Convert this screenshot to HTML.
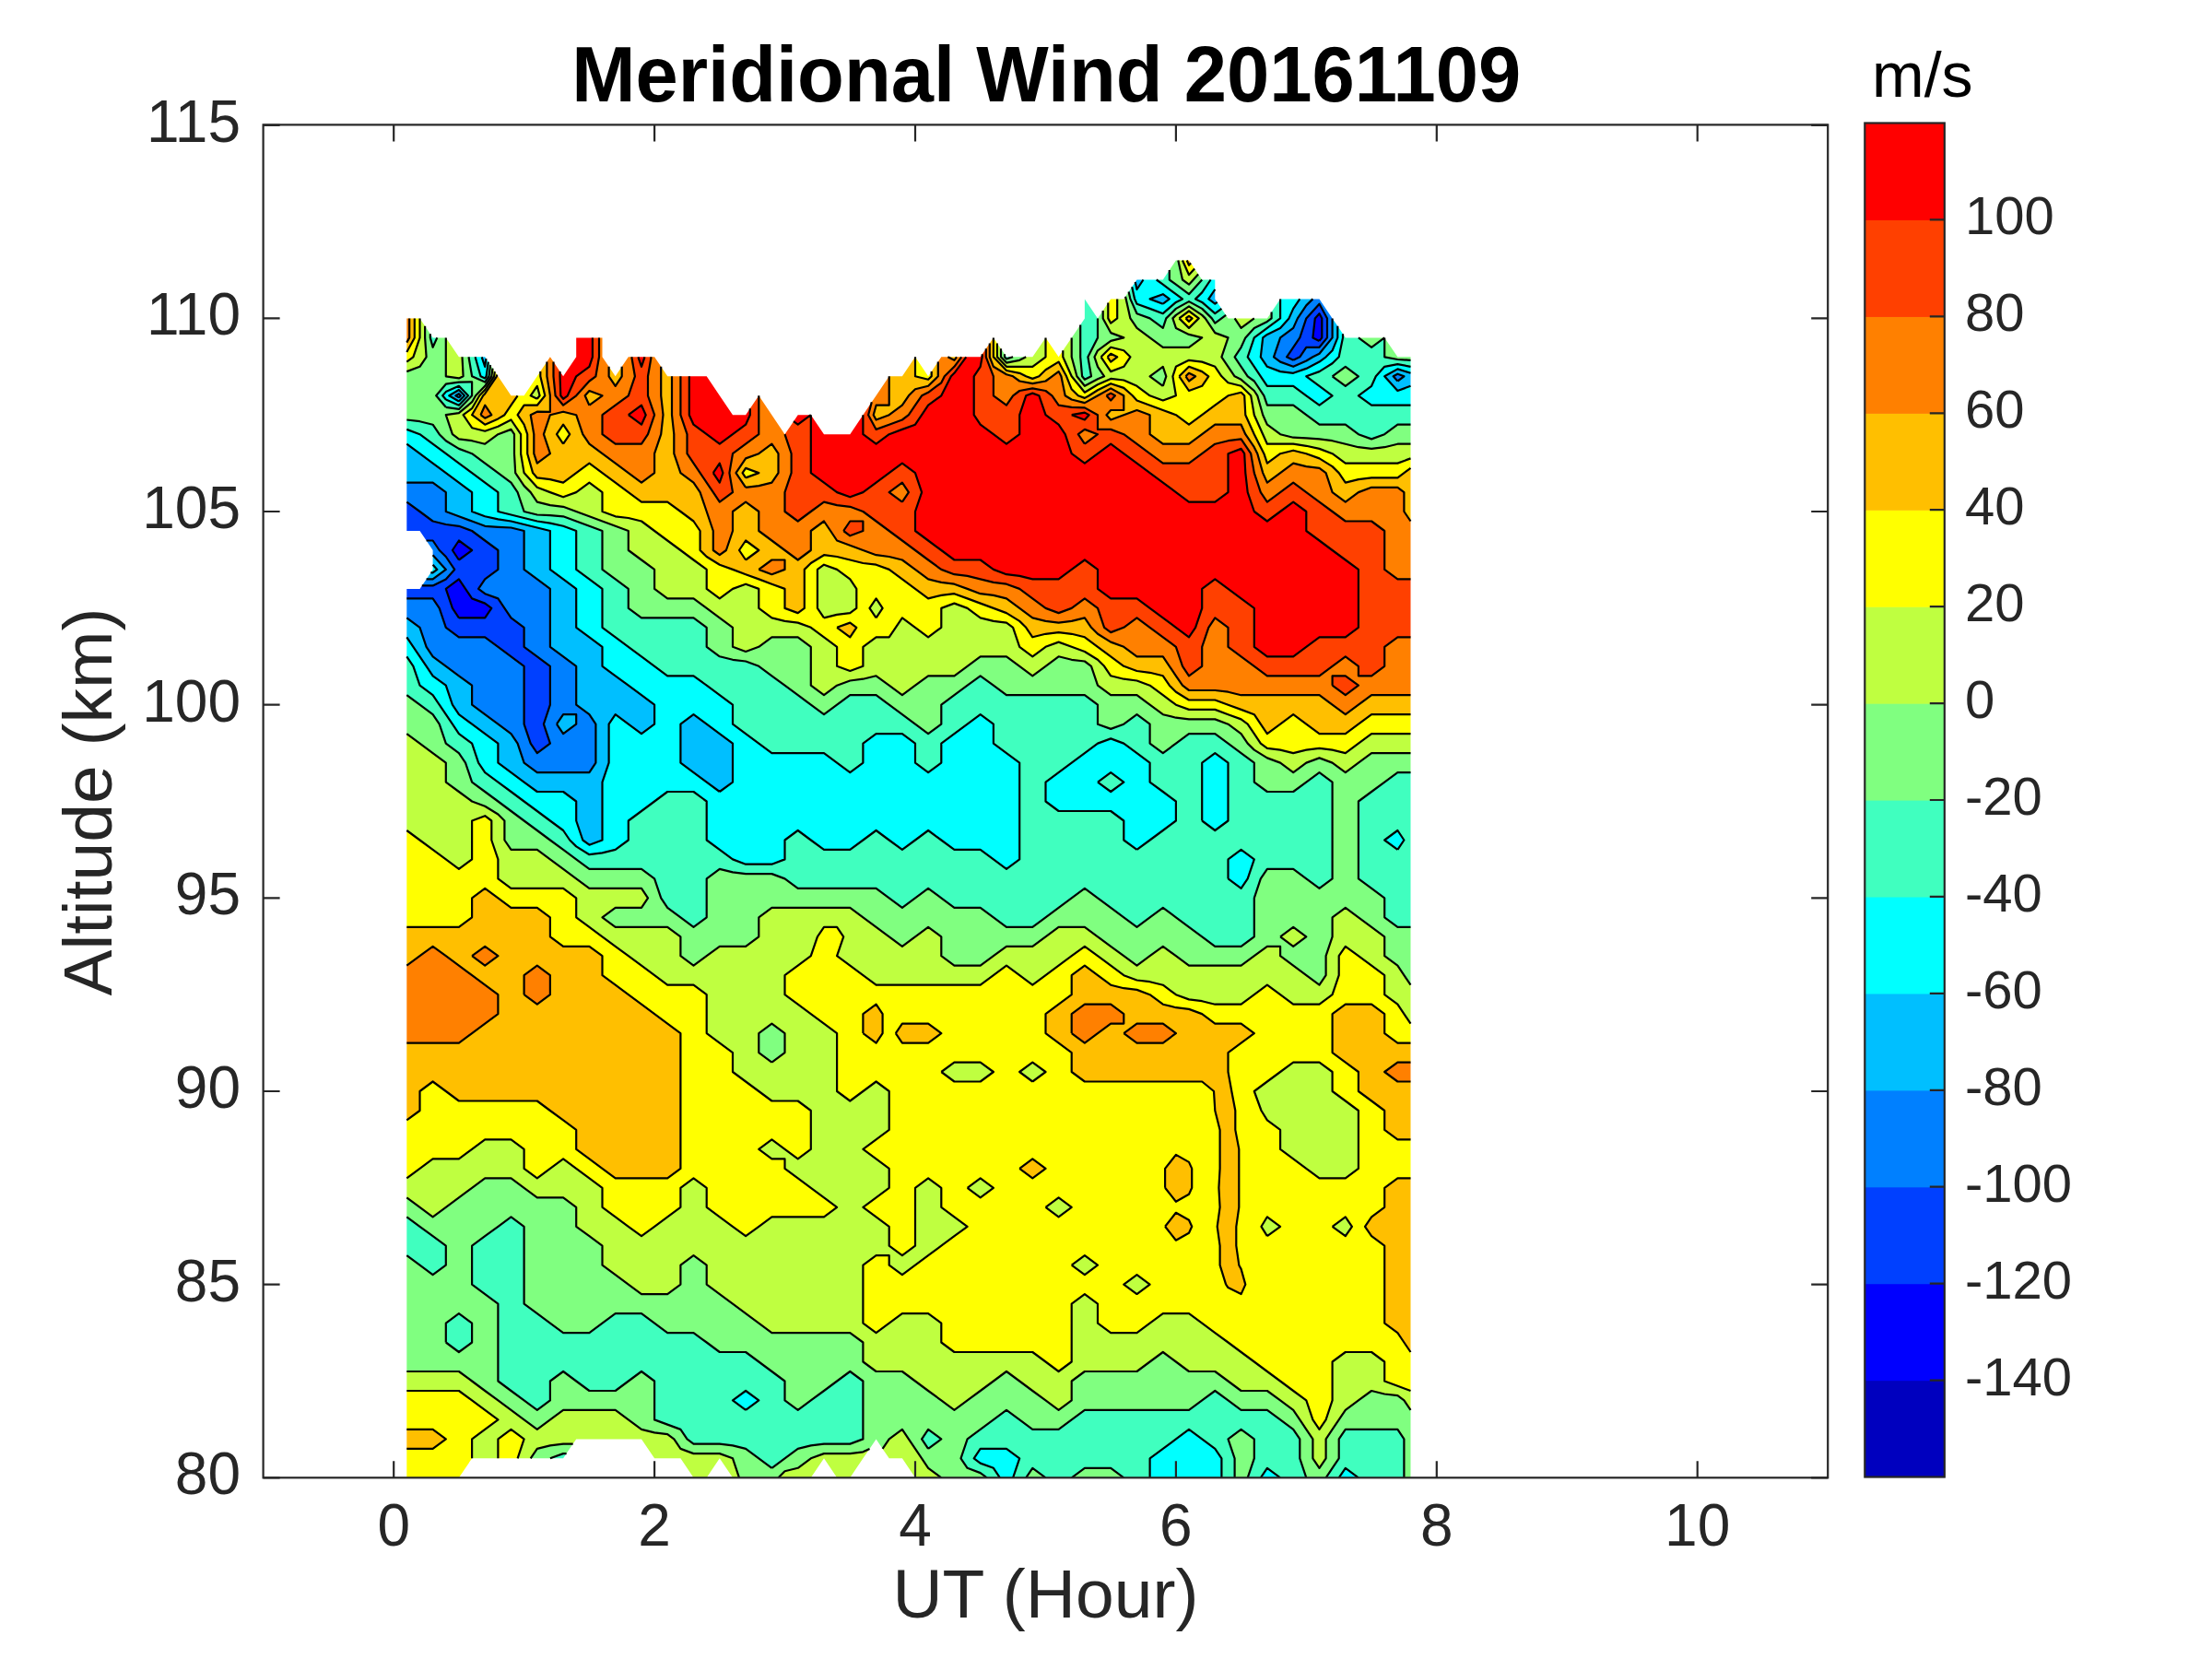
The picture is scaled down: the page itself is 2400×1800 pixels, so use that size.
<!DOCTYPE html><html><head><meta charset="utf-8"><style>html,body{margin:0;padding:0;background:#fff;width:2400px;height:1800px;overflow:hidden}svg{display:block}text{font-family:"Liberation Sans",sans-serif}</style></head><body><svg xmlns="http://www.w3.org/2000/svg" width="2400" height="1800" viewBox="0 0 2400 1800"><rect width="2400" height="1800" fill="#fff"/><defs><clipPath id="pa"><rect x="285.6" y="135.4" width="1697.6" height="1467.8999999999999"/></clipPath></defs><g clip-path="url(#pa)"><path fill="#0000ff" fill-rule="evenodd" d="M490.9 659.9L497.9 670.4L512.1 670.4L526.2 670.4L533.3 659.9L526.2 654.6L512.1 649.4L505 638.9L497.9 628.4L483.8 638.9L483.8 638.9L483.8 638.9ZM490.9 597L497.9 607.5L512.1 597L512.1 597L512.1 597L497.9 586.5ZM1424.4 366.4L1431.5 369.9L1434.3 366.4L1434.3 345.4L1431.5 340.2L1426.8 345.4Z"/>
<path fill="#0040ff" fill-rule="evenodd" d="M575.7 806.6L582.8 817.1L596.9 806.6L596.9 806.6L596.9 806.6L589.9 785.7L596.9 764.7L596.9 764.7L596.9 743.7L596.9 722.8L596.9 722.8L582.8 712.3L568.6 701.8L568.6 680.8L568.6 680.8L554.5 670.4L547.4 659.9L540.4 649.4L526.2 644.2L519.1 638.9L526.2 628.4L540.4 617.9L540.4 617.9L540.4 597L540.4 597L526.2 586.5L512.1 576L512.1 576L497.9 570.8L483.8 569L469.6 565.5L455.5 555L455.5 555L441.3 544.6L441.3 555L441.3 576L455.5 576L462.6 586.5L469.6 586.5L476.7 597L483.8 604L493.2 617.9L483.8 628.4L469.6 635.4L457.8 635.4L455.5 638.9L441.3 638.9L441.3 649.4L455.5 649.4L469.6 649.4L476.7 659.9L483.8 680.8L483.8 680.8L497.9 691.3L512.1 691.3L526.2 691.3L540.4 701.8L540.4 701.8L554.5 712.3L568.6 722.8L568.6 743.7L568.6 764.7L568.6 785.7L568.6 785.7ZM497.9 670.4L490.9 659.9L483.8 638.9L483.8 638.9L483.8 638.9L497.9 628.4L505 638.9L512.1 649.4L526.2 654.6L533.3 659.9L526.2 670.4L512.1 670.4ZM497.9 607.5L490.9 597L497.9 586.5L512.1 597L512.1 597L512.1 597ZM1396.1 387.3L1403.2 390.8L1410.3 387.3L1417.3 376.8L1431.5 376.8L1440 366.4L1440 345.4L1431.5 329.7L1417.3 345.4L1417.3 345.4L1410.3 366.4L1403.2 376.8ZM1431.5 369.9L1424.4 366.4L1426.8 345.4L1431.5 340.2L1434.3 345.4L1434.3 366.4Z"/>
<path fill="#0080ff" fill-rule="evenodd" d="M568.6 827.6L582.8 838.1L596.9 838.1L611.1 838.1L625.2 838.1L639.4 838.1L646.4 827.6L646.4 806.6L646.4 785.7L639.4 775.2L625.2 764.7L625.2 743.7L625.2 722.8L625.2 722.8L611.1 712.3L596.9 701.8L596.9 680.8L596.9 659.9L596.9 638.9L596.9 638.9L582.8 628.4L568.6 617.9L568.6 597L568.6 576L568.6 576L554.5 572.5L540.4 571.8L526.2 570.8L512.1 565.5L497.9 560.3L483.8 555L483.8 534.1L483.8 534.1L469.6 523.6L455.5 523.6L441.3 523.6L441.3 534.1L441.3 544.6L455.5 555L455.5 555L469.6 565.5L483.8 569L497.9 570.8L512.1 576L512.1 576L526.2 586.5L540.4 597L540.4 597L540.4 617.9L540.4 617.9L526.2 628.4L519.1 638.9L526.2 644.2L540.4 649.4L547.4 659.9L554.5 670.4L568.6 680.8L568.6 680.8L568.6 701.8L582.8 712.3L596.9 722.8L596.9 722.8L596.9 743.7L596.9 764.7L596.9 764.7L589.9 785.7L596.9 806.6L596.9 806.6L596.9 806.6L582.8 817.1L575.7 806.6L568.6 785.7L568.6 785.7L568.6 764.7L568.6 743.7L568.6 722.8L554.5 712.3L540.4 701.8L540.4 701.8L526.2 691.3L512.1 691.3L497.9 691.3L483.8 680.8L483.8 680.8L476.7 659.9L469.6 649.4L455.5 649.4L441.3 649.4L441.3 659.9L441.3 670.4L455.5 680.8L455.5 680.8L462.6 701.8L469.6 712.3L483.8 722.8L483.8 722.8L497.9 733.3L512.1 743.7L512.1 743.7L512.1 764.7L526.2 775.2L540.4 785.7L540.4 785.7L554.5 796.1L561.6 806.6L568.6 827.6ZM611.1 796.1L604 785.7L611.1 775.2L625.2 775.2L625.2 785.7L625.2 785.7ZM462.6 628.4L457.8 635.4L469.6 635.4L483.8 628.4L493.2 617.9L483.8 604L476.7 597L469.6 586.5L462.6 586.5L469.6 597L469.6 602.2L483.8 617.9L469.6 628.4ZM494.4 429.3L497.9 431.4L499.9 429.3L497.9 427.2ZM1511.7 408.3L1516.4 413.5L1523.4 408.3L1516.4 405.7ZM1382 387.3L1389.1 392.6L1403.2 397.8L1417.3 391.5L1424.4 387.3L1431.5 383.8L1445.6 366.4L1445.6 345.4L1445.6 345.4L1431.5 324.4L1424.4 324.4L1417.3 331.4L1407.9 345.4L1403.2 355.9L1389.1 366.4L1389.1 366.4ZM1403.2 390.8L1396.1 387.3L1403.2 376.8L1410.3 366.4L1417.3 345.4L1417.3 345.4L1431.5 329.7L1440 345.4L1440 366.4L1431.5 376.8L1417.3 376.8L1410.3 387.3Z"/>
<path fill="#00bfff" fill-rule="evenodd" d="M632.3 911.5L639.4 916.7L653.5 911.5L653.5 911.5L653.5 890.5L653.5 869.5L653.5 848.6L660.6 827.6L660.6 806.6L660.6 785.7L667.7 775.2L681.8 785.7L681.8 785.7L696 796.1L710.1 785.7L710.1 785.7L710.1 764.7L710.1 764.7L696 754.2L681.8 743.7L681.8 743.7L667.7 733.3L653.5 722.8L653.5 701.8L653.5 701.8L639.4 691.3L625.2 680.8L625.2 659.9L625.2 638.9L625.2 638.9L611.1 628.4L596.9 617.9L596.9 597L596.9 576L596.9 576L582.8 572.5L568.6 569L554.5 565.5L540.4 563.4L526.2 560.3L512.1 555L512.1 534.1L512.1 534.1L497.9 523.6L483.8 513.1L483.8 513.1L469.6 502.6L455.5 492.2L455.5 492.2L441.3 481.7L441.3 492.2L441.3 513.1L441.3 523.6L455.5 523.6L469.6 523.6L483.8 534.1L483.8 534.1L483.8 555L497.9 560.3L512.1 565.5L526.2 570.8L540.4 571.8L554.5 572.5L568.6 576L568.6 576L568.6 597L568.6 617.9L582.8 628.4L596.9 638.9L596.9 638.9L596.9 659.9L596.9 680.8L596.9 701.8L611.1 712.3L625.2 722.8L625.2 722.8L625.2 743.7L625.2 764.7L639.4 775.2L646.4 785.7L646.4 806.6L646.4 827.6L639.4 838.1L625.2 838.1L611.1 838.1L596.9 838.1L582.8 838.1L568.6 827.6L568.6 827.6L561.6 806.6L554.5 796.1L540.4 785.7L540.4 785.7L526.2 775.2L512.1 764.7L512.1 743.7L512.1 743.7L497.9 733.3L483.8 722.8L483.8 722.8L469.6 712.3L462.6 701.8L455.5 680.8L455.5 680.8L441.3 670.4L441.3 680.8L441.3 691.3L448.4 701.8L455.5 712.3L462.6 722.8L469.6 733.3L483.8 743.7L483.8 743.7L490.9 764.7L497.9 775.2L512.1 785.7L512.1 785.7L526.2 796.1L540.4 806.6L540.4 827.6L540.4 827.6L554.5 838.1L568.6 848.6L568.6 848.6L582.8 859L596.9 859L611.1 859L625.2 869.5L625.2 869.5L625.2 890.5ZM766.7 848.6L780.8 859L795 848.6L795 848.6L795 827.6L795 806.6L795 806.6L780.8 796.1L766.7 785.7L766.7 785.7L752.5 775.2L738.4 785.7L738.4 785.7L738.4 806.6L738.4 827.6L738.4 827.6L752.5 838.1L766.7 848.6ZM604 785.7L611.1 796.1L625.2 785.7L625.2 785.7L625.2 775.2L611.1 775.2ZM467.3 621.4L462.6 628.4L469.6 628.4L483.8 617.9L469.6 602.2L469.6 612.7L474.3 617.9L469.6 621.4ZM487.3 429.3L497.9 435.5L504 429.3L497.9 423ZM497.9 431.4L494.4 429.3L497.9 427.2L499.9 429.3ZM1502.2 408.3L1516.4 424L1530.5 418.8L1530.5 408.3L1530.5 404.8L1516.4 400.4ZM1516.4 413.5L1511.7 408.3L1516.4 405.7L1523.4 408.3ZM522.7 387.3L526.2 397.8L527.4 389.1L526.2 387.3ZM1367.8 387.3L1374.9 397.8L1389.1 403.1L1403.2 404.8L1417.3 399.9L1431.5 392.6L1438.6 387.3L1445.6 380.3L1451.3 366.4L1451.3 353.8L1445.6 345.4L1445.6 345.4L1445.6 345.4L1445.6 366.4L1431.5 383.8L1424.4 387.3L1417.4 391.5L1403.2 397.8L1389.1 392.6L1382 387.3L1389.1 366.4L1389.1 366.4L1403.2 355.9L1407.9 345.4L1417.3 331.4L1424.4 324.4L1417.3 324.4L1410.3 324.4L1403.2 334.9L1398.5 345.4L1389.1 355.9L1374.9 362.9L1370.2 366.4ZM1247.6 324.4L1261.8 329.7L1268.8 324.4L1261.8 319.2ZM1311.3 324.4L1318.3 329.7L1320.7 327.9L1318.3 324.4L1318.3 314ZM1233.5 303.5L1231.7 306.1L1233.5 314L1240.5 303.5Z"/>
<path fill="#00ffff" fill-rule="evenodd" d="M1056.7 1582.3L1063.7 1587.6L1077.9 1592.8L1084.9 1603.3L1092 1603.3L1099.1 1603.3L1106.2 1582.3L1106.2 1582.3L1106.2 1582.3L1092 1571.9L1077.9 1571.9L1063.7 1571.9ZM1247.6 1603.3L1261.8 1603.3L1275.9 1603.3L1290 1603.3L1304.2 1603.3L1318.3 1603.3L1325.4 1603.3L1325.4 1582.3L1318.3 1571.9L1304.2 1561.4L1304.2 1561.4L1290 1550.9L1275.9 1561.4L1275.9 1561.4L1261.8 1571.9L1247.6 1582.3ZM1367.8 1603.3L1374.9 1603.3L1389.1 1603.3L1389.1 1603.3L1389.1 1603.3L1374.9 1592.8ZM1452.7 1603.3L1459.8 1603.3L1473.9 1603.3L1459.8 1592.8ZM795 1519.4L809.1 1529.9L823.3 1519.4L823.3 1519.4L823.3 1519.4L809.1 1509ZM1332.5 953.4L1332.5 953.4L1346.6 963.9L1353.7 953.4L1360.8 932.4L1360.8 932.4L1360.8 932.4L1346.6 921.9L1332.5 932.4L1332.5 932.4ZM795 932.4L809.1 937.7L823.3 937.7L837.4 937.7L851.5 932.4L851.5 932.4L851.5 911.5L865.7 901L879.8 911.5L879.8 911.5L894 921.9L908.1 921.9L922.3 921.9L936.4 911.5L936.4 911.5L950.6 901L964.7 911.5L964.7 911.5L978.9 921.9L993 911.5L993 911.5L1007.1 901L1021.3 911.5L1021.3 911.5L1035.4 921.9L1049.6 921.9L1063.7 921.9L1077.9 932.4L1077.9 932.4L1092 942.9L1106.2 932.4L1106.2 932.4L1106.2 911.5L1106.2 890.5L1106.2 869.5L1106.2 848.6L1106.2 827.6L1106.2 827.6L1092 817.1L1077.9 806.6L1077.9 785.7L1077.9 785.7L1063.7 775.2L1049.6 785.7L1049.6 785.7L1035.4 796.1L1021.3 806.6L1021.3 806.6L1021.3 827.6L1007.1 838.1L993 827.6L993 806.6L993 806.6L978.9 796.1L964.7 796.1L950.6 796.1L936.4 806.6L936.4 827.6L936.4 827.6L922.3 838.1L908.1 827.6L908.1 827.6L894 817.1L879.8 817.1L865.7 817.1L851.5 817.1L837.4 817.1L823.3 806.6L823.3 806.6L809.1 796.1L795 785.7L795 764.7L795 764.7L780.8 754.2L766.7 743.7L766.7 743.7L752.5 733.3L738.4 733.3L724.2 733.3L710.1 722.8L710.1 722.8L696 712.3L681.8 701.8L681.8 701.8L667.7 691.3L653.5 680.8L653.5 659.9L653.5 638.9L653.5 638.9L639.4 628.4L625.2 617.9L625.2 597L625.2 576L625.2 576L611.1 570.8L596.9 567.6L582.8 565.5L568.6 562L554.5 558.5L540.4 555L540.4 534.1L540.4 534.1L526.2 523.6L512.1 513.1L512.1 513.1L497.9 502.6L483.8 492.2L483.8 492.2L469.6 481.7L455.5 471.2L455.5 471.2L441.3 465.9L441.3 471.2L441.3 481.7L455.5 492.2L455.5 492.2L469.6 502.6L483.8 513.1L483.8 513.1L497.9 523.6L512.1 534.1L512.1 534.1L512.1 555L526.2 560.3L540.4 563.4L554.5 565.5L568.6 569L582.8 572.5L596.9 576L596.9 576L596.9 597L596.9 617.9L611.1 628.4L625.2 638.9L625.2 638.9L625.2 659.9L625.2 680.8L639.4 691.3L653.5 701.8L653.5 701.8L653.5 722.8L667.7 733.3L681.8 743.7L681.8 743.7L696 754.2L710.1 764.7L710.1 764.7L710.1 785.7L710.1 785.7L696 796.1L681.8 785.7L681.8 785.7L667.7 775.2L660.6 785.7L660.6 806.6L660.6 827.6L653.5 848.6L653.5 869.5L653.5 890.5L653.5 911.5L653.5 911.5L639.4 916.7L632.3 911.5L625.2 890.5L625.2 869.5L625.2 869.5L611.1 859L596.9 859L582.8 859L568.6 848.6L568.6 848.6L554.5 838.1L540.4 827.6L540.4 827.6L540.4 806.6L526.2 796.1L512.1 785.7L512.1 785.7L497.9 775.2L490.9 764.7L483.8 743.7L483.8 743.7L469.6 733.3L462.6 722.8L455.5 712.3L448.4 701.8L441.3 691.3L441.3 701.8L441.3 712.3L448.4 722.8L455.5 743.7L455.5 743.7L469.6 754.2L476.7 764.7L483.8 775.2L490.9 785.7L497.9 796.1L512.1 806.6L512.1 806.6L519.1 827.6L526.2 838.1L540.4 848.6L540.4 848.6L554.5 859L568.6 869.5L568.6 869.5L582.8 880L596.9 890.5L596.9 890.5L611.1 901L618.2 911.5L625.2 918.4L639.4 927.2L653.5 925.4L667.7 921.9L681.8 911.5L681.8 911.5L681.8 890.5L696 880L710.1 869.5L710.1 869.5L724.2 859L738.4 859L752.5 859L766.7 869.5L766.7 869.5L766.7 890.5L766.7 911.5L780.8 921.9L795 932.4ZM780.8 859L766.7 848.6L766.7 848.6L752.5 838.1L738.4 827.6L738.4 827.6L738.4 806.6L738.4 785.7L738.4 785.7L752.5 775.2L766.7 785.7L766.7 785.7L780.8 796.1L795 806.6L795 806.6L795 827.6L795 848.6L795 848.6ZM1219.3 911.5L1233.5 921.9L1247.6 911.5L1247.6 911.5L1261.8 901L1275.9 890.5L1275.9 890.5L1275.9 869.5L1275.9 869.5L1261.8 859L1247.6 848.6L1247.6 827.6L1247.6 827.6L1233.5 817.1L1219.3 806.6L1219.3 806.6L1205.2 801.4L1191 806.6L1191 806.6L1176.9 817.1L1162.7 827.6L1162.7 827.6L1148.6 838.1L1134.5 848.6L1134.5 848.6L1134.5 869.5L1134.5 869.5L1148.6 880L1162.7 880L1176.9 880L1191 880L1205.2 880L1219.3 890.5L1219.3 890.5ZM1191 848.6L1191 848.6L1191 848.6L1205.2 838.1L1219.3 848.6L1219.3 848.6L1219.3 848.6L1205.2 859ZM1502.2 911.5L1516.4 921.9L1523.4 911.5L1516.4 901ZM1304.2 890.5L1304.2 890.5L1318.3 901L1332.5 890.5L1332.5 869.5L1332.5 848.6L1332.5 827.6L1318.3 817.1L1304.2 827.6L1304.2 827.6L1304.2 848.6L1304.2 869.5ZM469.6 617.9L467.3 621.4L469.6 621.4L474.3 617.9L469.6 612.7ZM480.2 429.3L483.8 433.5L497.9 439.7L508 429.3L497.9 418.8L483.8 425.1ZM497.9 435.5L487.3 429.3L497.9 423L504 429.3ZM1417.3 429.3L1417.3 429.3L1431.5 439.7L1445.6 429.3L1431.5 418.8L1417.3 408.3L1431.5 403.1L1445.6 394.3L1452.7 387.3L1457 366.4L1457 362.2L1451.3 353.8L1451.3 366.4L1445.6 380.3L1438.6 387.3L1431.5 392.6L1417.3 399.9L1403.2 404.8L1389.1 403.1L1374.9 397.8L1367.8 387.3L1370.2 366.4L1374.9 362.9L1389.1 355.9L1398.5 345.4L1403.2 334.9L1410.3 324.4L1403.2 324.4L1389.1 324.4L1389.1 345.4L1389.1 345.4L1374.9 355.9L1360.8 366.4L1360.8 366.4L1353.7 387.3L1360.8 397.8L1367.8 408.3L1374.9 418.8L1389.1 418.8L1403.2 418.8ZM1473.9 429.3L1473.9 429.3L1488.1 439.7L1502.2 439.7L1516.4 439.7L1530.5 439.7L1530.5 429.3L1530.5 418.8L1516.4 424L1502.2 408.3L1516.4 400.4L1530.5 404.8L1530.5 397.8L1516.4 395.2L1502.2 397.8L1492.8 408.3L1488.1 418.8L1473.9 429.3ZM521.5 408.3L526.2 410.4L527.6 408.3L529.8 392.6L527.4 389.1L526.2 397.8L522.7 387.3L515.6 387.3ZM1231.1 324.4L1233.5 329.7L1247.6 334.9L1261.8 340.2L1275.9 327.9L1283 324.4L1275.9 319.2L1261.8 308.7L1254.7 303.5L1247.6 303.5L1240.5 303.5L1233.5 314L1231.7 306.1L1228.2 311.3ZM1261.8 329.7L1247.6 324.4L1261.8 319.2L1268.8 324.4ZM1297.1 324.4L1304.2 327.9L1318.3 340.2L1325.4 334.9L1320.7 327.9L1318.3 329.7L1311.3 324.4L1318.3 314L1318.3 303.5L1313.6 303.5L1304.2 317.4Z"/>
<path fill="#40ffbf" fill-rule="evenodd" d="M823.3 1582.3L837.4 1592.8L851.5 1582.3L851.5 1582.3L865.7 1571.9L879.8 1568.4L894 1566.6L908.1 1566.6L922.3 1566.6L936.4 1561.4L936.4 1561.4L936.4 1540.4L936.4 1519.4L936.4 1498.5L936.4 1498.5L922.3 1488L908.1 1498.5L908.1 1498.5L894 1509L879.8 1519.4L879.8 1519.4L865.7 1529.9L851.5 1519.4L851.5 1498.5L851.5 1498.5L837.4 1488L823.3 1477.5L823.3 1477.5L809.1 1467L795 1467L780.8 1467L766.7 1456.5L766.7 1456.5L752.5 1446.1L738.4 1446.1L724.2 1446.1L710.1 1435.6L710.1 1435.6L696 1425.1L681.8 1425.1L667.7 1425.1L653.5 1435.6L653.5 1435.6L639.4 1446.1L625.2 1446.1L611.1 1446.1L596.9 1435.6L596.9 1435.6L582.8 1425.1L568.6 1414.6L568.6 1393.6L568.6 1372.7L568.6 1351.7L568.6 1330.8L568.6 1330.8L554.5 1320.3L540.4 1330.8L540.4 1330.8L526.2 1341.2L512.1 1351.7L512.1 1372.7L512.1 1393.6L526.2 1404.1L540.4 1414.6L540.4 1435.6L540.4 1456.5L540.4 1477.5L540.4 1498.5L540.4 1498.5L554.5 1509L568.6 1519.4L568.6 1519.4L582.8 1529.9L596.9 1519.4L596.9 1519.4L596.9 1498.5L611.1 1488L625.2 1498.5L625.2 1498.5L639.4 1509L653.5 1509L667.7 1509L681.8 1498.5L681.8 1498.5L696 1488L710.1 1498.5L710.1 1498.5L710.1 1519.4L710.1 1540.4L724.2 1545.6L738.4 1550.9L745.5 1561.4L752.5 1566.6L766.7 1566.6L780.8 1566.6L795 1568.4L809.1 1571.9L823.3 1582.3ZM809.1 1529.9L795 1519.4L809.1 1509L823.3 1519.4L823.3 1519.4L823.3 1519.4ZM1042.5 1582.3L1049.6 1592.8L1063.7 1598.1L1070.8 1603.3L1077.9 1603.3L1084.9 1603.3L1077.9 1592.8L1063.7 1587.6L1056.7 1582.3L1063.7 1571.9L1077.9 1571.9L1092 1571.9L1106.2 1582.3L1106.2 1582.3L1106.2 1582.3L1099.1 1603.3L1106.2 1603.3L1113.2 1603.3L1120.3 1592.8L1134.5 1603.3L1134.5 1603.3L1148.6 1603.3L1162.7 1603.3L1162.7 1603.3L1176.9 1592.8L1191 1592.8L1205.2 1592.8L1219.3 1603.3L1219.3 1603.3L1233.5 1603.3L1247.6 1603.3L1247.6 1603.3L1247.6 1582.3L1261.8 1571.9L1275.9 1561.4L1275.9 1561.4L1290 1550.9L1304.2 1561.4L1304.2 1561.4L1318.3 1571.9L1325.4 1582.3L1325.4 1603.3L1332.5 1603.3L1339.6 1603.3L1339.6 1582.3L1332.5 1561.4L1332.5 1561.4L1332.5 1561.4L1346.6 1550.9L1360.8 1561.4L1360.8 1561.4L1360.8 1582.3L1360.8 1582.3L1353.7 1603.3L1360.8 1603.3L1367.8 1603.3L1374.9 1592.8L1389.1 1603.3L1389.1 1603.3L1403.2 1603.3L1417.3 1603.3L1417.3 1603.3L1417.3 1603.3L1410.3 1582.3L1410.3 1561.4L1403.2 1550.9L1389.1 1540.4L1389.1 1540.4L1374.9 1529.9L1360.8 1529.9L1346.6 1529.9L1332.5 1519.4L1332.5 1519.4L1318.3 1509L1304.2 1519.4L1304.2 1519.4L1290 1529.9L1275.9 1529.9L1261.8 1529.9L1247.6 1529.9L1233.5 1529.9L1219.3 1529.9L1205.2 1529.9L1191 1529.9L1176.9 1529.9L1162.7 1540.4L1162.7 1540.4L1148.6 1550.9L1134.5 1550.9L1120.3 1550.9L1106.2 1540.4L1106.2 1540.4L1092 1529.9L1077.9 1540.4L1077.9 1540.4L1063.7 1550.9L1049.6 1561.4L1049.6 1561.4ZM1438.6 1603.3L1445.6 1603.3L1452.7 1603.3L1459.8 1592.8L1473.9 1603.3L1473.9 1603.3L1488.1 1603.3L1502.2 1603.3L1516.4 1603.3L1523.4 1603.3L1523.4 1582.3L1523.4 1561.4L1516.4 1550.9L1502.2 1550.9L1488.1 1550.9L1473.9 1550.9L1459.8 1550.9L1452.7 1561.4L1452.7 1582.3L1445.6 1592.8ZM596.9 1582.3L611.1 1582.3L614.6 1577.1L611.1 1577.1ZM1000.1 1561.4L1007.1 1571.9L1021.3 1561.4L1007.1 1550.9ZM483.8 1456.5L483.8 1456.5L497.9 1467L512.1 1456.5L512.1 1456.5L512.1 1435.6L512.1 1435.6L497.9 1425.1L483.8 1435.6L483.8 1435.6ZM455.5 1372.7L455.5 1372.7L469.6 1383.2L483.8 1372.7L483.8 1372.7L483.8 1351.7L483.8 1351.7L469.6 1341.2L455.5 1330.8L455.5 1330.8L441.3 1320.3L441.3 1330.8L441.3 1351.7L441.3 1362.2ZM1304.2 1016.3L1304.2 1016.3L1318.3 1026.8L1332.5 1026.8L1346.6 1026.8L1360.8 1016.3L1360.8 1016.3L1360.8 995.3L1360.8 974.3L1367.8 953.4L1374.9 942.9L1389.1 942.9L1403.2 942.9L1417.3 953.4L1417.3 953.4L1431.5 963.9L1445.6 953.4L1445.6 932.4L1445.6 911.5L1445.6 890.5L1445.6 869.5L1445.6 848.6L1431.5 838.1L1417.3 848.6L1417.3 848.6L1403.2 859L1389.1 859L1374.9 859L1360.8 848.6L1360.8 827.6L1360.8 827.6L1346.6 817.1L1332.5 806.6L1332.5 806.6L1318.3 796.1L1304.2 796.1L1290 796.1L1275.9 806.6L1275.9 806.6L1261.8 817.1L1247.6 806.6L1247.6 785.7L1247.6 785.7L1233.5 775.2L1219.3 785.7L1219.3 785.7L1205.2 790.9L1191 785.7L1191 785.7L1191 764.7L1176.9 754.2L1162.7 754.2L1148.6 754.2L1134.5 754.2L1120.3 754.2L1106.2 754.2L1092 754.2L1077.9 743.7L1077.9 743.7L1063.7 733.3L1049.6 743.7L1049.6 743.7L1035.4 754.2L1021.3 764.7L1021.3 764.7L1021.3 785.7L1007.1 796.1L993 785.7L993 785.7L978.9 775.2L964.7 764.7L964.7 764.7L950.6 754.2L936.4 754.2L922.3 754.2L908.1 764.7L908.1 764.7L894 775.2L879.8 764.7L879.8 764.7L865.7 754.2L851.5 743.7L851.5 743.7L837.4 733.3L823.3 722.8L823.3 722.8L809.1 717.5L795 715.8L780.8 712.3L766.7 701.8L766.7 680.8L766.7 680.8L752.5 670.4L738.4 670.4L724.2 670.4L710.1 670.4L696 670.4L681.8 659.9L681.8 638.9L681.8 638.9L667.7 628.4L653.5 617.9L653.5 597L653.5 576L653.5 576L639.4 570.8L625.2 565.5L611.1 560.3L596.9 559.2L582.8 558.5L568.6 555L568.6 555L561.6 534.1L554.5 523.6L540.4 513.1L540.4 513.1L526.2 502.6L512.1 492.2L512.1 492.2L497.9 486.9L483.8 478.2L476.7 471.2L469.6 460.7L455.5 457.2L441.3 455.5L441.3 465.9L455.5 471.2L455.5 471.2L469.6 481.7L483.8 492.2L483.8 492.2L497.9 502.6L512.1 513.1L512.1 513.1L526.2 523.6L540.4 534.1L540.4 534.1L540.4 555L554.5 558.5L568.6 562L582.8 565.5L596.9 567.6L611.1 570.8L625.2 576L625.2 576L625.2 597L625.2 617.9L639.4 628.4L653.5 638.9L653.5 638.9L653.5 659.9L653.5 680.8L667.7 691.3L681.8 701.8L681.8 701.8L696 712.3L710.1 722.8L710.1 722.8L724.2 733.3L738.4 733.3L752.5 733.3L766.7 743.7L766.7 743.7L780.8 754.2L795 764.7L795 764.7L795 785.7L809.1 796.1L823.3 806.6L823.3 806.6L837.4 817.1L851.5 817.1L865.7 817.1L879.8 817.1L894 817.1L908.1 827.6L908.1 827.6L922.3 838.1L936.4 827.6L936.4 827.6L936.4 806.6L950.6 796.1L964.7 796.1L978.9 796.1L993 806.6L993 806.6L993 827.6L1007.1 838.1L1021.3 827.6L1021.3 806.6L1021.3 806.6L1035.4 796.1L1049.6 785.7L1049.6 785.7L1063.7 775.2L1077.9 785.7L1077.9 785.7L1077.9 806.6L1092 817.1L1106.2 827.6L1106.2 827.6L1106.2 848.6L1106.2 869.5L1106.2 890.5L1106.2 911.5L1106.2 932.4L1106.2 932.4L1092 942.9L1077.9 932.4L1077.9 932.4L1063.7 921.9L1049.6 921.9L1035.4 921.9L1021.3 911.5L1021.3 911.5L1007.1 901L993 911.5L993 911.5L978.9 921.9L964.7 911.5L964.7 911.5L950.6 901L936.4 911.5L936.4 911.5L922.3 921.9L908.1 921.9L894 921.9L879.8 911.5L879.8 911.5L865.7 901L851.5 911.5L851.5 932.4L851.5 932.4L837.4 937.7L823.3 937.7L809.1 937.7L795 932.4L795 932.4L780.8 921.9L766.7 911.5L766.7 890.5L766.7 869.5L766.7 869.5L752.5 859L738.4 859L724.2 859L710.1 869.5L710.1 869.5L696 880L681.8 890.5L681.8 911.5L681.8 911.5L667.7 921.9L653.5 925.4L639.4 927.2L625.2 918.4L618.2 911.5L611.1 901L596.9 890.5L596.9 890.5L582.8 880L568.6 869.5L568.6 869.5L554.5 859L540.4 848.6L540.4 848.6L526.2 838.1L519.1 827.6L512.1 806.6L512.1 806.6L497.9 796.1L490.9 785.7L483.8 775.2L476.7 764.7L469.6 754.2L455.5 743.7L455.5 743.7L448.4 722.8L441.3 712.3L441.3 722.8L441.3 743.7L441.3 754.2L455.5 764.7L455.5 764.7L469.6 775.2L476.7 785.7L483.8 806.6L483.8 806.6L497.9 817.1L505 827.6L512.1 848.6L512.1 848.6L526.2 859L540.4 869.5L540.4 869.5L554.5 880L568.6 890.5L568.6 890.5L582.8 901L596.9 911.5L596.9 911.5L611.1 921.9L625.2 932.4L625.2 932.4L639.4 942.9L653.5 942.9L667.7 942.9L681.8 942.9L696 942.9L710.1 953.4L710.1 953.4L717.2 974.3L724.2 984.8L738.4 995.3L738.4 995.3L752.5 1005.8L766.7 995.3L766.7 995.3L766.7 974.3L766.7 953.4L780.8 942.9L795 946.4L809.1 948.1L823.3 948.1L837.4 948.1L851.5 953.4L851.5 953.4L865.7 963.9L879.8 963.9L894 963.9L908.1 963.9L922.3 963.9L936.4 963.9L950.6 963.9L964.7 974.3L964.7 974.3L978.9 984.8L993 974.3L993 974.3L1007.1 963.9L1021.3 974.3L1021.3 974.3L1035.4 984.8L1049.6 984.8L1063.7 984.8L1077.9 995.3L1077.9 995.3L1092 1005.8L1106.2 1005.8L1120.3 1005.8L1134.5 995.3L1134.5 995.3L1148.6 984.8L1162.7 974.3L1162.7 974.3L1176.9 963.9L1191 974.3L1191 974.3L1205.2 984.8L1219.3 995.3L1219.3 995.3L1233.5 1005.8L1247.6 995.3L1247.6 995.3L1261.8 984.8L1275.9 995.3L1275.9 995.3L1290 1005.8ZM1304.2 890.5L1304.2 890.5L1304.2 869.5L1304.2 848.6L1304.2 827.6L1304.2 827.6L1318.3 817.1L1332.5 827.6L1332.5 848.6L1332.5 869.5L1332.5 890.5L1318.3 901ZM1332.5 953.4L1332.5 953.4L1332.5 932.4L1332.5 932.4L1346.6 921.9L1360.8 932.4L1360.8 932.4L1360.8 932.4L1353.7 953.4L1346.6 963.9ZM1233.5 921.9L1219.3 911.5L1219.3 890.5L1219.3 890.5L1205.2 880L1191 880L1176.9 880L1162.7 880L1148.6 880L1134.5 869.5L1134.5 869.5L1134.5 848.6L1134.5 848.6L1148.6 838.1L1162.7 827.6L1162.7 827.6L1176.9 817.1L1191 806.6L1191 806.6L1205.2 801.4L1219.3 806.6L1219.3 806.6L1233.5 817.1L1247.6 827.6L1247.6 827.6L1247.6 848.6L1261.8 859L1275.9 869.5L1275.9 869.5L1275.9 890.5L1275.9 890.5L1261.8 901L1247.6 911.5L1247.6 911.5ZM1502.2 995.3L1516.4 1005.8L1530.5 1005.8L1530.5 995.3L1530.5 974.3L1530.5 953.4L1530.5 932.4L1530.5 911.5L1530.5 890.5L1530.5 869.5L1530.5 848.6L1530.5 838.1L1516.4 838.1L1502.2 848.6L1502.2 848.6L1488.1 859L1473.9 869.5L1473.9 869.5L1473.9 890.5L1473.9 911.5L1473.9 932.4L1473.9 953.4L1473.9 953.4L1488.1 963.9L1502.2 974.3L1502.2 974.3ZM1516.4 921.9L1502.2 911.5L1516.4 901L1523.4 911.5ZM1191 848.6L1191 848.6L1205.2 859L1219.3 848.6L1219.3 848.6L1219.3 848.6L1205.2 838.1L1191 848.6ZM1473.9 471.2L1473.9 471.2L1488.1 476.4L1502.2 471.2L1502.2 471.2L1516.4 460.7L1530.5 460.7L1530.5 450.2L1530.5 439.7L1516.4 439.7L1502.2 439.7L1488.1 439.7L1473.9 429.3L1473.9 429.3L1473.9 429.3L1488.1 418.8L1492.8 408.3L1502.2 397.8L1516.4 395.2L1530.5 397.8L1530.5 390.8L1516.4 390L1502.2 387.3L1502.2 366.4L1502.2 366.4L1502.2 366.4L1488.1 376.8L1473.9 366.4L1473.9 366.4L1459.8 366.4L1457 362.2L1457 366.4L1452.7 387.3L1445.6 394.3L1431.5 403.1L1417.3 408.3L1431.5 418.8L1445.6 429.3L1431.5 439.7L1417.3 429.3L1417.3 429.3L1403.2 418.8L1389.1 418.8L1374.9 418.8L1367.8 408.3L1360.8 397.8L1353.7 387.3L1360.8 366.4L1360.8 366.4L1374.9 355.9L1389.1 345.4L1389.1 345.4L1389.1 324.4L1389.1 324.4L1379.6 338.4L1379.6 345.4L1374.9 348.9L1360.8 355.9L1351.3 366.4L1346.6 376.8L1339.6 387.3L1346.6 397.8L1353.7 408.3L1360.8 413.5L1371.4 429.3L1374.9 439.7L1389.1 439.7L1403.2 439.7L1417.3 450.2L1417.3 450.2L1431.5 460.7L1445.6 460.7L1459.8 460.7ZM1445.6 408.3L1445.6 408.3L1445.6 408.3L1459.8 397.8L1473.9 408.3L1459.8 418.8ZM473.2 429.3L483.8 441.8L497.9 443.9L512.1 429.3L512.1 429.3L512.1 414.3L497.9 414.6L483.8 416.7ZM483.8 433.5L480.2 429.3L483.8 425.1L497.9 418.8L508 429.3L497.9 439.7ZM512.1 408.3L526.2 414.6L530.5 408.3L532.1 396.1L529.8 392.6L527.6 408.3L526.2 410.4L521.5 408.3L515.6 387.3L512.1 387.3L508.5 387.3L512.1 408.3ZM1174.1 408.3L1176.9 411.8L1184 408.3L1180.4 387.3L1191 366.4L1191 345.4L1191 345.4L1176.9 324.4L1176.9 345.4L1172.2 352.4L1172.2 366.4L1172.2 387.3ZM1090 387.3L1092 389.4L1099.1 387.3L1092 387.3L1090 384.3ZM466.8 366.4L469.6 376.8L474.3 366.4L469.6 366.4L466.8 362.2ZM1247.6 345.4L1261.8 355.9L1265.3 345.4L1275.9 334.9L1290 327.1L1304.2 334.9L1314.8 345.4L1318.3 350.6L1325.4 345.4L1330.1 341.9L1325.4 334.9L1318.3 340.2L1304.2 327.9L1297.1 324.4L1304.2 317.4L1313.6 303.5L1304.2 303.5L1304.2 303.5L1304.2 303.5L1290 319.2L1275.9 308.7L1268.8 303.5L1268.8 293L1261.8 303.5L1254.7 303.5L1261.8 308.7L1275.9 319.2L1283 324.4L1275.9 327.9L1261.8 340.2L1247.6 334.9L1233.5 329.7L1231.1 324.4L1228.2 311.3L1224.6 316.6L1226.4 324.4L1233.5 340.2L1247.6 345.4Z"/>
<path fill="#80ff80" fill-rule="evenodd" d="M802 1603.3L809.1 1603.3L823.3 1603.3L837.4 1603.3L844.5 1603.3L851.5 1596.3L865.7 1592.8L879.8 1582.3L879.8 1582.3L894 1577.1L908.1 1577.1L922.3 1577.1L936.4 1575.3L943.5 1571.9L950.6 1561.4L957.6 1571.9L964.7 1561.4L964.7 1561.4L978.9 1550.9L985.9 1561.4L993 1571.9L1000.1 1582.3L1007.1 1592.8L1021.3 1603.3L1021.3 1603.3L1035.4 1603.3L1049.6 1603.3L1063.7 1603.3L1070.8 1603.3L1063.7 1598.1L1049.6 1592.8L1042.5 1582.3L1049.6 1561.4L1049.6 1561.4L1063.7 1550.9L1077.9 1540.4L1077.9 1540.4L1092 1529.9L1106.2 1540.4L1106.2 1540.4L1120.3 1550.9L1134.5 1550.9L1148.6 1550.9L1162.7 1540.4L1162.7 1540.4L1176.9 1529.9L1191 1529.9L1205.2 1529.9L1219.3 1529.9L1233.5 1529.9L1247.6 1529.9L1261.8 1529.9L1275.9 1529.9L1290 1529.9L1304.2 1519.4L1304.2 1519.4L1318.3 1509L1332.5 1519.4L1332.5 1519.4L1346.6 1529.9L1360.8 1529.9L1374.9 1529.9L1389.1 1540.4L1389.1 1540.4L1403.2 1550.9L1410.3 1561.4L1410.3 1582.3L1417.3 1603.3L1417.3 1603.3L1431.5 1603.3L1438.6 1603.3L1445.6 1592.8L1452.7 1582.3L1452.7 1561.4L1459.8 1550.9L1473.9 1550.9L1488.1 1550.9L1502.2 1550.9L1516.4 1550.9L1523.4 1561.4L1523.4 1582.3L1523.4 1603.3L1530.5 1603.3L1530.5 1582.3L1530.5 1561.4L1530.5 1540.4L1530.5 1529.9L1523.4 1519.4L1516.4 1514.2L1502.2 1512.5L1488.1 1509L1473.9 1519.4L1473.9 1519.4L1459.8 1529.9L1452.7 1540.4L1445.6 1550.9L1438.6 1561.4L1438.6 1582.3L1431.5 1592.8L1424.4 1582.3L1424.4 1561.4L1417.3 1550.9L1410.3 1540.4L1403.2 1529.9L1389.1 1519.4L1389.1 1519.4L1374.9 1509L1360.8 1509L1346.6 1509L1332.5 1498.5L1332.5 1498.5L1318.3 1488L1304.2 1488L1290 1488L1275.9 1477.5L1275.9 1477.5L1261.8 1467L1247.6 1477.5L1247.6 1477.5L1233.5 1488L1219.3 1488L1205.2 1488L1191 1488L1176.9 1488L1162.7 1498.5L1162.7 1498.5L1162.7 1519.4L1148.6 1529.9L1134.5 1519.4L1134.5 1519.4L1120.3 1509L1106.2 1498.5L1106.2 1498.5L1092 1488L1077.9 1498.5L1077.9 1498.5L1063.7 1509L1049.6 1519.4L1049.6 1519.4L1035.4 1529.9L1021.3 1519.4L1021.3 1519.4L1007.1 1509L993 1498.5L993 1498.5L978.9 1488L964.7 1488L950.6 1488L936.4 1477.5L936.4 1456.5L936.4 1456.5L922.3 1446.1L908.1 1446.1L894 1446.1L879.8 1446.1L865.7 1446.1L851.5 1446.1L837.4 1446.1L823.3 1435.6L823.3 1435.6L809.1 1425.1L795 1414.6L795 1414.6L780.8 1404.1L766.7 1393.6L766.7 1372.7L766.7 1372.7L752.5 1362.2L738.4 1372.7L738.4 1372.7L738.4 1393.6L724.2 1404.1L710.1 1404.1L696 1404.1L681.8 1393.6L681.8 1393.6L667.7 1383.2L653.5 1372.7L653.5 1351.7L653.5 1351.7L639.4 1341.2L625.2 1330.8L625.2 1309.8L625.2 1309.8L611.1 1299.3L596.9 1299.3L582.8 1299.3L568.6 1288.8L568.6 1288.8L554.5 1278.3L540.4 1278.3L526.2 1278.3L512.1 1288.8L512.1 1288.8L497.9 1299.3L483.8 1309.8L483.8 1309.8L469.6 1320.3L455.5 1309.8L455.5 1309.8L441.3 1299.3L441.3 1309.8L441.3 1320.3L455.5 1330.8L455.5 1330.8L469.6 1341.2L483.8 1351.7L483.8 1351.7L483.8 1372.7L483.8 1372.7L469.6 1383.2L455.5 1372.7L455.5 1372.7L441.3 1362.2L441.3 1372.7L441.3 1393.6L441.3 1414.6L441.3 1435.6L441.3 1456.5L441.3 1477.5L441.3 1488L455.5 1488L469.6 1488L483.8 1488L497.9 1488L512.1 1498.5L512.1 1498.5L526.2 1509L540.4 1519.4L540.4 1519.4L554.5 1529.9L568.6 1540.4L568.6 1540.4L582.8 1550.9L596.9 1540.4L596.9 1540.4L611.1 1529.9L625.2 1529.9L639.4 1529.9L653.5 1529.9L667.7 1529.9L681.8 1540.4L681.8 1540.4L696 1550.9L710.1 1554.4L724.2 1556.1L731.3 1561.4L738.4 1571.9L752.5 1577.1L766.7 1577.1L780.8 1577.1L795 1582.3L795 1582.3ZM837.4 1592.8L823.3 1582.3L823.3 1582.3L809.1 1571.9L795 1568.4L780.8 1566.6L766.7 1566.6L752.5 1566.6L745.5 1561.4L738.4 1550.9L724.2 1545.6L710.1 1540.4L710.1 1519.4L710.1 1498.5L710.1 1498.5L696 1488L681.8 1498.5L681.8 1498.5L667.7 1509L653.5 1509L639.4 1509L625.2 1498.5L625.2 1498.5L611.1 1488L596.9 1498.5L596.9 1519.4L596.9 1519.4L582.8 1529.9L568.6 1519.4L568.6 1519.4L554.5 1509L540.4 1498.5L540.4 1498.5L540.4 1477.5L540.4 1456.5L540.4 1435.6L540.4 1414.6L526.2 1404.1L512.1 1393.6L512.1 1372.7L512.1 1351.7L526.2 1341.2L540.4 1330.8L540.4 1330.8L554.5 1320.3L568.6 1330.8L568.6 1330.8L568.6 1351.7L568.6 1372.7L568.6 1393.6L568.6 1414.6L582.8 1425.1L596.9 1435.6L596.9 1435.6L611.1 1446.1L625.2 1446.1L639.4 1446.1L653.5 1435.6L653.5 1435.6L667.7 1425.1L681.8 1425.1L696 1425.1L710.1 1435.6L710.1 1435.6L724.2 1446.1L738.4 1446.1L752.5 1446.1L766.7 1456.5L766.7 1456.5L780.8 1467L795 1467L809.1 1467L823.3 1477.5L823.3 1477.5L837.4 1488L851.5 1498.5L851.5 1498.5L851.5 1519.4L865.7 1529.9L879.8 1519.4L879.8 1519.4L894 1509L908.1 1498.5L908.1 1498.5L922.3 1488L936.4 1498.5L936.4 1498.5L936.4 1519.4L936.4 1540.4L936.4 1561.4L936.4 1561.4L922.3 1566.6L908.1 1566.6L894 1566.6L879.8 1568.4L865.7 1571.9L851.5 1582.3L851.5 1582.3ZM1007.1 1571.9L1000.1 1561.4L1007.1 1550.9L1021.3 1561.4ZM483.8 1456.5L483.8 1456.5L483.8 1435.6L483.8 1435.6L497.9 1425.1L512.1 1435.6L512.1 1435.6L512.1 1456.5L512.1 1456.5L497.9 1467ZM1113.2 1603.3L1120.3 1603.3L1134.5 1603.3L1120.3 1592.8ZM1162.7 1603.3L1162.7 1603.3L1176.9 1603.3L1191 1603.3L1205.2 1603.3L1219.3 1603.3L1219.3 1603.3L1219.3 1603.3L1205.2 1592.8L1191 1592.8L1176.9 1592.8L1162.7 1603.3ZM1339.6 1603.3L1346.6 1603.3L1353.7 1603.3L1360.8 1582.3L1360.8 1582.3L1360.8 1561.4L1360.8 1561.4L1346.6 1550.9L1332.5 1561.4L1332.5 1561.4L1332.5 1561.4L1339.6 1582.3ZM575.7 1582.3L582.8 1582.3L596.9 1582.3L596.9 1582.3L611.1 1577.1L614.6 1577.1L621.7 1566.6L611.1 1566.6L596.9 1568.4L582.8 1571.9ZM823.3 1142.1L837.4 1152.6L851.5 1142.1L851.5 1142.1L851.5 1121.1L851.5 1121.1L837.4 1110.6L823.3 1121.1ZM1417.3 1058.2L1417.3 1058.2L1431.5 1068.7L1438.6 1058.2L1438.6 1037.2L1445.6 1016.3L1445.6 995.3L1445.6 995.3L1459.8 984.8L1473.9 995.3L1473.9 995.3L1488.1 1005.8L1502.2 1016.3L1502.2 1016.3L1502.2 1037.2L1516.4 1047.7L1523.4 1058.2L1530.5 1068.7L1530.5 1058.2L1530.5 1037.2L1530.5 1016.3L1530.5 1005.8L1516.4 1005.8L1502.2 995.3L1502.2 974.3L1502.2 974.3L1488.1 963.9L1473.9 953.4L1473.9 953.4L1473.9 932.4L1473.9 911.5L1473.9 890.5L1473.9 869.5L1473.9 869.5L1488.1 859L1502.2 848.6L1502.2 848.6L1516.4 838.1L1530.5 838.1L1530.5 827.6L1530.5 817.1L1516.4 817.1L1502.2 817.1L1488.1 817.1L1473.9 827.6L1473.9 827.6L1459.8 838.1L1445.6 827.6L1445.6 827.6L1431.5 822.4L1417.3 827.6L1417.3 827.6L1403.2 838.1L1389.1 827.6L1389.1 827.6L1374.9 822.4L1360.8 813.6L1353.7 806.6L1346.6 796.1L1332.5 785.7L1332.5 785.7L1318.3 780.4L1304.2 780.4L1290 780.4L1275.9 778.7L1261.8 775.2L1247.6 764.7L1247.6 764.7L1233.5 754.2L1219.3 754.2L1205.2 754.2L1191 743.7L1191 743.7L1184 722.8L1176.9 717.5L1162.7 715.8L1148.6 712.3L1134.5 722.8L1134.5 722.8L1120.3 733.3L1106.2 722.8L1106.2 722.8L1092 712.3L1077.9 712.3L1063.7 712.3L1049.6 722.8L1049.6 722.8L1035.4 733.3L1021.3 733.3L1007.1 733.3L993 743.7L993 743.7L978.9 754.2L964.7 743.7L964.7 743.7L950.6 733.3L936.4 736.7L922.3 738.5L908.1 743.7L908.1 743.7L894 754.2L879.8 743.7L879.8 722.8L879.8 701.8L879.8 701.8L865.7 691.3L851.5 691.3L837.4 691.3L823.3 701.8L823.3 701.8L809.1 707L795 701.8L795 680.8L795 680.8L780.8 670.4L766.7 659.9L766.7 659.9L752.5 649.4L738.4 649.4L724.2 649.4L710.1 638.9L710.1 617.9L710.1 617.9L696 607.5L681.8 597L681.8 576L681.8 576L667.7 570.8L653.5 565.5L639.4 560.3L625.2 555L625.2 555L611.1 549.8L596.9 548.1L582.8 544.6L575.7 534.1L568.6 527.1L559.2 513.1L558 492.2L558 471.2L554.5 465.9L540.4 471.2L540.4 471.2L526.2 481.7L512.1 478.2L497.9 476.4L490.9 471.2L483.8 450.2L497.9 448.1L512.1 436.2L516.1 429.3L526.2 418.8L533.3 408.3L534.5 399.6L532.1 396.1L530.5 408.3L526.2 414.6L512.1 408.3L512.1 408.3L508.5 387.3L501.5 387.3L502.6 408.3L497.9 410.4L483.8 408.3L483.8 387.3L483.8 366.4L483.8 366.4L474.3 366.4L469.6 376.8L466.8 366.4L466.8 362.2L461.1 353.8L461.1 366.4L462.6 387.3L455.5 397.8L441.3 403.1L441.3 408.3L441.3 429.3L441.3 450.2L441.3 455.5L455.5 457.2L469.6 460.7L476.7 471.2L483.8 478.2L497.9 486.9L512.1 492.2L512.1 492.2L526.2 502.6L540.4 513.1L540.4 513.1L554.5 523.6L561.6 534.1L568.6 555L568.6 555L582.8 558.5L596.9 559.2L611.1 560.3L625.2 565.5L639.4 570.8L653.5 576L653.5 576L653.5 597L653.5 617.9L667.7 628.4L681.8 638.9L681.8 638.9L681.8 659.9L696 670.4L710.1 670.4L724.2 670.4L738.4 670.4L752.5 670.4L766.7 680.8L766.7 680.8L766.7 701.8L780.8 712.3L795 715.8L809.1 717.5L823.3 722.8L823.3 722.8L837.4 733.3L851.5 743.7L851.5 743.7L865.7 754.2L879.8 764.7L879.8 764.7L894 775.2L908.1 764.7L908.1 764.7L922.3 754.2L936.4 754.2L950.6 754.2L964.7 764.7L964.7 764.7L978.9 775.2L993 785.7L993 785.7L1007.1 796.1L1021.3 785.7L1021.3 764.7L1021.3 764.7L1035.4 754.2L1049.6 743.7L1049.6 743.7L1063.7 733.3L1077.9 743.7L1077.9 743.7L1092 754.2L1106.2 754.2L1120.3 754.2L1134.5 754.2L1148.6 754.2L1162.7 754.2L1176.9 754.2L1191 764.7L1191 785.7L1191 785.7L1205.2 790.9L1219.3 785.7L1219.3 785.7L1233.5 775.2L1247.6 785.7L1247.6 785.7L1247.6 806.6L1261.8 817.1L1275.9 806.6L1275.9 806.6L1290 796.1L1304.2 796.1L1318.3 796.1L1332.5 806.6L1332.5 806.6L1346.6 817.1L1360.8 827.6L1360.8 827.6L1360.8 848.6L1374.9 859L1389.1 859L1403.2 859L1417.3 848.6L1417.3 848.6L1431.5 838.1L1445.6 848.6L1445.6 869.5L1445.6 890.5L1445.6 911.5L1445.6 932.4L1445.6 953.4L1431.5 963.9L1417.3 953.4L1417.3 953.4L1403.2 942.9L1389.1 942.9L1374.9 942.9L1367.8 953.4L1360.8 974.3L1360.8 995.3L1360.8 1016.3L1360.8 1016.3L1346.6 1026.8L1332.5 1026.8L1318.3 1026.8L1304.2 1016.3L1304.2 1016.3L1290 1005.8L1275.9 995.3L1275.9 995.3L1261.8 984.8L1247.6 995.3L1247.6 995.3L1233.5 1005.8L1219.3 995.3L1219.3 995.3L1205.2 984.8L1191 974.3L1191 974.3L1176.9 963.9L1162.7 974.3L1162.7 974.3L1148.6 984.8L1134.5 995.3L1134.5 995.3L1120.3 1005.8L1106.2 1005.8L1092 1005.8L1077.9 995.3L1077.9 995.3L1063.7 984.8L1049.6 984.8L1035.4 984.8L1021.3 974.3L1021.3 974.3L1007.1 963.9L993 974.3L993 974.3L978.9 984.8L964.7 974.3L964.7 974.3L950.6 963.9L936.4 963.9L922.3 963.9L908.1 963.9L894 963.9L879.8 963.9L865.7 963.9L851.5 953.4L851.5 953.4L837.4 948.1L823.3 948.1L809.1 948.1L795 946.4L780.8 942.9L766.7 953.4L766.7 974.3L766.7 995.3L766.7 995.3L752.5 1005.8L738.4 995.3L738.4 995.3L724.2 984.8L717.2 974.3L710.1 953.4L710.1 953.4L696 942.9L681.8 942.9L667.7 942.9L653.5 942.9L639.4 942.9L625.2 932.4L625.2 932.4L611.1 921.9L596.9 911.5L596.9 911.5L582.8 901L568.6 890.5L568.6 890.5L554.5 880L540.4 869.5L540.4 869.5L526.2 859L512.1 848.6L512.1 848.6L505 827.6L497.9 817.1L483.8 806.6L483.8 806.6L476.7 785.7L469.6 775.2L455.5 764.7L455.5 764.7L441.3 754.2L441.3 764.7L441.3 785.7L441.3 796.1L455.5 806.6L455.5 806.6L469.6 817.1L483.8 827.6L483.8 848.6L483.8 848.6L497.9 859L512.1 869.5L512.1 869.5L526.2 874.8L540.4 883.5L547.4 890.5L547.4 911.5L554.5 921.9L568.6 921.9L582.8 921.9L596.9 932.4L596.9 932.4L611.1 942.9L625.2 953.4L625.2 953.4L639.4 963.9L653.5 963.9L667.7 963.9L681.8 963.9L696 963.9L703 974.3L696 984.8L681.8 984.8L667.7 984.8L653.5 995.3L667.7 1005.8L681.8 1005.8L696 1005.8L710.1 1005.8L724.2 1005.8L738.4 1016.3L738.4 1037.2L738.4 1037.2L752.5 1047.7L766.7 1037.2L766.7 1037.2L780.8 1026.8L795 1026.8L809.1 1026.8L823.3 1016.3L823.3 1016.3L823.3 995.3L837.4 984.8L851.5 984.8L865.7 984.8L879.8 984.8L894 984.8L908.1 984.8L922.3 984.8L936.4 995.3L936.4 995.3L950.6 1005.8L964.7 1016.3L964.7 1016.3L978.9 1026.8L993 1016.3L993 1016.3L1007.1 1005.8L1021.3 1016.3L1021.3 1037.2L1021.3 1037.2L1035.4 1047.7L1049.6 1047.7L1063.7 1047.7L1077.9 1037.2L1077.9 1037.2L1092 1026.8L1106.2 1026.8L1120.3 1026.8L1134.5 1016.3L1134.5 1016.3L1148.6 1005.8L1162.7 1005.8L1176.9 1005.8L1191 1016.3L1191 1016.3L1205.2 1026.8L1219.3 1037.2L1219.3 1037.2L1233.5 1047.7L1247.6 1037.2L1247.6 1037.2L1261.8 1026.8L1275.9 1037.2L1275.9 1037.2L1290 1047.7L1304.2 1047.7L1318.3 1047.7L1332.5 1047.7L1346.6 1047.7L1360.8 1037.2L1360.8 1037.2L1374.9 1026.8L1389.1 1026.8L1389.1 1037.2L1403.2 1047.7ZM483.8 441.8L473.2 429.3L483.8 416.7L497.9 414.6L512.1 414.3L512.1 429.3L512.1 429.3L497.9 443.9ZM1403.2 1026.8L1389.1 1016.3L1403.2 1005.8L1417.3 1016.3ZM1389.1 471.2L1403.2 474.7L1417.3 475.4L1431.5 476.4L1445.6 478.2L1459.8 481.7L1473.9 485.2L1488.1 486.9L1502.2 485.2L1516.4 481.7L1530.5 481.7L1530.5 471.2L1530.5 460.7L1516.4 460.7L1502.2 471.2L1502.2 471.2L1488.1 476.4L1473.9 471.2L1473.9 471.2L1459.8 460.7L1445.6 460.7L1431.5 460.7L1417.3 450.2L1417.3 450.2L1403.2 439.7L1389.1 439.7L1374.9 439.7L1371.4 429.3L1360.8 413.5L1353.7 408.3L1346.6 397.8L1339.6 387.3L1346.6 376.8L1351.3 366.4L1360.8 355.9L1374.9 348.9L1379.6 345.4L1379.6 338.4L1374.9 345.4L1360.8 345.4L1360.8 345.4L1346.6 355.9L1339.6 345.4L1332.5 345.4L1330.1 341.9L1325.4 345.4L1318.3 350.6L1314.8 345.4L1304.2 334.9L1290 327.1L1275.9 334.9L1265.3 345.4L1261.8 355.9L1247.6 345.4L1247.6 345.4L1233.5 340.2L1226.4 324.4L1224.6 316.6L1221.1 321.8L1221.7 324.4L1226.4 345.4L1233.5 355.9L1247.6 366.4L1247.6 366.4L1261.8 376.8L1275.9 376.8L1290 376.8L1304.2 366.4L1290 362.9L1275.9 355.9L1272.4 345.4L1275.9 341.9L1290 332.3L1304.2 341.9L1307.7 345.4L1318.3 361.1L1332.5 366.4L1325.4 387.3L1332.5 397.8L1339.6 408.3L1346.6 411.8L1360.8 424L1364.3 429.3L1370.2 450.2L1374.9 460.7L1389.1 471.2ZM1168.4 408.3L1176.9 418.8L1191 411.3L1198.1 408.3L1191 397.8L1187.5 387.3L1191 380.3L1205.2 369.9L1219.3 366.4L1219.3 366.4L1219.3 366.4L1205.2 361.1L1196.7 345.4L1196.7 337L1191 345.4L1191 345.4L1191 345.4L1191 366.4L1180.4 387.3L1184 408.3L1176.9 411.8L1174.1 408.3L1172.2 387.3L1172.2 366.4L1172.2 352.4L1162.7 366.4L1162.7 366.4L1162.7 387.3L1162.7 387.3ZM1247.6 408.3L1261.8 418.8L1265.3 408.3L1261.8 397.8ZM1445.6 408.3L1445.6 408.3L1459.8 418.8L1473.9 408.3L1459.8 397.8L1445.6 408.3ZM1086 387.3L1092 393.6L1106.2 390.8L1113.2 387.3L1106.2 387.3L1099.1 387.3L1092 389.4L1090 387.3L1090 384.3L1086 378.3ZM1502.2 387.3L1516.4 390L1530.5 390.8L1530.5 387.3L1516.4 387.3L1502.2 366.4ZM1473.9 366.4L1473.9 366.4L1488.1 376.8L1502.2 366.4L1488.1 366.4L1473.9 366.4ZM1268.8 303.5L1275.9 308.7L1290 319.2L1304.2 303.5L1304.2 303.5L1300.1 297.5L1294.8 303.5L1290 308.7L1283 303.5L1278.3 282.5L1275.9 282.5L1268.8 293Z"/>
<path fill="#bfff40" fill-rule="evenodd" d="M738.4 1582.3L752.5 1603.3L766.7 1603.3L780.8 1582.3L795 1603.3L802 1603.3L795 1582.3L795 1582.3L780.8 1577.1L766.7 1577.1L752.5 1577.1L738.4 1571.9L731.3 1561.4L724.2 1556.1L710.1 1554.4L696 1550.9L681.8 1540.4L681.8 1540.4L667.7 1529.9L653.5 1529.9L639.4 1529.9L625.2 1529.9L611.1 1529.9L596.9 1540.4L596.9 1540.4L582.8 1550.9L568.6 1540.4L568.6 1540.4L554.5 1529.9L540.4 1519.4L540.4 1519.4L526.2 1509L512.1 1498.5L512.1 1498.5L497.9 1488L483.8 1488L469.6 1488L455.5 1488L441.3 1488L441.3 1498.5L441.3 1509L455.5 1509L469.6 1509L483.8 1509L497.9 1509L512.1 1519.4L512.1 1519.4L526.2 1529.9L540.4 1540.4L526.2 1550.9L512.1 1561.4L512.1 1582.3L526.2 1582.3L540.4 1582.3L540.4 1582.3L540.4 1561.4L554.5 1550.9L568.6 1561.4L568.6 1561.4L568.6 1561.4L561.6 1582.3L568.6 1582.3L575.7 1582.3L582.8 1571.9L596.9 1568.4L611.1 1566.6L621.7 1566.6L625.2 1561.4L639.4 1561.4L653.5 1561.4L667.7 1561.4L681.8 1561.4L696 1561.4L710.1 1582.3L724.2 1582.3ZM844.5 1603.3L851.5 1603.3L865.7 1603.3L879.8 1603.3L894 1582.3L908.1 1603.3L922.3 1603.3L936.4 1582.3L943.5 1571.9L936.4 1575.3L922.3 1577.1L908.1 1577.1L894 1577.1L879.8 1582.3L879.8 1582.3L865.7 1592.8L851.5 1596.3ZM978.9 1582.3L993 1603.3L1007.1 1603.3L1021.3 1603.3L1007.1 1592.8L1000.1 1582.3L993 1571.9L985.9 1561.4L978.9 1550.9L964.7 1561.4L964.7 1561.4L957.6 1571.9L964.7 1582.3ZM1424.4 1582.3L1431.5 1592.8L1438.6 1582.3L1438.6 1561.4L1445.6 1550.9L1452.7 1540.4L1459.8 1529.9L1473.9 1519.4L1473.9 1519.4L1488.1 1509L1502.2 1512.5L1516.4 1514.2L1523.4 1519.4L1530.5 1529.9L1530.5 1519.4L1530.5 1509L1516.4 1503.7L1502.2 1498.5L1502.2 1477.5L1502.2 1477.5L1488.1 1467L1473.9 1467L1459.8 1467L1445.6 1477.5L1445.6 1477.5L1445.6 1498.5L1445.6 1519.4L1438.6 1540.4L1431.5 1550.9L1424.4 1540.4L1417.3 1519.4L1417.3 1519.4L1403.2 1509L1389.1 1498.5L1389.1 1498.5L1374.9 1488L1360.8 1477.5L1360.8 1477.5L1346.6 1467L1332.5 1456.5L1332.5 1456.5L1318.3 1446.1L1304.2 1435.6L1304.2 1435.6L1290 1425.1L1275.9 1425.1L1261.8 1425.1L1247.6 1435.6L1247.6 1435.6L1233.5 1446.1L1219.3 1446.1L1205.2 1446.1L1191 1435.6L1191 1435.6L1191 1414.6L1176.9 1404.1L1162.7 1414.6L1162.7 1414.6L1162.7 1435.6L1162.7 1456.5L1162.7 1477.5L1148.6 1488L1134.5 1477.5L1134.5 1477.5L1120.3 1467L1106.2 1467L1092 1467L1077.9 1467L1063.7 1467L1049.6 1467L1035.4 1467L1021.3 1456.5L1021.3 1456.5L1021.3 1435.6L1007.1 1425.1L993 1425.1L978.9 1425.1L964.7 1435.6L964.7 1435.6L950.6 1446.1L936.4 1435.6L936.4 1414.6L936.4 1393.6L936.4 1372.7L950.6 1362.2L964.7 1362.2L964.7 1372.7L978.9 1383.2L993 1372.7L993 1372.7L1007.1 1362.2L1021.3 1351.7L1021.3 1351.7L1035.4 1341.2L1049.6 1330.8L1035.4 1320.3L1021.3 1309.8L1021.3 1309.8L1021.3 1288.8L1007.1 1278.3L993 1288.8L993 1288.8L993 1309.8L993 1330.8L993 1351.7L978.9 1362.2L964.7 1351.7L964.7 1330.8L964.7 1330.8L950.6 1320.3L936.4 1309.8L950.6 1299.3L964.7 1288.8L964.7 1288.8L964.7 1267.9L964.7 1267.9L950.6 1257.4L936.4 1246.9L950.6 1236.4L964.7 1225.9L964.7 1225.9L964.7 1205L964.7 1184L964.7 1184L950.6 1173.5L936.4 1184L936.4 1184L922.3 1194.5L908.1 1184L908.1 1163L908.1 1142.1L908.1 1121.1L908.1 1121.1L894 1110.6L879.8 1100.1L879.8 1100.1L865.7 1089.7L851.5 1079.2L851.5 1058.2L865.7 1047.7L879.8 1037.2L879.8 1037.2L886.9 1016.3L894 1005.8L908.1 1005.8L915.2 1016.3L908.1 1037.2L922.3 1047.7L936.4 1058.2L936.4 1058.2L950.6 1068.7L964.7 1068.7L978.9 1068.7L993 1068.7L1007.1 1068.7L1021.3 1068.7L1035.4 1068.7L1049.6 1068.7L1063.7 1068.7L1077.9 1058.2L1077.9 1058.2L1092 1047.7L1106.2 1058.2L1106.2 1058.2L1120.3 1068.7L1134.5 1058.2L1134.5 1058.2L1148.6 1047.7L1162.7 1037.2L1162.7 1037.2L1176.9 1026.8L1191 1037.2L1191 1037.2L1205.2 1047.7L1219.3 1058.2L1219.3 1058.2L1233.5 1063.5L1247.6 1065.2L1261.8 1068.7L1275.9 1079.2L1275.9 1079.2L1290 1084.4L1304.2 1086.2L1318.3 1089.7L1332.5 1089.7L1346.6 1089.7L1360.8 1079.2L1360.8 1079.2L1374.9 1068.7L1389.1 1079.2L1389.1 1079.2L1403.2 1089.7L1417.3 1089.7L1431.5 1089.7L1445.6 1079.2L1445.6 1079.2L1452.7 1058.2L1452.7 1037.2L1459.8 1026.8L1473.9 1037.2L1473.9 1037.2L1488.1 1047.7L1502.2 1058.2L1502.2 1058.2L1502.2 1079.2L1516.4 1089.7L1523.4 1100.1L1530.5 1110.6L1530.5 1100.1L1530.5 1079.2L1530.5 1068.7L1523.4 1058.2L1516.4 1047.7L1502.2 1037.2L1502.2 1016.3L1502.2 1016.3L1488.1 1005.8L1473.9 995.3L1473.9 995.3L1459.8 984.8L1445.6 995.3L1445.6 995.3L1445.6 1016.3L1438.6 1037.2L1438.6 1058.2L1431.5 1068.7L1417.3 1058.2L1417.3 1058.2L1403.2 1047.7L1389.1 1037.2L1389.1 1026.8L1374.9 1026.8L1360.8 1037.2L1360.8 1037.2L1346.6 1047.7L1332.5 1047.7L1318.3 1047.7L1304.2 1047.7L1290 1047.7L1275.9 1037.2L1275.9 1037.2L1261.8 1026.8L1247.6 1037.2L1247.6 1037.2L1233.5 1047.7L1219.3 1037.2L1219.3 1037.2L1205.2 1026.8L1191 1016.3L1191 1016.3L1176.9 1005.8L1162.7 1005.8L1148.6 1005.8L1134.5 1016.3L1134.5 1016.3L1120.3 1026.8L1106.2 1026.8L1092 1026.8L1077.9 1037.2L1077.9 1037.2L1063.7 1047.7L1049.6 1047.7L1035.4 1047.7L1021.3 1037.2L1021.3 1037.2L1021.3 1016.3L1007.1 1005.8L993 1016.3L993 1016.3L978.9 1026.8L964.7 1016.3L964.7 1016.3L950.6 1005.8L936.4 995.3L936.4 995.3L922.3 984.8L908.1 984.8L894 984.8L879.8 984.8L865.7 984.8L851.5 984.8L837.4 984.8L823.3 995.3L823.3 1016.3L823.3 1016.3L809.1 1026.8L795 1026.8L780.8 1026.8L766.7 1037.2L766.7 1037.2L752.5 1047.7L738.4 1037.2L738.4 1037.2L738.4 1016.3L724.2 1005.8L710.1 1005.8L696 1005.8L681.8 1005.8L667.7 1005.8L653.5 995.3L667.7 984.8L681.8 984.8L696 984.8L703 974.3L696 963.9L681.8 963.9L667.7 963.9L653.5 963.9L639.4 963.9L625.2 953.4L625.2 953.4L611.1 942.9L596.9 932.4L596.9 932.4L582.8 921.9L568.6 921.9L554.5 921.9L547.4 911.5L547.4 890.5L540.4 883.5L526.2 874.8L512.1 869.5L512.1 869.5L497.9 859L483.8 848.6L483.8 848.6L483.8 827.6L469.6 817.1L455.5 806.6L455.5 806.6L441.3 796.1L441.3 806.6L441.3 827.6L441.3 848.6L441.3 869.5L441.3 890.5L441.3 901L455.5 911.5L455.5 911.5L469.6 921.9L483.8 932.4L483.8 932.4L497.9 942.9L512.1 932.4L512.1 932.4L512.1 911.5L512.1 890.5L526.2 885.2L533.3 890.5L533.3 911.5L540.4 932.4L540.4 953.4L540.4 953.4L554.5 963.9L568.6 963.9L582.8 963.9L596.9 963.9L611.1 963.9L625.2 974.3L625.2 974.4L625.2 995.3L639.4 1005.8L653.5 1016.3L653.5 1016.3L667.7 1026.8L681.8 1037.2L681.8 1037.2L696 1047.7L710.1 1058.2L710.1 1058.2L724.2 1068.7L738.4 1068.7L752.5 1068.7L766.7 1079.2L766.7 1079.2L766.7 1100.1L766.7 1121.1L780.8 1131.6L795 1142.1L795 1142.1L795 1163L809.1 1173.5L823.3 1184L823.3 1184L837.4 1194.5L851.5 1194.5L865.7 1194.5L879.8 1205L879.8 1225.9L879.8 1246.9L865.7 1257.4L851.5 1246.9L851.5 1246.9L837.4 1236.4L823.3 1246.9L837.4 1257.4L851.5 1257.4L851.5 1267.9L865.7 1278.3L879.8 1288.8L879.8 1288.8L894 1299.3L908.1 1309.8L908.1 1309.8L908.1 1309.8L894 1320.3L879.8 1320.3L865.7 1320.3L851.5 1320.3L837.4 1320.3L823.3 1330.8L823.3 1330.8L809.1 1341.2L795 1330.8L795 1330.8L780.8 1320.3L766.7 1309.8L766.7 1288.8L766.7 1288.8L752.5 1278.3L738.4 1288.8L738.4 1288.8L738.4 1309.8L724.2 1320.3L710.1 1330.8L710.1 1330.8L696 1341.2L681.8 1330.8L681.8 1330.8L667.7 1320.3L653.5 1309.8L653.5 1288.8L653.5 1288.8L639.4 1278.3L625.2 1267.9L625.2 1267.9L611.1 1257.4L596.9 1267.9L596.9 1267.9L582.8 1278.3L568.6 1267.9L568.6 1246.9L568.6 1246.9L554.5 1236.4L540.4 1236.4L526.2 1236.4L512.1 1246.9L512.1 1246.9L497.9 1257.4L483.8 1257.4L469.6 1257.4L455.5 1267.9L455.5 1267.9L441.3 1278.3L441.3 1288.8L441.3 1299.3L455.5 1309.8L455.5 1309.8L469.6 1320.3L483.8 1309.8L483.8 1309.8L497.9 1299.3L512.1 1288.8L512.1 1288.8L526.2 1278.3L540.4 1278.3L554.5 1278.3L568.6 1288.8L568.6 1288.8L582.8 1299.3L596.9 1299.3L611.1 1299.3L625.2 1309.8L625.2 1309.8L625.2 1330.8L639.4 1341.2L653.5 1351.7L653.5 1351.7L653.5 1372.7L667.7 1383.2L681.8 1393.7L681.8 1393.7L696 1404.1L710.1 1404.1L724.2 1404.1L738.4 1393.6L738.4 1372.7L738.4 1372.7L752.5 1362.2L766.7 1372.7L766.7 1372.7L766.7 1393.6L780.8 1404.1L795 1414.6L795 1414.6L809.1 1425.1L823.3 1435.6L823.3 1435.6L837.4 1446.1L851.5 1446.1L865.7 1446.1L879.8 1446.1L894 1446.1L908.1 1446.1L922.3 1446.1L936.4 1456.5L936.4 1456.5L936.4 1477.5L950.6 1488L964.7 1488L978.9 1488L993 1498.5L993 1498.5L1007.1 1509L1021.3 1519.4L1021.3 1519.4L1035.4 1529.9L1049.6 1519.4L1049.6 1519.4L1063.7 1509L1077.9 1498.5L1077.9 1498.5L1092 1488L1106.2 1498.5L1106.2 1498.5L1120.3 1509L1134.5 1519.4L1134.5 1519.4L1148.6 1529.9L1162.7 1519.4L1162.7 1498.5L1162.7 1498.5L1176.9 1488L1191 1488L1205.2 1488L1219.3 1488L1233.5 1488L1247.6 1477.5L1247.6 1477.5L1261.8 1467L1275.9 1477.5L1275.9 1477.5L1290 1488L1304.2 1488L1318.3 1488L1332.5 1498.5L1332.5 1498.5L1346.6 1509L1360.8 1509L1374.9 1509L1389.1 1519.4L1389.1 1519.4L1403.2 1529.9L1410.3 1540.4L1417.3 1550.9L1424.4 1561.4ZM837.4 1152.6L823.3 1142.1L823.3 1121.1L837.4 1110.6L851.5 1121.1L851.5 1121.1L851.5 1142.1L851.5 1142.1ZM1219.3 1393.6L1233.5 1404.1L1247.6 1393.6L1247.6 1393.6L1247.6 1393.6L1233.5 1383.2ZM1162.7 1372.7L1162.7 1372.7L1176.9 1383.2L1191 1372.7L1176.9 1362.2L1162.7 1372.7ZM1368.5 1330.8L1374.9 1341.2L1389.1 1330.8L1389.1 1330.8L1389.1 1330.8L1374.9 1320.3ZM1445.6 1330.8L1445.6 1330.8L1459.8 1341.2L1466.9 1330.8L1459.8 1320.3L1445.6 1330.8ZM1134.5 1309.8L1134.5 1309.8L1148.6 1320.3L1162.7 1309.8L1148.6 1299.3L1134.5 1309.8ZM1049.6 1288.8L1049.6 1288.8L1063.7 1299.3L1077.9 1288.8L1077.9 1288.8L1077.9 1288.8L1063.7 1278.3L1049.6 1288.8ZM1417.3 1267.9L1417.3 1267.9L1431.5 1278.3L1445.6 1278.3L1459.8 1278.3L1473.9 1267.9L1473.9 1246.9L1473.9 1225.9L1473.9 1205L1459.8 1194.5L1445.6 1184L1445.6 1184L1445.6 1163L1431.5 1152.6L1417.3 1152.6L1403.2 1152.6L1389.1 1163L1389.1 1163L1374.9 1173.5L1360.8 1184L1368.5 1205L1374.9 1215.4L1389.1 1225.9L1389.1 1225.9L1389.1 1246.9L1403.2 1257.4ZM1021.3 1163L1021.3 1163L1035.4 1173.5L1049.6 1173.5L1063.7 1173.5L1077.9 1163L1077.9 1163L1077.9 1163L1063.7 1152.6L1049.6 1152.6L1035.4 1152.6L1021.3 1163ZM1106.2 1163L1120.3 1173.5L1134.5 1163L1134.5 1163L1134.5 1163L1120.3 1152.6ZM1389.1 1016.3L1403.2 1026.8L1417.3 1016.3L1403.2 1005.8ZM1389.1 827.6L1403.2 838.1L1417.3 827.6L1417.3 827.6L1431.5 822.4L1445.6 827.6L1445.6 827.6L1459.8 838.1L1473.9 827.6L1473.9 827.6L1488.1 817.1L1502.2 817.1L1516.4 817.1L1530.5 817.1L1530.5 806.6L1530.5 796.1L1516.4 796.1L1502.2 796.1L1488.1 796.1L1473.9 806.6L1473.9 806.6L1459.8 817.1L1445.6 813.6L1431.5 811.9L1417.3 813.6L1403.2 817.1L1389.1 813.6L1374.9 811.9L1367.8 806.6L1360.8 796.1L1353.7 785.7L1346.6 780.4L1332.5 775.2L1318.3 769.9L1304.2 769.9L1290 769.9L1275.9 764.7L1275.9 764.7L1261.8 754.2L1247.6 743.7L1247.6 743.7L1233.5 738.5L1219.3 736.7L1205.2 733.3L1198.1 722.8L1191 715.8L1176.9 707L1162.7 701.8L1162.7 701.8L1148.6 696.6L1134.5 701.8L1134.5 701.8L1120.3 712.3L1106.2 701.8L1106.2 701.8L1099.1 680.8L1092 675.6L1077.9 673.9L1063.7 670.4L1049.6 659.9L1049.6 659.9L1035.4 654.6L1021.3 659.9L1021.3 659.9L1021.3 680.8L1007.1 691.3L993 680.8L993 680.8L978.9 670.4L971.8 680.8L964.7 691.3L950.6 691.3L936.4 701.8L936.4 722.8L936.4 722.8L922.3 728L908.1 722.8L908.1 701.8L908.1 701.8L894 691.3L879.8 680.8L879.8 680.8L865.7 675.6L851.5 673.9L837.4 670.4L823.3 659.9L823.3 638.9L823.3 638.9L809.1 633.7L795 638.9L795 638.9L780.8 649.4L766.7 638.9L766.7 617.9L766.7 617.9L752.5 607.5L738.4 597L738.4 597L724.2 586.5L710.1 576L710.1 576L696 565.5L681.8 562L667.7 560.3L653.5 555L653.5 534.1L653.5 534.1L639.4 523.6L625.2 534.1L625.2 534.1L611.1 539.3L596.9 534.1L596.9 534.1L582.8 528.8L568.6 513.1L568.6 513.1L565.1 492.2L565.1 471.2L554.5 455.5L540.4 462.8L526.2 467.7L512.1 464.2L502.6 450.2L512.1 443.2L520.2 429.3L526.2 423L536.1 408.3L536.8 403.1L534.5 399.6L533.3 408.3L526.2 418.8L516.1 429.3L512.1 436.2L497.9 448.1L483.8 450.2L490.9 471.2L497.9 476.4L512.1 478.2L526.2 481.7L540.4 471.2L540.4 471.2L554.5 465.9L558 471.2L558 492.2L559.2 513.1L568.6 527.1L575.7 534.1L582.8 544.6L596.9 548.1L611.1 549.8L625.2 555L625.2 555L639.4 560.3L653.5 565.5L667.7 570.8L681.8 576L681.8 576L681.8 597L696 607.5L710.1 617.9L710.1 617.9L710.1 638.9L724.2 649.4L738.4 649.4L752.5 649.4L766.7 659.9L766.7 659.9L780.8 670.4L795 680.8L795 680.8L795 701.8L809.1 707L823.3 701.8L823.3 701.8L837.4 691.3L851.5 691.3L865.7 691.3L879.8 701.8L879.8 701.8L879.8 722.8L879.8 743.7L894 754.2L908.1 743.7L908.1 743.7L922.3 738.5L936.4 736.7L950.6 733.3L964.7 743.7L964.7 743.7L978.9 754.2L993 743.7L993 743.7L1007.1 733.3L1021.3 733.3L1035.4 733.3L1049.6 722.8L1049.6 722.8L1063.7 712.3L1077.9 712.3L1092 712.3L1106.2 722.8L1106.2 722.8L1120.3 733.3L1134.5 722.8L1134.5 722.8L1148.6 712.3L1162.7 715.8L1176.9 717.5L1184 722.8L1191 743.7L1191 743.7L1205.2 754.2L1219.3 754.2L1233.5 754.2L1247.6 764.7L1247.6 764.7L1261.8 775.2L1275.9 778.7L1290 780.4L1304.2 780.4L1318.3 780.4L1332.5 785.7L1332.5 785.7L1346.6 796.1L1353.7 806.6L1360.8 813.6L1374.9 822.4L1389.1 827.6ZM886.9 659.9L894 670.4L908.1 666.9L922.3 665.1L929.3 659.9L929.3 638.9L922.3 628.4L908.1 617.9L908.1 617.9L894 612.7L886.9 617.9L886.9 638.9ZM943.5 659.9L950.6 670.4L957.6 659.9L950.6 649.4ZM1445.6 492.2L1445.6 492.2L1459.8 502.6L1473.9 502.6L1488.1 502.6L1502.2 502.6L1516.4 502.6L1530.5 497.4L1530.5 492.2L1530.5 481.7L1516.4 481.7L1502.2 485.2L1488.1 486.9L1473.9 485.2L1459.8 481.7L1445.6 478.2L1431.5 476.4L1417.4 475.4L1403.2 474.7L1389.1 471.2L1389.1 471.2L1374.9 460.7L1370.2 450.2L1364.3 429.3L1360.8 424L1346.6 411.8L1339.6 408.3L1332.5 397.8L1325.4 387.3L1332.5 366.4L1318.3 361.1L1307.7 345.4L1304.2 341.9L1290 332.3L1275.9 341.9L1272.4 345.4L1275.9 355.9L1290 362.9L1304.2 366.4L1290 376.8L1275.9 376.8L1261.8 376.8L1247.6 366.4L1247.6 366.4L1233.5 355.9L1226.4 345.4L1221.7 324.4L1221.1 321.8L1219.3 324.4L1212.2 324.4L1212.2 345.4L1205.2 350.6L1202.3 345.4L1202.3 328.6L1196.7 337L1196.7 345.4L1205.2 361.1L1219.3 366.4L1219.3 366.4L1219.3 366.4L1205.2 369.9L1191 380.3L1187.5 387.3L1191 397.8L1198.1 408.3L1191 411.3L1176.9 418.8L1168.4 408.3L1162.7 387.3L1162.7 387.3L1162.7 366.4L1153.3 380.3L1153.3 387.3L1162.7 408.3L1162.7 408.3L1176.9 425.8L1191 417.3L1205.2 410.9L1219.3 412.5L1233.5 418.8L1247.6 429.3L1247.6 429.3L1261.8 434.5L1275.9 429.3L1275.9 429.3L1275.9 429.3L1272.4 408.3L1275.9 397.8L1290 390.8L1304.2 392.6L1318.3 397.8L1325.4 408.3L1332.5 415.3L1346.6 418.8L1357.2 429.3L1360.8 450.2L1360.8 450.2L1370.2 471.2L1374.9 481.7L1389.1 481.7L1403.2 481.7L1417.3 483.8L1431.5 486.9ZM1290 355.9L1279.4 345.4L1290 337.5L1300.7 345.4ZM1205.2 403.1L1194.6 387.3L1205.2 376.8L1219.3 380.3L1226.4 387.3L1219.3 397.8ZM1261.8 418.8L1247.6 408.3L1261.8 397.8L1265.3 408.3ZM575.7 429.3L582.8 432.8L585.6 429.3L582.8 418.8ZM483.8 408.3L497.9 410.4L502.6 408.3L501.5 387.3L497.9 387.3L483.8 366.4L483.8 387.3ZM441.3 392.6L441.3 403.1L455.5 397.8L462.6 387.3L461.1 366.4L461.1 353.8L455.5 345.4L455.5 345.4L455.5 366.4L448.4 387.3ZM1081.9 387.3L1092 397.8L1106.2 397.8L1120.3 397.8L1134.5 387.3L1134.5 387.3L1134.5 366.4L1134.5 366.4L1120.3 387.3L1113.2 387.3L1106.2 390.8L1092 393.6L1086 387.3L1086 378.3L1081.9 372.4ZM1339.6 345.4L1346.6 355.9L1360.8 345.4L1360.8 345.4L1360.8 345.4L1346.6 345.4ZM1283 303.5L1290 308.7L1294.8 303.5L1300.1 297.5L1296.1 291.5L1290 298.2L1283 282.5L1278.3 282.5Z"/>
<path fill="#ffff00" fill-rule="evenodd" d="M441.3 1603.3L455.5 1603.3L469.6 1603.3L483.8 1603.3L497.9 1603.3L512.1 1582.3L512.1 1582.3L512.1 1561.4L526.2 1550.9L540.4 1540.4L526.2 1529.9L512.1 1519.4L512.1 1519.4L497.9 1509L483.8 1509L469.6 1509L455.5 1509L441.3 1509L441.3 1519.4L441.3 1540.4L441.3 1550.9L455.5 1550.9L469.6 1550.9L483.8 1561.4L469.6 1571.9L455.5 1571.9L441.3 1571.9L441.3 1582.3ZM540.4 1582.3L554.5 1582.3L561.6 1582.3L568.6 1561.4L568.6 1561.4L568.6 1561.4L554.5 1550.9L540.4 1561.4ZM1424.4 1540.4L1431.5 1550.9L1438.6 1540.4L1445.6 1519.4L1445.6 1498.5L1445.6 1477.5L1445.6 1477.5L1459.8 1467L1473.9 1467L1488.1 1467L1502.2 1477.5L1502.2 1477.5L1502.2 1498.5L1516.4 1503.7L1530.5 1509L1530.5 1498.5L1530.5 1477.5L1530.5 1467L1523.4 1456.5L1516.4 1446.1L1502.2 1435.6L1502.2 1414.6L1502.2 1393.6L1502.2 1372.7L1502.2 1351.7L1502.2 1351.7L1488.1 1341.2L1481 1330.8L1488.1 1320.3L1502.2 1309.8L1502.2 1309.8L1502.2 1288.8L1516.4 1278.3L1530.5 1278.3L1530.5 1267.9L1530.5 1246.9L1530.5 1236.4L1516.4 1236.4L1502.2 1225.9L1502.2 1205L1502.2 1205L1488.1 1194.5L1473.9 1184L1473.9 1184L1473.9 1163L1459.8 1152.6L1445.6 1142.1L1445.6 1142.1L1445.6 1121.1L1445.6 1100.1L1445.6 1100.1L1459.8 1089.7L1473.9 1089.7L1488.1 1089.7L1502.2 1100.1L1502.2 1100.1L1502.2 1121.1L1516.4 1131.6L1530.5 1131.6L1530.5 1121.1L1530.5 1110.6L1523.4 1100.1L1516.4 1089.7L1502.2 1079.2L1502.2 1058.2L1502.2 1058.2L1488.1 1047.7L1473.9 1037.2L1473.9 1037.2L1459.8 1026.8L1452.7 1037.2L1452.7 1058.2L1445.6 1079.2L1445.6 1079.2L1431.5 1089.7L1417.3 1089.7L1403.2 1089.7L1389.1 1079.2L1389.1 1079.2L1374.9 1068.7L1360.8 1079.2L1360.8 1079.2L1346.6 1089.7L1332.5 1089.7L1318.3 1089.7L1304.2 1086.2L1290 1084.4L1275.9 1079.2L1275.9 1079.2L1261.8 1068.7L1247.6 1065.2L1233.5 1063.5L1219.3 1058.2L1219.3 1058.2L1205.2 1047.7L1191 1037.2L1191 1037.2L1176.9 1026.8L1162.7 1037.2L1162.7 1037.2L1148.6 1047.7L1134.5 1058.2L1134.5 1058.2L1120.3 1068.7L1106.2 1058.2L1106.2 1058.2L1092 1047.7L1077.9 1058.2L1077.9 1058.2L1063.7 1068.7L1049.6 1068.7L1035.4 1068.7L1021.3 1068.7L1007.1 1068.7L993 1068.7L978.9 1068.7L964.7 1068.7L950.6 1068.7L936.4 1058.2L936.4 1058.2L922.3 1047.7L908.1 1037.2L915.2 1016.3L908.1 1005.8L894 1005.8L886.9 1016.3L879.8 1037.2L879.8 1037.2L865.7 1047.7L851.5 1058.2L851.5 1079.2L865.7 1089.7L879.8 1100.1L879.8 1100.1L894 1110.6L908.1 1121.1L908.1 1121.1L908.1 1142.1L908.1 1163L908.1 1184L922.3 1194.5L936.4 1184L936.4 1184L950.6 1173.5L964.7 1184L964.7 1184L964.7 1205L964.7 1225.9L964.7 1225.9L950.6 1236.4L936.4 1246.9L950.6 1257.4L964.7 1267.9L964.7 1267.9L964.7 1288.8L964.7 1288.8L950.6 1299.3L936.4 1309.8L950.6 1320.3L964.7 1330.8L964.7 1330.8L964.7 1351.7L978.9 1362.2L993 1351.7L993 1330.8L993 1309.8L993 1288.8L993 1288.8L1007.1 1278.3L1021.3 1288.8L1021.3 1309.8L1021.3 1309.8L1035.4 1320.3L1049.6 1330.8L1035.4 1341.2L1021.3 1351.7L1021.3 1351.7L1007.1 1362.2L993 1372.7L993 1372.7L978.9 1383.2L964.7 1372.7L964.7 1362.2L950.6 1362.2L936.4 1372.7L936.4 1393.6L936.4 1414.6L936.4 1435.6L950.6 1446.1L964.7 1435.6L964.7 1435.6L978.9 1425.1L993 1425.1L1007.1 1425.1L1021.3 1435.6L1021.3 1456.5L1021.3 1456.5L1035.4 1467L1049.6 1467L1063.7 1467L1077.9 1467L1092 1467L1106.2 1467L1120.3 1467L1134.5 1477.5L1134.5 1477.5L1148.6 1488L1162.7 1477.5L1162.7 1456.5L1162.7 1435.6L1162.7 1414.6L1162.7 1414.6L1176.9 1404.1L1191 1414.6L1191 1435.6L1191 1435.6L1205.2 1446.1L1219.3 1446.1L1233.5 1446.1L1247.6 1435.6L1247.6 1435.6L1261.8 1425.1L1275.9 1425.1L1290 1425.1L1304.2 1435.6L1304.2 1435.6L1318.3 1446.1L1332.5 1456.5L1332.5 1456.5L1346.6 1467L1360.8 1477.5L1360.8 1477.5L1374.9 1488L1389.1 1498.5L1389.1 1498.5L1403.2 1509L1417.3 1519.4L1417.3 1519.4ZM1445.6 1330.8L1445.6 1330.8L1445.6 1330.8L1459.8 1320.3L1466.9 1330.8L1459.8 1341.2ZM950.6 1131.6L936.4 1121.1L936.4 1100.1L950.6 1089.7L957.6 1100.1L957.6 1121.1ZM978.9 1131.6L971.8 1121.1L978.9 1110.6L993 1110.6L1007.1 1110.6L1021.3 1121.1L1007.1 1131.6L993 1131.6ZM1021.3 1163L1021.3 1163L1021.3 1163L1035.4 1152.6L1049.6 1152.6L1063.7 1152.6L1077.9 1163L1077.9 1163L1077.9 1163L1063.7 1173.5L1049.6 1173.5L1035.4 1173.5ZM1049.6 1288.8L1049.6 1288.8L1049.6 1288.8L1063.7 1278.3L1077.9 1288.8L1077.9 1288.8L1077.9 1288.8L1063.7 1299.3ZM1120.3 1278.3L1106.2 1267.9L1120.3 1257.4L1134.5 1267.9ZM1134.5 1309.8L1134.5 1309.8L1134.5 1309.8L1148.6 1299.3L1162.7 1309.8L1148.6 1320.3ZM1162.7 1372.7L1162.7 1372.7L1162.7 1372.7L1176.9 1362.2L1191 1372.7L1176.9 1383.2ZM1233.5 1404.1L1219.3 1393.6L1233.5 1383.2L1247.6 1393.6L1247.6 1393.6L1247.6 1393.7ZM1275.9 1345.7L1264.1 1330.8L1275.9 1315.8L1290 1323.8L1293.2 1330.8L1290 1337.7ZM1332.5 1397.1L1330.1 1393.6L1323.6 1372.7L1323.6 1351.7L1320.7 1330.8L1323.6 1309.8L1322.4 1288.8L1323.6 1267.9L1323.6 1246.9L1323.6 1225.9L1318.3 1205L1318.3 1205L1317 1184L1304.2 1173.5L1290 1173.5L1275.9 1173.5L1261.8 1173.5L1247.6 1173.5L1233.5 1173.5L1219.3 1173.5L1205.2 1173.5L1191 1173.5L1176.9 1173.5L1162.7 1163L1162.7 1163L1162.7 1142.1L1148.6 1131.6L1134.5 1121.1L1134.5 1100.1L1148.6 1089.7L1162.7 1079.2L1162.7 1058.2L1162.7 1058.2L1176.9 1047.7L1191 1058.2L1191 1058.2L1205.2 1068.7L1219.3 1072.2L1233.5 1073.9L1247.6 1079.2L1247.6 1079.2L1261.8 1089.7L1275.9 1093.2L1290 1094.9L1304.2 1100.1L1304.2 1100.1L1318.3 1110.6L1332.5 1110.6L1346.6 1110.6L1360.8 1121.1L1360.8 1121.1L1360.8 1121.1L1346.6 1131.6L1332.5 1142.1L1332.5 1142.1L1332.5 1163L1332.5 1163L1336.3 1184L1340.3 1205L1340.3 1225.9L1344.3 1246.9L1344.3 1267.9L1344.3 1288.8L1344.3 1309.8L1341.3 1330.8L1341.3 1351.7L1344.3 1372.7L1346.6 1376.9L1351.3 1393.6L1346.6 1404.1ZM1374.9 1341.2L1368.5 1330.8L1374.9 1320.3L1389.1 1330.8L1389.1 1330.8L1389.1 1330.8ZM1417.3 1267.9L1417.3 1267.9L1403.2 1257.4L1389.1 1246.9L1389.1 1225.9L1389.1 1225.9L1374.9 1215.4L1368.5 1205L1360.8 1184L1374.9 1173.5L1389.1 1163L1389.1 1163L1403.2 1152.6L1417.3 1152.6L1431.5 1152.6L1445.6 1163L1445.6 1184L1445.6 1184L1459.8 1194.5L1473.9 1205L1473.9 1225.9L1473.9 1246.9L1473.9 1267.9L1459.8 1278.3L1445.6 1278.3L1431.5 1278.3ZM1120.3 1173.5L1106.2 1163L1120.3 1152.6L1134.5 1163L1134.5 1163L1134.5 1163ZM1275.9 1303.8L1264.1 1288.8L1264.1 1267.9L1275.9 1252.9L1290 1260.9L1293.2 1267.9L1293.2 1288.8L1290 1295.8ZM681.8 1330.8L696 1341.2L710.1 1330.8L710.1 1330.8L724.2 1320.3L738.4 1309.8L738.4 1288.8L738.4 1288.8L752.5 1278.3L766.7 1288.8L766.7 1288.8L766.7 1309.8L780.8 1320.3L795 1330.8L795 1330.8L809.1 1341.2L823.3 1330.8L823.3 1330.8L837.4 1320.3L851.5 1320.3L865.7 1320.3L879.8 1320.3L894 1320.3L908.1 1309.8L908.1 1309.8L908.1 1309.8L894 1299.3L879.8 1288.8L879.8 1288.8L865.7 1278.3L851.5 1267.9L851.5 1257.4L837.4 1257.4L823.3 1246.9L837.4 1236.4L851.5 1246.9L851.5 1246.9L865.7 1257.4L879.8 1246.9L879.8 1225.9L879.8 1205L865.7 1194.5L851.5 1194.5L837.4 1194.5L823.3 1184L823.3 1184L809.1 1173.5L795 1163L795 1142.1L795 1142.1L780.8 1131.6L766.7 1121.1L766.7 1100.1L766.7 1079.2L766.7 1079.2L752.5 1068.7L738.4 1068.7L724.2 1068.7L710.1 1058.2L710.1 1058.2L696 1047.7L681.8 1037.2L681.8 1037.2L667.7 1026.8L653.5 1016.3L653.5 1016.3L639.4 1005.8L625.2 995.3L625.2 974.3L625.2 974.3L611.1 963.9L596.9 963.9L582.8 963.9L568.6 963.9L554.5 963.9L540.4 953.4L540.4 953.4L540.4 932.4L533.3 911.5L533.3 890.5L526.2 885.2L512.1 890.5L512.1 911.5L512.1 932.4L512.1 932.4L497.9 942.9L483.8 932.4L483.8 932.4L469.6 921.9L455.5 911.5L455.5 911.5L441.3 901L441.3 911.5L441.3 932.4L441.3 953.4L441.3 974.3L441.3 995.3L441.3 1005.8L455.5 1005.8L469.6 1005.8L483.8 1005.8L497.9 1005.8L512.1 995.3L512.1 995.3L512.1 974.3L526.2 963.9L540.4 974.3L540.4 974.3L554.5 984.8L568.6 984.8L582.8 984.8L596.9 995.3L596.9 995.3L596.9 1016.3L611.1 1026.8L625.2 1026.8L639.4 1026.8L653.5 1037.2L653.5 1037.2L653.5 1058.2L667.7 1068.7L681.8 1079.2L681.8 1079.2L696 1089.7L710.1 1100.1L710.1 1100.1L724.2 1110.6L738.4 1121.1L738.4 1142.1L738.4 1163L738.4 1184L738.4 1205L738.4 1225.9L738.4 1246.9L738.4 1267.9L724.2 1278.3L710.1 1278.3L696 1278.3L681.8 1278.3L667.7 1278.3L653.5 1267.9L653.5 1267.9L639.4 1257.4L625.2 1246.9L625.2 1225.9L625.2 1225.9L611.1 1215.4L596.9 1205L596.9 1205L582.8 1194.5L568.6 1194.5L554.5 1194.5L540.4 1194.5L526.2 1194.5L512.1 1194.5L497.9 1194.5L483.8 1184L483.8 1184L469.6 1173.5L455.5 1184L455.5 1184L455.5 1205L441.3 1215.4L441.3 1225.9L441.3 1246.9L441.3 1267.9L441.3 1278.3L455.5 1267.9L455.5 1267.9L469.6 1257.4L483.8 1257.4L497.9 1257.4L512.1 1246.9L512.1 1246.9L526.2 1236.4L540.4 1236.4L554.5 1236.4L568.6 1246.9L568.6 1246.9L568.6 1267.9L582.8 1278.3L596.9 1267.9L596.9 1267.9L611.1 1257.4L625.2 1267.9L625.2 1267.9L639.4 1278.3L653.5 1288.8L653.5 1288.8L653.5 1309.8L667.7 1320.3L681.8 1330.8ZM1367.8 806.6L1374.9 811.9L1389.1 813.6L1403.2 817.1L1417.3 813.6L1431.5 811.9L1445.6 813.6L1459.8 817.1L1473.9 806.6L1473.9 806.6L1488.1 796.1L1502.2 796.1L1516.4 796.1L1530.5 796.1L1530.5 785.7L1530.5 775.2L1516.4 775.2L1502.2 775.2L1488.1 775.2L1473.9 785.7L1473.9 785.7L1459.8 796.1L1445.6 796.1L1431.5 796.1L1417.3 785.7L1417.3 785.7L1403.2 775.2L1389.1 785.7L1389.1 785.7L1374.9 796.1L1367.8 785.7L1360.8 775.2L1346.6 769.9L1332.5 764.7L1332.5 764.7L1318.3 759.5L1304.2 759.5L1290 759.5L1275.9 750.7L1268.8 743.7L1261.8 733.3L1247.6 729.8L1233.5 728L1219.3 722.8L1219.3 722.8L1205.2 712.3L1191 701.8L1191 701.8L1176.9 691.3L1162.7 687.8L1148.6 686.1L1134.5 687.8L1120.3 691.3L1113.2 680.8L1106.2 673.9L1092 665.1L1077.9 659.9L1077.9 659.9L1063.7 654.6L1049.6 649.4L1035.4 644.2L1021.3 645.9L1007.1 649.4L993 638.9L993 638.9L978.9 628.4L964.7 617.9L964.7 617.9L950.6 612.7L936.4 611L922.3 607.5L908.1 604L894 602.2L879.8 611L872.8 617.9L872.8 638.9L872.8 659.9L865.7 665.1L851.5 659.9L851.5 638.9L851.5 638.9L837.4 633.7L823.3 628.4L809.1 623.2L795 617.9L795 617.9L780.8 612.7L766.7 604L759.6 597L759.6 576L752.5 565.5L738.4 555L738.4 555L724.2 544.6L710.1 544.6L696 544.6L681.8 534.1L681.8 534.1L667.7 523.6L653.5 513.1L653.5 513.1L639.4 502.6L625.2 513.1L625.2 513.1L611.1 523.6L596.9 520.1L582.8 518.4L578.1 513.1L572.2 492.2L572.2 471.2L568.6 460.7L561.6 450.2L568.6 439.7L582.8 439.7L591.3 429.3L586.3 408.3L586.3 403.1L582.8 408.3L568.6 429.3L561.6 429.3L554.5 439.7L547.4 450.2L540.4 454.4L526.2 460.7L512.1 450.2L524.2 429.3L526.2 427.2L538.9 408.3L539.2 406.5L536.8 403.1L536.1 408.3L526.2 423L520.2 429.3L512.1 443.2L502.6 450.2L512.1 464.2L526.2 467.7L540.4 462.8L554.5 455.5L565.1 471.2L565.1 492.2L568.6 513.1L568.6 513.1L582.8 528.8L596.9 534.1L596.9 534.1L611.1 539.3L625.2 534.1L625.2 534.1L639.4 523.6L653.5 534.1L653.5 534.1L653.5 555L667.7 560.3L681.8 562L696 565.5L710.1 576L710.1 576L724.2 586.5L738.4 597L738.4 597L752.5 607.5L766.7 617.9L766.7 617.9L766.7 638.9L780.8 649.4L795 638.9L795 638.9L809.1 633.7L823.3 638.9L823.3 638.9L823.3 659.9L837.4 670.4L851.5 673.9L865.7 675.6L879.8 680.8L879.8 680.8L894 691.3L908.1 701.8L908.1 701.8L908.1 722.8L922.3 728L936.4 722.8L936.4 722.8L936.4 701.8L950.6 691.3L964.7 691.3L971.8 680.8L978.9 670.4L993 680.8L993 680.8L1007.1 691.3L1021.3 680.8L1021.3 659.9L1021.3 659.9L1035.4 654.6L1049.6 659.9L1049.6 659.9L1063.7 670.4L1077.9 673.9L1092 675.6L1099.1 680.8L1106.2 701.8L1106.2 701.8L1120.3 712.3L1134.5 701.8L1134.5 701.8L1148.6 696.6L1162.7 701.8L1162.7 701.8L1176.9 707L1191 715.8L1198.1 722.8L1205.2 733.3L1219.3 736.7L1233.5 738.5L1247.6 743.7L1247.6 743.7L1261.8 754.2L1275.9 764.7L1275.9 764.7L1290 769.9L1304.2 769.9L1318.3 769.9L1332.5 775.2L1346.6 780.4L1353.7 785.7L1360.8 796.1ZM582.8 432.8L575.7 429.3L582.8 418.8L585.6 429.3ZM894 670.4L886.9 659.9L886.9 638.9L886.9 617.9L894 612.7L908.1 617.9L908.1 617.9L922.3 628.4L929.3 638.9L929.3 659.9L922.3 665.1L908.1 666.9ZM922.3 691.3L908.1 680.8L922.3 675.6L929.3 680.8ZM950.6 670.4L943.5 659.9L950.6 649.4L957.6 659.9ZM802 597L809.1 607.5L823.3 597L823.3 597L823.3 597L809.1 586.5ZM805.6 513.1L809.1 518.4L823.3 513.1L823.3 513.1L823.3 513.1L809.1 507.9ZM1452.7 513.1L1459.8 523.6L1473.9 520.1L1488.1 518.4L1502.2 518.4L1516.4 518.4L1523.4 513.1L1530.5 507.9L1530.5 497.4L1516.4 502.6L1502.2 502.6L1488.1 502.6L1473.9 502.6L1459.8 502.6L1445.6 492.2L1445.6 492.2L1431.5 486.9L1417.3 483.8L1403.2 481.7L1389.1 481.7L1374.9 481.7L1370.2 471.2L1360.8 450.2L1360.8 450.2L1357.2 429.3L1346.6 418.8L1332.5 415.3L1325.4 408.3L1318.3 397.8L1304.2 392.6L1290 390.8L1275.9 397.8L1272.4 408.3L1275.9 429.3L1275.9 429.3L1275.9 429.3L1261.8 434.5L1247.6 429.3L1247.6 429.3L1233.5 418.8L1219.3 412.5L1205.2 410.9L1191 417.3L1176.9 425.8L1162.7 408.3L1162.7 408.3L1153.3 387.3L1153.3 380.3L1148.6 387.3L1134.5 366.4L1134.5 387.3L1134.5 387.3L1120.3 397.8L1106.2 397.8L1092 397.8L1081.9 387.3L1081.9 372.4L1077.9 366.4L1077.9 387.3L1092 402L1106.2 404.8L1113.2 408.3L1120.3 410.9L1127.4 408.3L1134.5 401.3L1148.6 392.6L1157.1 408.3L1162.7 422.3L1169.8 429.3L1176.9 431.9L1181.6 429.3L1191 423.3L1205.2 416.2L1219.3 420.9L1228.8 429.3L1233.5 434.5L1247.6 439.7L1261.8 445L1275.9 450.2L1275.9 450.2L1290 460.7L1304.2 450.2L1304.2 450.2L1318.3 439.7L1332.5 429.3L1332.5 429.3L1346.6 425.8L1350.2 429.3L1351.3 450.2L1360.8 471.2L1360.8 471.2L1371.4 492.2L1374.9 502.6L1389.1 492.2L1389.1 492.2L1403.2 488.7L1417.3 492.2L1417.3 492.2L1431.5 497.4L1445.6 506.1ZM1290 424L1279.4 408.3L1290 397.8L1304.2 403.1L1311.3 408.3L1304.2 418.8ZM604 471.2L611.1 481.7L618.2 471.2L611.1 460.7ZM993 408.3L993 408.3L1007.1 411.8L1010.7 408.3L1010.7 403.1L1007.1 408.3L993 387.3L993 387.3ZM441.3 387.3L441.3 392.6L448.4 387.3L455.5 366.4L455.5 345.4L449.8 345.4L449.8 366.4L441.3 382.1ZM1194.6 387.3L1205.2 403.1L1219.3 397.8L1226.4 387.3L1219.3 380.3L1205.2 376.8ZM1205.2 392.6L1201.6 387.3L1205.2 383.8L1212.2 387.3ZM1202.3 345.4L1205.2 350.6L1212.2 345.4L1212.2 324.4L1205.2 324.4L1202.3 328.6ZM1279.4 345.4L1290 355.9L1300.7 345.4L1290 337.5ZM1290 348.9L1286.5 345.4L1290 342.8L1293.6 345.4ZM1283 282.5L1290 298.2L1296.1 291.5L1292.1 285.5L1290 287.7L1287.7 282.5Z"/>
<path fill="#ffbf00" fill-rule="evenodd" d="M441.3 1561.4L441.3 1571.9L455.5 1571.9L469.6 1571.9L483.8 1561.4L469.6 1550.9L455.5 1550.9L441.3 1550.9ZM1523.4 1456.5L1530.5 1467L1530.5 1456.5L1530.5 1435.6L1530.5 1414.6L1530.5 1393.6L1530.5 1372.7L1530.5 1351.7L1530.5 1330.8L1530.5 1309.8L1530.5 1288.8L1530.5 1278.3L1516.4 1278.3L1502.2 1288.8L1502.2 1309.8L1502.2 1309.8L1488.1 1320.3L1481 1330.8L1488.1 1341.2L1502.2 1351.7L1502.2 1351.7L1502.2 1372.7L1502.2 1393.6L1502.2 1414.6L1502.2 1435.6L1516.4 1446.1ZM1330.1 1393.6L1332.5 1397.1L1346.6 1404.1L1351.3 1393.6L1346.6 1376.9L1344.3 1372.7L1341.3 1351.7L1341.3 1330.8L1344.3 1309.8L1344.3 1288.8L1344.3 1267.9L1344.3 1246.9L1340.3 1225.9L1340.3 1205L1336.3 1184L1332.5 1163L1332.5 1163L1332.5 1142.1L1332.5 1142.1L1346.6 1131.6L1360.8 1121.1L1360.8 1121.1L1360.8 1121.1L1346.6 1110.6L1332.5 1110.6L1318.3 1110.6L1304.2 1100.1L1304.2 1100.1L1290 1094.9L1275.9 1093.2L1261.8 1089.7L1247.6 1079.2L1247.6 1079.2L1233.5 1073.9L1219.3 1072.2L1205.2 1068.7L1191 1058.2L1191 1058.2L1176.9 1047.7L1162.7 1058.2L1162.7 1058.2L1162.7 1079.2L1148.6 1089.7L1134.5 1100.1L1134.5 1121.1L1148.6 1131.6L1162.7 1142.1L1162.7 1163L1162.7 1163L1176.9 1173.5L1191 1173.5L1205.2 1173.5L1219.3 1173.5L1233.5 1173.5L1247.6 1173.5L1261.8 1173.5L1275.9 1173.5L1290 1173.5L1304.2 1173.5L1317 1184L1318.3 1205L1318.3 1205L1323.6 1225.9L1323.6 1246.9L1323.6 1267.9L1322.4 1288.8L1323.6 1309.8L1320.7 1330.8L1323.6 1351.7L1323.6 1372.7ZM1162.7 1121.1L1162.7 1121.1L1162.7 1100.1L1162.7 1100.1L1176.9 1089.7L1191 1089.7L1205.2 1089.7L1219.3 1100.1L1219.3 1100.1L1219.3 1110.6L1205.2 1110.6L1191 1121.1L1191 1121.1L1176.9 1131.6ZM1233.5 1131.6L1219.3 1121.1L1233.5 1110.6L1247.6 1110.6L1261.8 1110.6L1275.9 1121.1L1261.8 1131.6L1247.6 1131.6ZM1264.1 1330.8L1275.9 1345.7L1290 1337.7L1293.2 1330.8L1290 1323.8L1275.9 1315.8ZM1264.1 1288.8L1275.9 1303.8L1290 1295.8L1293.2 1288.8L1293.2 1267.9L1290 1260.9L1275.9 1252.9L1264.1 1267.9ZM653.5 1267.9L667.7 1278.3L681.8 1278.3L696 1278.3L710.1 1278.3L724.2 1278.3L738.4 1267.9L738.4 1246.9L738.4 1225.9L738.4 1205L738.4 1184L738.4 1163L738.4 1142.1L738.4 1121.1L724.2 1110.6L710.1 1100.1L710.1 1100.1L696 1089.7L681.8 1079.2L681.8 1079.2L667.7 1068.7L653.5 1058.2L653.5 1037.2L653.5 1037.2L639.4 1026.8L625.2 1026.8L611.1 1026.8L596.9 1016.3L596.9 995.3L596.9 995.3L582.8 984.8L568.6 984.8L554.5 984.8L540.4 974.3L540.4 974.3L526.2 963.9L512.1 974.3L512.1 995.3L512.1 995.3L497.9 1005.8L483.8 1005.8L469.6 1005.8L455.5 1005.8L441.3 1005.8L441.3 1016.3L441.3 1037.2L441.3 1047.7L455.5 1037.2L455.5 1037.2L469.6 1026.8L483.8 1037.2L483.8 1037.2L497.9 1047.7L512.1 1058.2L512.1 1058.2L526.2 1068.7L540.4 1079.2L540.4 1100.1L526.2 1110.6L512.1 1121.1L512.1 1121.1L497.9 1131.6L483.8 1131.6L469.6 1131.6L455.5 1131.6L441.3 1131.6L441.3 1142.1L441.3 1163L441.3 1184L441.3 1205L441.3 1215.4L455.5 1205L455.5 1184L455.5 1184L469.6 1173.5L483.8 1184L483.8 1184L497.9 1194.5L512.1 1194.5L526.2 1194.5L540.4 1194.5L554.5 1194.5L568.6 1194.5L582.8 1194.5L596.9 1205L596.9 1205L611.1 1215.4L625.2 1225.9L625.2 1225.9L625.2 1246.9L639.4 1257.4L653.5 1267.9ZM526.2 1047.7L512.1 1037.2L526.2 1026.8L540.4 1037.2ZM582.8 1089.7L568.6 1079.2L568.6 1058.2L582.8 1047.7L596.9 1058.2L596.9 1058.2L596.9 1079.2L596.9 1079.2ZM1106.2 1267.9L1120.3 1278.3L1134.5 1267.9L1120.3 1257.4ZM1502.2 1225.9L1516.4 1236.4L1530.5 1236.4L1530.5 1225.9L1530.5 1205L1530.5 1184L1530.5 1173.5L1516.4 1173.5L1502.2 1163L1516.4 1152.6L1530.5 1152.6L1530.5 1142.1L1530.5 1131.6L1516.4 1131.6L1502.2 1121.1L1502.2 1100.1L1502.2 1100.1L1488.1 1089.7L1473.9 1089.7L1459.8 1089.7L1445.6 1100.1L1445.6 1100.1L1445.6 1121.1L1445.6 1142.1L1445.6 1142.1L1459.8 1152.6L1473.9 1163L1473.9 1184L1473.9 1184L1488.1 1194.5L1502.2 1205L1502.2 1205ZM936.4 1121.1L950.6 1131.6L957.6 1121.1L957.6 1100.1L950.6 1089.7L936.4 1100.1ZM971.8 1121.1L978.9 1131.6L993 1131.6L1007.1 1131.6L1021.3 1121.1L1007.1 1110.6L993 1110.6L978.9 1110.6ZM1367.8 785.7L1374.9 796.1L1389.1 785.7L1389.1 785.7L1403.2 775.2L1417.3 785.7L1417.3 785.7L1431.5 796.1L1445.6 796.1L1459.8 796.1L1473.9 785.7L1473.9 785.7L1488.1 775.2L1502.2 775.2L1516.4 775.2L1530.5 775.2L1530.5 764.7L1530.5 754.2L1516.4 754.2L1502.2 754.2L1488.1 754.2L1473.9 764.7L1473.9 764.7L1459.8 775.2L1445.6 764.7L1445.6 764.7L1431.5 754.2L1417.3 754.2L1403.2 754.2L1389.1 754.2L1374.9 754.2L1360.8 754.2L1346.6 754.2L1332.5 750.7L1318.3 749L1304.2 749L1290 749L1283 743.7L1275.9 733.3L1268.8 722.8L1261.8 712.3L1247.6 712.3L1233.5 712.3L1219.3 701.8L1219.3 701.8L1205.2 696.6L1191 687.8L1184 680.8L1176.9 670.4L1162.7 673.9L1148.6 675.6L1134.5 673.9L1120.3 670.4L1106.2 659.9L1106.2 659.9L1092 649.4L1077.9 645.9L1063.7 644.2L1049.6 638.9L1049.6 638.9L1035.4 633.7L1021.3 631.9L1007.1 628.4L993 617.9L993 617.9L978.9 607.5L964.7 604L950.6 602.2L936.4 597L936.4 597L922.3 591.7L908.1 586.5L901.1 576L894 565.5L879.8 576L879.8 576L879.8 597L865.7 607.5L851.5 597L851.5 597L837.4 586.5L823.3 576L823.3 555L823.3 555L809.1 544.6L795 555L795 576L795 576L787.9 597L780.8 602.2L773.8 597L773.8 576L766.7 555L766.7 555L759.6 534.1L752.5 523.6L738.4 513.1L738.4 513.1L731.3 492.2L731.3 471.2L729 450.2L729 429.3L729 408.3L724.2 408.3L717.2 397.8L717.2 408.3L717.2 429.3L719.5 450.2L717.2 471.2L710.1 492.2L710.1 513.1L710.1 513.1L696 523.6L681.8 513.1L681.8 513.1L667.7 502.6L653.5 492.2L653.5 492.2L639.4 481.7L632.3 471.2L625.2 450.2L625.2 450.2L611.1 446.7L596.9 450.2L596.9 450.2L589.9 471.2L596.9 492.2L596.9 492.2L596.9 492.2L582.8 502.6L579.3 492.2L579.3 471.2L575.7 450.2L582.8 446.7L596.9 446.9L596.9 429.3L596.9 429.3L593.4 408.3L593.4 392.6L586.3 403.1L586.3 408.3L591.3 429.3L582.8 439.7L568.6 439.7L561.6 450.2L568.6 460.7L572.2 471.2L572.2 492.2L578.1 513.1L582.8 518.4L596.9 520.1L611.1 523.6L625.2 513.1L625.2 513.1L639.4 502.6L653.5 513.1L653.5 513.1L667.7 523.6L681.8 534.1L681.8 534.1L696 544.6L710.1 544.6L724.2 544.6L738.4 555L738.4 555L752.5 565.5L759.6 576L759.6 597L766.7 604L780.8 612.7L795 617.9L795 617.9L809.1 623.2L823.3 628.4L837.4 633.7L851.5 638.9L851.5 638.9L851.5 659.9L865.7 665.1L872.8 659.9L872.8 638.9L872.8 617.9L879.8 611L894 602.2L908.1 604L922.3 607.5L936.4 611L950.6 612.7L964.7 617.9L964.7 617.9L978.9 628.4L993 638.9L993 638.9L1007.1 649.4L1021.3 645.9L1035.4 644.2L1049.6 649.4L1063.7 654.6L1077.9 659.9L1077.9 659.9L1092 665.1L1106.2 673.9L1113.2 680.8L1120.3 691.3L1134.5 687.8L1148.6 686.1L1162.7 687.8L1176.9 691.3L1191 701.8L1191 701.8L1205.2 712.3L1219.3 722.8L1219.3 722.8L1233.5 728L1247.6 729.8L1261.8 733.3L1268.8 743.7L1275.9 750.7L1290 759.5L1304.2 759.5L1318.3 759.5L1332.5 764.7L1332.5 764.7L1346.6 769.9L1360.8 775.2ZM611.1 481.7L604 471.2L611.1 460.7L618.2 471.2ZM809.1 607.5L802 597L809.1 586.5L823.3 597L823.3 597L823.3 597ZM837.4 623.2L823.3 617.9L837.4 607.5L851.5 607.5L851.5 617.9L851.5 617.9ZM908.1 680.8L922.3 691.3L929.3 680.8L922.3 675.6ZM1523.4 555L1530.5 565.5L1530.5 555L1530.5 534.1L1530.5 513.1L1530.5 507.9L1523.4 513.1L1516.4 518.4L1502.2 518.4L1488.1 518.4L1473.9 520.1L1459.8 523.6L1452.7 513.1L1445.6 506.1L1431.5 497.4L1417.3 492.2L1417.3 492.2L1403.2 488.7L1389.1 492.2L1389.1 492.2L1374.9 502.6L1371.4 492.2L1360.8 471.2L1360.8 471.2L1351.3 450.2L1350.2 429.3L1346.6 425.8L1332.5 429.3L1332.5 429.3L1318.3 439.7L1304.2 450.2L1304.2 450.2L1290 460.7L1275.9 450.2L1275.9 450.2L1261.8 445L1247.6 439.7L1233.5 434.5L1228.8 429.3L1219.3 420.9L1205.2 416.2L1191 423.3L1181.6 429.3L1176.9 431.9L1169.8 429.3L1162.7 422.3L1157.1 408.3L1148.6 392.6L1134.5 401.3L1127.4 408.3L1120.3 410.9L1113.2 408.3L1106.2 404.8L1092 402L1077.9 387.3L1077.9 366.4L1077.9 366.4L1073.8 372.4L1073.8 387.3L1077.9 397.8L1092 406.2L1099.1 408.3L1106.2 413.5L1120.3 416.2L1134.5 413.5L1141.5 408.3L1148.6 403.1L1151.4 408.3L1155.7 429.3L1162.7 433.5L1176.9 437.1L1191 429.3L1191 429.3L1205.2 421.4L1219.3 429.3L1219.3 429.3L1219.3 445L1205.2 445L1200.5 450.2L1205.2 455.5L1219.3 450.2L1219.3 450.2L1233.5 445L1247.6 450.2L1247.6 450.2L1247.6 471.2L1261.8 481.7L1275.9 481.7L1290 481.7L1304.2 471.2L1304.2 471.2L1318.3 460.7L1332.5 460.7L1346.6 460.7L1351.3 471.2L1360.8 485.2L1364.3 492.2L1370.2 513.1L1374.9 523.6L1389.1 513.1L1389.1 513.1L1403.2 502.6L1417.3 506.1L1431.5 507.9L1438.6 513.1L1445.6 534.1L1445.6 534.1L1459.8 544.6L1473.9 534.1L1473.9 534.1L1488.1 528.8L1502.2 528.8L1516.4 528.8L1523.4 534.1ZM798.5 513.1L809.1 528.8L823.3 527.1L837.4 523.6L844.5 513.1L844.5 492.2L837.4 481.7L823.3 492.2L823.3 492.2L809.1 497.4ZM809.1 518.4L805.6 513.1L809.1 507.9L823.3 513.1L823.3 513.1L823.3 513.1ZM512.1 450.2L526.2 460.7L540.4 454.4L547.4 450.2L554.5 439.7L561.6 429.3L554.5 429.3L540.4 408.3L539.2 406.5L538.9 408.3L526.2 427.2L524.2 429.3ZM526.2 453.7L521.5 450.2L526.2 439.7L533.3 450.2ZM947.7 450.2L950.6 455.5L964.7 450.2L964.7 450.2L978.9 439.7L985.9 429.3L993 422.3L1007.1 418.8L1017.8 408.3L1017.8 392.6L1010.7 403.1L1010.7 408.3L1007.1 411.8L993 408.3L993 408.3L993 387.3L978.9 408.3L964.7 408.3L964.7 429.3L964.7 439.7L950.6 439.7ZM634.7 429.3L639.4 439.7L653.5 429.3L653.5 429.3L653.5 429.3L639.4 424ZM660.6 408.3L667.7 418.8L674.7 408.3L674.7 397.8L667.7 408.3L660.6 397.8ZM1279.4 408.3L1290 424L1304.2 418.8L1311.3 408.3L1304.2 403.1L1290 397.8ZM1290 413.5L1286.5 408.3L1290 404.8L1297.1 408.3ZM1028.4 387.3L1035.4 390.8L1038 387.3L1035.4 387.3ZM1201.6 387.3L1205.2 392.6L1212.2 387.3L1205.2 383.8ZM441.3 371.6L441.3 382.1L449.8 366.4L449.8 345.4L444.2 345.4L444.2 366.4ZM1286.5 345.4L1290 348.9L1293.6 345.4L1290 342.8ZM1287.7 282.5L1290 287.7L1292.1 285.5L1290 282.5Z"/>
<path fill="#ff8000" fill-rule="evenodd" d="M1502.2 1163L1516.4 1173.5L1530.5 1173.5L1530.5 1163L1530.5 1152.6L1516.4 1152.6ZM441.3 1121.1L441.3 1131.6L455.5 1131.6L469.6 1131.6L483.8 1131.6L497.9 1131.6L512.1 1121.1L512.1 1121.1L526.2 1110.6L540.4 1100.1L540.4 1079.2L526.2 1068.7L512.1 1058.2L512.1 1058.2L497.9 1047.7L483.8 1037.2L483.8 1037.2L469.6 1026.8L455.5 1037.2L455.5 1037.2L441.3 1047.7L441.3 1058.2L441.3 1079.2L441.3 1100.1ZM1162.7 1121.1L1162.7 1121.1L1176.9 1131.6L1191 1121.1L1191 1121.1L1205.2 1110.6L1219.3 1110.6L1219.3 1100.1L1219.3 1100.1L1205.2 1089.7L1191 1089.7L1176.9 1089.7L1162.7 1100.1L1162.7 1100.1ZM1219.3 1121.1L1233.5 1131.6L1247.6 1131.6L1261.8 1131.6L1275.9 1121.1L1261.8 1110.6L1247.6 1110.6L1233.5 1110.6ZM568.6 1079.2L582.8 1089.7L596.9 1079.2L596.9 1079.2L596.9 1058.2L596.9 1058.2L582.8 1047.7L568.6 1058.2ZM512.1 1037.2L526.2 1047.7L540.4 1037.2L526.2 1026.8ZM1445.6 764.7L1445.6 764.7L1459.8 775.2L1473.9 764.7L1473.9 764.7L1488.1 754.2L1502.2 754.2L1516.4 754.2L1530.5 754.2L1530.5 743.7L1530.5 722.8L1530.5 701.8L1530.5 691.3L1516.4 691.3L1502.2 701.8L1502.2 722.8L1502.2 722.8L1488.1 733.3L1473.9 733.3L1473.9 722.8L1459.8 712.3L1445.6 722.8L1445.6 722.8L1431.5 733.3L1417.3 733.3L1403.2 733.3L1389.1 733.3L1374.9 733.3L1360.8 722.8L1360.8 722.8L1346.6 712.3L1332.5 701.8L1332.5 701.8L1332.5 680.8L1318.3 670.4L1311.3 680.8L1304.2 701.8L1304.2 701.8L1304.2 722.8L1290 733.3L1283 722.8L1275.9 701.8L1275.9 701.8L1261.8 691.3L1247.6 680.8L1247.6 680.8L1233.5 670.4L1219.3 680.8L1219.3 680.8L1205.2 686.1L1198.1 680.8L1191 659.9L1191 659.9L1176.9 649.4L1162.7 659.9L1162.7 659.9L1148.6 665.1L1134.5 659.9L1134.5 659.9L1120.3 649.4L1106.2 638.9L1106.2 638.9L1092 633.7L1077.9 631.9L1063.7 628.4L1049.6 624.9L1035.4 623.2L1021.3 617.9L1021.3 617.9L1007.1 607.5L993 597L993 597L978.9 586.5L964.7 576L964.7 576L950.6 565.5L936.4 555L936.4 555L922.3 549.8L908.1 548.1L894 544.6L879.8 555L879.8 555L865.7 565.5L851.5 555L851.5 534.1L858.6 513.1L858.6 492.2L851.5 471.2L851.5 471.2L851.5 471.2L837.4 450.2L823.3 429.3L823.3 450.2L823.3 471.2L823.3 471.2L809.1 481.7L795 492.2L795 492.2L791.4 513.1L795 534.1L795 534.1L795 534.1L780.8 544.6L773.8 534.1L766.7 523.6L759.6 513.1L752.5 502.6L745.5 492.2L745.5 471.2L738.4 450.2L738.4 429.3L738.4 408.3L738.4 408.3L729 408.3L729 429.3L729 450.2L731.3 471.2L731.3 492.2L738.4 513.1L738.4 513.1L752.5 523.6L759.6 534.1L766.7 555L766.7 555L773.8 576L773.8 597L780.8 602.2L787.9 597L795 576L795 576L795 555L809.1 544.6L823.3 555L823.3 555L823.3 576L837.4 586.5L851.5 597L851.5 597L865.7 607.5L879.8 597L879.8 576L879.8 576L894 565.5L901.1 576L908.1 586.5L922.3 591.7L936.4 597L936.4 597L950.6 602.2L964.7 604L978.9 607.5L993 617.9L993 617.9L1007.1 628.4L1021.3 631.9L1035.4 633.7L1049.6 638.9L1049.6 638.9L1063.7 644.2L1077.9 645.9L1092 649.4L1106.2 659.9L1106.2 659.9L1120.3 670.4L1134.5 673.9L1148.6 675.6L1162.7 673.9L1176.9 670.4L1184 680.8L1191 687.8L1205.2 696.6L1219.3 701.8L1219.3 701.8L1233.5 712.3L1247.6 712.3L1261.8 712.3L1268.8 722.8L1275.9 733.3L1283 743.7L1290 749L1304.2 749L1318.3 749L1332.5 750.7L1346.6 754.2L1360.8 754.2L1374.9 754.2L1389.1 754.2L1403.2 754.2L1417.3 754.2L1431.5 754.2ZM1445.6 743.7L1445.6 743.7L1445.6 733.3L1459.8 733.3L1473.9 743.7L1459.8 754.2ZM809.1 528.8L798.5 513.1L809.1 497.4L823.3 492.2L823.3 492.2L837.4 481.7L844.5 492.2L844.5 513.1L837.4 523.6L823.3 527.1ZM922.3 581.3L915.2 576L922.3 565.5L936.4 565.5L936.4 576L936.4 576ZM823.3 617.9L837.4 623.2L851.5 617.9L851.5 617.9L851.5 607.5L837.4 607.5ZM1502.2 617.9L1516.4 628.4L1530.5 628.4L1530.5 617.9L1530.5 597L1530.5 576L1530.5 565.5L1523.4 555L1523.4 534.1L1516.4 528.8L1502.2 528.8L1488.1 528.8L1473.9 534.1L1473.9 534.1L1459.8 544.6L1445.6 534.1L1445.6 534.1L1438.6 513.1L1431.5 507.9L1417.3 506.1L1403.2 502.6L1389.1 513.1L1389.1 513.1L1374.9 523.6L1370.2 513.1L1364.3 492.2L1360.8 485.2L1351.3 471.2L1346.6 460.7L1332.5 460.7L1318.3 460.7L1304.2 471.2L1304.2 471.2L1290 481.7L1275.9 481.7L1261.8 481.7L1247.6 471.2L1247.6 450.2L1247.6 450.2L1233.5 445L1219.3 450.2L1219.3 450.2L1205.2 455.5L1200.5 450.2L1205.2 445L1219.3 445L1219.3 429.3L1219.3 429.3L1205.2 421.4L1191 429.3L1191 429.3L1176.9 437.1L1162.7 433.5L1155.7 429.3L1151.4 408.3L1148.6 403.1L1141.5 408.3L1134.5 413.5L1120.3 416.2L1106.2 413.5L1099.1 408.3L1092 406.2L1077.9 397.8L1073.8 387.3L1073.8 372.4L1069.8 378.3L1069.8 387.3L1077.9 408.3L1077.9 408.3L1077.9 429.3L1092 439.7L1099.1 429.3L1106.2 424L1120.3 421.4L1134.5 424L1141.5 429.3L1148.6 439.7L1162.7 441.8L1176.9 442.4L1191 450.2L1191 465.9L1205.2 465.9L1219.3 471.2L1219.3 471.2L1233.5 481.7L1247.6 492.2L1247.6 492.2L1261.8 502.6L1275.9 502.6L1290 502.6L1304.2 492.2L1304.2 492.2L1318.3 481.7L1332.5 478.2L1346.6 476.4L1357.2 492.2L1360.8 513.1L1360.8 513.1L1367.8 534.1L1374.9 544.6L1389.1 534.1L1389.1 534.1L1403.2 523.6L1417.3 534.1L1417.3 534.1L1431.5 544.6L1445.6 555L1445.6 555L1459.8 565.5L1473.9 565.5L1488.1 565.5L1502.2 576L1502.2 576L1502.2 597ZM1205.2 434.5L1200.5 429.3L1205.2 426.6L1209.9 429.3ZM964.7 534.1L978.9 544.6L985.9 534.1L978.9 523.6ZM681.8 513.1L696 523.6L710.1 513.1L710.1 513.1L710.1 492.2L717.2 471.2L719.5 450.2L717.2 429.3L717.2 408.3L717.2 397.8L710.1 387.3L706.6 387.3L703 408.3L703 429.3L710.1 450.2L710.1 450.2L710.1 450.2L703 471.2L696 481.7L681.8 481.7L667.7 481.7L653.5 471.2L653.5 450.2L667.7 439.7L681.8 429.3L681.8 429.3L688.9 408.3L685.3 387.3L681.8 387.3L674.7 397.8L674.7 408.3L667.7 418.8L660.6 408.3L660.6 397.8L653.5 387.3L653.5 366.4L650 366.4L650 387.3L646.4 408.3L639.4 413.5L625.2 429.3L625.2 429.3L611.1 439.7L602.6 429.3L600.5 408.3L600.5 392.6L596.9 387.3L593.4 392.6L593.4 408.3L596.9 429.3L596.9 429.3L596.9 446.9L582.8 446.7L575.7 450.2L579.3 471.2L579.3 492.2L582.8 502.6L596.9 492.2L596.9 492.2L596.9 492.2L589.9 471.2L596.9 450.2L596.9 450.2L611.1 446.7L625.2 450.2L625.2 450.2L632.3 471.2L639.4 481.7L653.5 492.2L653.5 492.2L667.7 502.6L681.8 513.1ZM639.4 439.7L634.7 429.3L639.4 424L653.5 429.3L653.5 429.3L653.5 429.3ZM1169.8 471.2L1176.9 481.7L1191 471.2L1176.9 465.9ZM521.5 450.2L526.2 453.7L533.3 450.2L526.2 439.7ZM942.1 450.2L950.6 465.9L964.7 460.7L978.9 455.5L985.9 450.2L993 439.7L1000.1 429.3L1007.1 425.8L1021.3 415.3L1024.8 408.3L1035.4 397.8L1043.2 387.3L1038 387.3L1035.4 390.8L1028.4 387.3L1021.3 387.3L1017.8 392.6L1017.8 408.3L1007.1 418.8L993 422.3L985.9 429.3L978.9 439.7L964.7 450.2L964.7 450.2L950.6 455.5L947.7 450.2L950.6 439.7L964.7 439.7L964.7 429.3L964.7 408.3L964.7 408.3L950.6 429.3L945.8 436.2ZM1286.5 408.3L1290 413.5L1297.1 408.3L1290 404.8ZM441.3 366.4L441.3 371.6L444.2 366.4L444.2 345.4L441.3 345.4Z"/>
<path fill="#ff4000" fill-rule="evenodd" d="M1445.6 743.7L1445.6 743.7L1459.8 754.2L1473.9 743.7L1459.8 733.3L1445.6 733.3ZM1283 722.8L1290 733.3L1304.2 722.8L1304.2 701.8L1304.2 701.8L1311.3 680.8L1318.3 670.4L1332.5 680.8L1332.5 701.8L1332.5 701.8L1346.6 712.3L1360.8 722.8L1360.8 722.8L1374.9 733.3L1389.1 733.3L1403.2 733.3L1417.3 733.3L1431.5 733.3L1445.6 722.8L1445.6 722.8L1459.8 712.3L1473.9 722.8L1473.9 733.3L1488.1 733.3L1502.2 722.8L1502.2 722.8L1502.2 701.8L1516.4 691.3L1530.5 691.3L1530.5 680.8L1530.5 659.9L1530.5 638.9L1530.5 628.4L1516.4 628.4L1502.2 617.9L1502.2 597L1502.2 576L1502.2 576L1488.1 565.5L1473.9 565.5L1459.8 565.5L1445.6 555L1445.6 555L1431.5 544.6L1417.3 534.1L1417.3 534.1L1403.2 523.6L1389.1 534.1L1389.1 534.1L1374.9 544.6L1367.8 534.1L1360.8 513.1L1360.8 513.1L1357.2 492.2L1346.6 476.4L1332.5 478.2L1318.3 481.7L1304.2 492.2L1304.2 492.2L1290 502.6L1275.9 502.6L1261.8 502.6L1247.6 492.2L1247.6 492.2L1233.5 481.7L1219.3 471.2L1219.3 471.2L1205.2 465.9L1191 465.9L1191 450.2L1176.9 442.4L1162.7 441.8L1148.6 439.7L1141.5 429.3L1134.5 424L1120.3 421.4L1106.2 424L1099.1 429.3L1092 439.7L1077.9 429.3L1077.9 408.3L1077.9 408.3L1069.8 387.3L1069.8 378.3L1065.7 384.3L1065.7 387.3L1063.7 397.8L1056.7 408.3L1056.7 429.3L1056.7 450.2L1063.7 460.7L1077.9 471.2L1077.9 471.2L1092 481.7L1106.2 471.2L1106.2 471.2L1106.2 450.2L1113.2 429.3L1120.3 426.6L1127.4 429.3L1134.5 450.2L1134.5 450.2L1148.6 460.7L1155.7 471.2L1162.7 492.2L1162.7 492.2L1176.9 502.6L1191 492.2L1191 492.2L1205.2 481.7L1219.3 492.2L1219.3 492.2L1233.5 502.6L1247.6 513.1L1247.6 513.1L1261.8 523.6L1275.9 534.1L1275.9 534.1L1290 544.6L1304.2 544.6L1318.3 544.6L1332.5 534.1L1332.5 513.1L1332.5 492.2L1332.5 492.2L1346.6 486.9L1350.2 492.2L1351.3 513.1L1353.7 534.1L1360.8 555L1360.8 555L1374.9 565.5L1389.1 555L1389.1 555L1403.2 544.6L1417.3 555L1417.3 576L1417.3 576L1431.5 586.5L1445.6 597L1445.6 597L1459.8 607.5L1473.9 617.9L1473.9 638.9L1473.9 659.9L1473.9 680.8L1459.8 691.3L1445.6 691.3L1431.5 691.3L1417.3 701.8L1417.3 701.8L1403.2 712.3L1389.1 712.3L1374.9 712.3L1360.8 701.8L1360.8 680.8L1360.8 659.9L1360.8 659.9L1346.6 649.4L1332.5 638.9L1332.5 638.9L1318.3 628.4L1304.2 638.9L1304.2 638.9L1304.2 659.9L1297.1 680.8L1290 691.3L1275.9 680.8L1275.9 680.8L1261.8 670.4L1247.6 659.9L1247.6 659.9L1233.5 649.4L1219.3 649.4L1205.2 649.4L1191 638.9L1191 638.9L1191 617.9L1176.9 607.5L1162.7 617.9L1162.7 617.9L1148.6 628.4L1134.5 628.4L1120.3 628.4L1106.2 624.9L1092 623.2L1077.9 617.9L1077.9 617.9L1063.7 607.5L1049.6 607.5L1035.4 607.5L1021.3 597L1021.3 597L1007.1 586.5L993 576L993 555L1000.1 534.1L993 513.1L993 513.1L978.9 502.6L964.7 513.1L964.7 513.1L950.6 523.6L936.4 534.1L936.4 534.1L922.3 539.3L908.1 534.1L908.1 534.1L894 523.6L879.8 513.1L879.8 492.2L879.8 471.2L879.8 450.2L879.8 450.2L879.8 450.2L865.7 460.7L861 457.2L851.5 471.2L851.5 471.2L858.6 492.2L858.6 513.1L851.5 534.1L851.5 555L865.7 565.5L879.8 555L879.8 555L894 544.6L908.1 548.1L922.3 549.8L936.4 555L936.4 555L950.6 565.5L964.7 576L964.7 576L978.9 586.5L993 597L993 597L1007.1 607.5L1021.3 617.9L1021.3 617.9L1035.4 623.2L1049.6 624.9L1063.7 628.4L1077.9 631.9L1092 633.7L1106.2 638.9L1106.2 638.9L1120.3 649.4L1134.5 659.9L1134.5 659.9L1148.6 665.1L1162.7 659.9L1162.7 659.9L1176.9 649.4L1191 659.9L1191 659.9L1198.1 680.8L1205.2 686.1L1219.3 680.8L1219.3 680.8L1233.5 670.4L1247.6 680.8L1247.6 680.8L1261.8 691.3L1275.9 701.8L1275.9 701.8ZM1162.7 450.2L1162.7 450.2L1162.7 450.2L1176.9 447.6L1181.6 450.2L1176.9 455.5ZM1176.9 481.7L1169.8 471.2L1176.9 465.9L1191 471.2ZM978.9 544.6L964.7 534.1L978.9 523.6L985.9 534.1ZM915.2 576L922.3 581.3L936.4 576L936.4 576L936.4 565.5L922.3 565.5ZM773.8 534.1L780.8 544.6L795 534.1L795 534.1L795 534.1L791.4 513.1L795 492.2L795 492.2L809.1 481.7L823.3 471.2L823.3 471.2L823.3 450.2L823.3 429.3L823.3 429.3L813.8 443.2L813.8 450.2L809.1 460.7L795 471.2L795 471.2L780.8 481.7L766.7 471.2L766.7 471.2L752.5 460.7L747.8 450.2L747.8 429.3L747.8 408.3L738.4 408.3L738.4 429.3L738.4 450.2L745.5 471.2L745.5 492.2L752.5 502.6L759.6 513.1L766.7 523.6ZM780.8 523.6L773.8 513.1L780.8 502.6L784.4 513.1ZM653.5 471.2L667.7 481.7L681.8 481.7L696 481.7L703 471.2L710.1 450.2L710.1 450.2L710.1 450.2L703 429.3L703 408.3L706.6 387.3L699.5 387.3L696 397.8L692.4 387.3L685.3 387.3L688.9 408.3L681.8 429.3L681.8 429.3L667.7 439.7L653.5 450.2ZM696 460.7L681.8 450.2L696 439.7L700.7 450.2ZM936.4 471.2L950.6 481.7L964.7 471.2L964.7 471.2L978.9 465.9L993 460.7L1000.1 450.2L1007.1 439.7L1021.3 429.3L1021.3 429.3L1031.9 408.3L1035.4 404.8L1048.3 387.3L1043.2 387.3L1035.4 397.8L1024.8 408.3L1021.3 415.3L1007.1 425.8L1000.1 429.3L993 439.7L985.9 450.2L978.9 455.5L964.7 460.7L950.6 465.9L942.1 450.2L945.8 436.2L936.4 450.2L936.4 450.2ZM602.6 429.3L611.1 439.7L625.2 429.3L625.2 429.3L639.4 413.5L646.4 408.3L650 387.3L650 366.4L642.9 366.4L642.9 387.3L639.4 397.8L625.2 408.3L625.2 408.3L615.8 429.3L611.1 432.8L608.3 429.3L607.5 408.3L607.5 403.1L600.5 392.6L600.5 408.3ZM1200.5 429.3L1205.2 434.5L1209.9 429.3L1205.2 426.6Z"/>
<path fill="#ff0000" fill-rule="evenodd" d="M1360.8 701.8L1374.9 712.3L1389.1 712.3L1403.2 712.3L1417.3 701.8L1417.3 701.8L1431.5 691.3L1445.6 691.3L1459.8 691.3L1473.9 680.8L1473.9 659.9L1473.9 638.9L1473.9 617.9L1459.8 607.5L1445.6 597L1445.6 597L1431.5 586.5L1417.3 576L1417.3 576L1417.3 555L1403.2 544.6L1389.1 555L1389.1 555L1374.9 565.5L1360.8 555L1360.8 555L1353.7 534.1L1351.3 513.1L1350.2 492.2L1346.6 486.9L1332.5 492.2L1332.5 492.2L1332.5 513.1L1332.5 534.1L1318.3 544.6L1304.2 544.6L1290 544.6L1275.9 534.1L1275.9 534.1L1261.8 523.6L1247.6 513.1L1247.6 513.1L1233.5 502.6L1219.3 492.2L1219.3 492.2L1205.2 481.7L1191 492.2L1191 492.2L1176.9 502.6L1162.7 492.2L1162.7 492.2L1155.7 471.2L1148.6 460.7L1134.5 450.2L1134.5 450.2L1127.4 429.3L1120.3 426.6L1113.2 429.3L1106.2 450.2L1106.2 471.2L1106.2 471.2L1092 481.7L1077.9 471.2L1077.9 471.2L1063.7 460.7L1056.7 450.2L1056.7 429.3L1056.7 408.3L1063.7 397.8L1065.7 387.3L1065.7 384.3L1063.7 387.3L1049.6 387.3L1048.3 387.3L1035.4 404.8L1031.9 408.3L1021.3 429.3L1021.3 429.3L1007.1 439.7L1000.1 450.2L993 460.7L978.9 465.9L964.7 471.2L964.7 471.2L950.6 481.7L936.4 471.2L936.4 450.2L936.4 450.2L936.4 450.2L922.3 471.2L908.1 471.2L894 471.2L879.8 450.2L879.8 471.2L879.8 492.2L879.8 513.1L894 523.6L908.1 534.1L908.1 534.1L922.3 539.3L936.4 534.1L936.4 534.1L950.6 523.6L964.7 513.1L964.7 513.1L978.9 502.6L993 513.1L993 513.1L1000.1 534.1L993 555L993 576L1007.1 586.5L1021.3 597L1021.3 597L1035.4 607.5L1049.6 607.5L1063.7 607.5L1077.9 617.9L1077.9 617.9L1092 623.2L1106.2 624.9L1120.3 628.4L1134.5 628.4L1148.6 628.4L1162.7 617.9L1162.7 617.9L1176.9 607.5L1191 617.9L1191 638.9L1191 638.9L1205.2 649.4L1219.3 649.4L1233.5 649.4L1247.6 659.9L1247.6 659.9L1261.8 670.4L1275.9 680.8L1275.9 680.8L1290 691.3L1297.1 680.8L1304.2 659.9L1304.2 638.9L1304.2 638.9L1318.3 628.4L1332.5 638.9L1332.5 638.9L1346.6 649.4L1360.8 659.9L1360.8 659.9L1360.8 680.8ZM773.8 513.1L780.8 523.6L784.4 513.1L780.8 502.6ZM766.7 471.2L780.8 481.7L795 471.2L795 471.2L809.1 460.7L813.8 450.2L813.8 443.2L809.1 450.2L795 450.2L780.8 429.3L766.7 408.3L752.5 408.3L747.8 408.3L747.8 429.3L747.8 450.2L752.5 460.7L766.7 471.2ZM681.8 450.2L696 460.7L700.7 450.2L696 439.7ZM865.7 450.2L861 457.2L865.7 460.7L879.8 450.2ZM1162.7 450.2L1162.7 450.2L1176.9 455.5L1181.6 450.2L1176.9 447.6L1162.7 450.2ZM608.3 429.3L611.1 432.8L615.8 429.3L625.2 408.3L625.2 408.3L639.4 397.8L642.9 387.3L642.9 366.4L639.4 366.4L625.2 366.4L625.2 387.3L611.1 408.3L607.5 403.1L607.5 408.3ZM692.4 387.3L696 397.8L699.5 387.3L696 387.3Z"/>
<path fill="none" stroke="#000" stroke-width="2.2" stroke-linejoin="round" d="M497.9 670.4L490.9 659.9L483.8 638.9L483.8 638.9L483.8 638.9L497.9 628.4L505 638.9L512.1 649.4L526.2 654.6L533.3 659.9L526.2 670.4L512.1 670.4L497.9 670.4M497.9 607.5L490.9 597L497.9 586.5L512.1 597L512.1 597L512.1 597L497.9 607.5M1431.5 369.9L1424.4 366.4L1426.8 345.4L1431.5 340.2L1434.3 345.4L1434.3 366.4L1431.5 369.9M457.8 635.4L469.6 635.4L483.8 628.4L493.2 617.9L483.8 604L476.7 597L469.6 586.5L462.6 586.5M441.3 544.6L455.5 555L455.5 555L469.6 565.5L483.8 569L497.9 570.8L512.1 576L512.1 576L526.2 586.5L540.4 597L540.4 597L540.4 617.9L540.4 617.9L526.2 628.4L519.1 638.9L526.2 644.2L540.4 649.4L547.4 659.9L554.5 670.4L568.6 680.8L568.6 680.8L568.6 701.8L582.8 712.3L596.9 722.8L596.9 722.8L596.9 743.7L596.9 764.7L596.9 764.7L589.9 785.7L596.9 806.6L596.9 806.6L596.9 806.6L582.8 817.1L575.7 806.6L568.6 785.7L568.6 785.7L568.6 764.7L568.6 743.7L568.6 722.8L554.5 712.3L540.4 701.8L540.4 701.8L526.2 691.3L512.1 691.3L497.9 691.3L483.8 680.8L483.8 680.8L476.7 659.9L469.6 649.4L455.5 649.4L441.3 649.4M1403.2 390.8L1396.1 387.3L1403.2 376.8L1410.3 366.4L1417.3 345.4L1417.3 345.4L1431.5 329.7L1440 345.4L1440 366.4L1431.5 376.8L1417.3 376.8L1410.3 387.3L1403.2 390.8M604 785.7L611.1 796.1L625.2 785.7L625.2 785.7L625.2 775.2L611.1 775.2L604 785.7M462.6 628.4L469.6 628.4L483.8 617.9L469.6 602.2M441.3 523.6L455.5 523.6L469.6 523.6L483.8 534.1L483.8 534.1L483.8 555L497.9 560.3L512.1 565.5L526.2 570.8L540.4 571.8L554.5 572.5L568.6 576L568.6 576L568.6 597L568.6 617.9L582.8 628.4L596.9 638.9L596.9 638.9L596.9 659.9L596.9 680.8L596.9 701.8L611.1 712.3L625.2 722.8L625.2 722.8L625.2 743.7L625.2 764.7L639.4 775.2L646.4 785.7L646.4 806.6L646.4 827.6L639.4 838.1L625.2 838.1L611.1 838.1L596.9 838.1L582.8 838.1L568.6 827.6L568.6 827.6L561.6 806.6L554.5 796.1L540.4 785.7L540.4 785.7L526.2 775.2L512.1 764.7L512.1 743.7L512.1 743.7L497.9 733.3L483.8 722.8L483.8 722.8L469.6 712.3L462.6 701.8L455.5 680.8L455.5 680.8L441.3 670.4M497.9 431.4L494.4 429.3L497.9 427.2L499.9 429.3L497.9 431.4M1516.4 413.5L1511.7 408.3L1516.4 405.7L1523.4 408.3L1516.4 413.5M1445.6 345.4L1445.6 345.4L1445.6 366.4L1431.5 383.8L1424.4 387.3L1417.4 391.5L1403.2 397.8L1389.1 392.6L1382 387.3L1389.1 366.4L1389.1 366.4L1403.2 355.9L1407.9 345.4L1417.3 331.4L1424.4 324.4M780.8 859L766.7 848.6L766.7 848.6L752.5 838.1L738.4 827.6L738.4 827.6L738.4 806.6L738.4 785.7L738.4 785.7L752.5 775.2L766.7 785.7L766.7 785.7L780.8 796.1L795 806.6L795 806.6L795 827.6L795 848.6L795 848.6L780.8 859M467.3 621.4L469.6 621.4L474.3 617.9L469.6 612.7M441.3 481.7L455.5 492.2L455.5 492.2L469.6 502.6L483.8 513.1L483.8 513.1L497.9 523.6L512.1 534.1L512.1 534.1L512.1 555L526.2 560.3L540.4 563.4L554.5 565.5L568.6 569L582.8 572.5L596.9 576L596.9 576L596.9 597L596.9 617.9L611.1 628.4L625.2 638.9L625.2 638.9L625.2 659.9L625.2 680.8L639.4 691.3L653.5 701.8L653.5 701.8L653.5 722.8L667.7 733.3L681.8 743.7L681.8 743.7L696 754.2L710.1 764.7L710.1 764.7L710.1 785.7L710.1 785.7L696 796.1L681.8 785.7L681.8 785.7L667.7 775.2L660.6 785.7L660.6 806.6L660.6 827.6L653.5 848.6L653.5 869.5L653.5 890.5L653.5 911.5L653.5 911.5L639.4 916.7L632.3 911.5L625.2 890.5L625.2 869.5L625.2 869.5L611.1 859L596.9 859L582.8 859L568.6 848.6L568.6 848.6L554.5 838.1L540.4 827.6L540.4 827.6L540.4 806.6L526.2 796.1L512.1 785.7L512.1 785.7L497.9 775.2L490.9 764.7L483.8 743.7L483.8 743.7L469.6 733.3L462.6 722.8L455.5 712.3L448.4 701.8L441.3 691.3M497.9 435.5L487.3 429.3L497.9 423L504 429.3L497.9 435.5M1530.5 418.8L1516.4 424L1502.2 408.3L1516.4 400.4L1530.5 404.8M527.4 389.1L526.2 397.8L522.7 387.3M1451.3 353.8L1451.3 366.4L1445.6 380.3L1438.6 387.3L1431.5 392.6L1417.3 399.9L1403.2 404.8L1389.1 403.1L1374.9 397.8L1367.8 387.3L1370.2 366.4L1374.9 362.9L1389.1 355.9L1398.5 345.4L1403.2 334.9L1410.3 324.4M1261.8 329.7L1247.6 324.4L1261.8 319.2L1268.8 324.4L1261.8 329.7M1320.7 327.9L1318.3 329.7L1311.3 324.4L1318.3 314M1240.5 303.5L1233.5 314L1231.7 306.1M1084.9 1603.3L1077.9 1592.8L1063.7 1587.6L1056.7 1582.3L1063.7 1571.9L1077.9 1571.9L1092 1571.9L1106.2 1582.3L1106.2 1582.3L1106.2 1582.3L1099.1 1603.3M1247.6 1603.3L1247.6 1582.3L1261.8 1571.9L1275.9 1561.4L1275.9 1561.4L1290 1550.9L1304.2 1561.4L1304.2 1561.4L1318.3 1571.9L1325.4 1582.3L1325.4 1603.3M1367.8 1603.3L1374.9 1592.8L1389.1 1603.3L1389.1 1603.3M1452.7 1603.3L1459.8 1592.8L1473.9 1603.3M809.1 1529.9L795 1519.4L809.1 1509L823.3 1519.4L823.3 1519.4L823.3 1519.4L809.1 1529.9M1332.5 953.4L1332.5 953.4L1332.5 932.4L1332.5 932.4L1346.6 921.9L1360.8 932.4L1360.8 932.4L1360.8 932.4L1353.7 953.4L1346.6 963.9L1332.5 953.4M1233.5 921.9L1219.3 911.5L1219.3 890.5L1219.3 890.5L1205.2 880L1191 880L1176.9 880L1162.7 880L1148.6 880L1134.5 869.5L1134.5 869.5L1134.5 848.6L1134.5 848.6L1148.6 838.1L1162.7 827.6L1162.7 827.6L1176.9 817.1L1191 806.6L1191 806.6L1205.2 801.4L1219.3 806.6L1219.3 806.6L1233.5 817.1L1247.6 827.6L1247.6 827.6L1247.6 848.6L1261.8 859L1275.9 869.5L1275.9 869.5L1275.9 890.5L1275.9 890.5L1261.8 901L1247.6 911.5L1247.6 911.5L1233.5 921.9M1516.4 921.9L1502.2 911.5L1516.4 901L1523.4 911.5L1516.4 921.9M1304.2 890.5L1304.2 890.5L1304.2 869.5L1304.2 848.6L1304.2 827.6L1304.2 827.6L1318.3 817.1L1332.5 827.6L1332.5 848.6L1332.5 869.5L1332.5 890.5L1318.3 901L1304.2 890.5M1191 848.6L1191 848.6L1205.2 859L1219.3 848.6L1219.3 848.6L1219.3 848.6L1205.2 838.1L1191 848.6L1191 848.6M441.3 465.9L455.5 471.2L455.5 471.2L469.6 481.7L483.8 492.2L483.8 492.2L497.9 502.6L512.1 513.1L512.1 513.1L526.2 523.6L540.4 534.1L540.4 534.1L540.4 555L554.5 558.5L568.6 562L582.8 565.5L596.9 567.6L611.1 570.8L625.2 576L625.2 576L625.2 597L625.2 617.9L639.4 628.4L653.5 638.9L653.5 638.9L653.5 659.9L653.5 680.8L667.7 691.3L681.8 701.8L681.8 701.8L696 712.3L710.1 722.8L710.1 722.8L724.2 733.3L738.4 733.3L752.5 733.3L766.7 743.7L766.7 743.7L780.8 754.2L795 764.7L795 764.7L795 785.7L809.1 796.1L823.3 806.6L823.3 806.6L837.4 817.1L851.5 817.1L865.7 817.1L879.8 817.1L894 817.1L908.1 827.6L908.1 827.6L922.3 838.1L936.4 827.6L936.4 827.6L936.4 806.6L950.6 796.1L964.7 796.1L978.9 796.1L993 806.6L993 806.6L993 827.6L1007.1 838.1L1021.3 827.6L1021.3 806.6L1021.3 806.6L1035.4 796.1L1049.6 785.7L1049.6 785.7L1063.7 775.2L1077.9 785.7L1077.9 785.7L1077.9 806.6L1092 817.1L1106.2 827.6L1106.2 827.6L1106.2 848.6L1106.2 869.5L1106.2 890.5L1106.2 911.5L1106.2 932.4L1106.2 932.4L1092 942.9L1077.9 932.4L1077.9 932.4L1063.7 921.9L1049.6 921.9L1035.4 921.9L1021.3 911.5L1021.3 911.5L1007.1 901L993 911.5L993 911.5L978.9 921.9L964.7 911.5L964.7 911.5L950.6 901L936.4 911.5L936.4 911.5L922.3 921.9L908.1 921.9L894 921.9L879.8 911.5L879.8 911.5L865.7 901L851.5 911.5L851.5 932.4L851.5 932.4L837.4 937.7L823.3 937.7L809.1 937.7L795 932.4L795 932.4L780.8 921.9L766.7 911.5L766.7 890.5L766.7 869.5L766.7 869.5L752.5 859L738.4 859L724.2 859L710.1 869.5L710.1 869.5L696 880L681.8 890.5L681.8 911.5L681.8 911.5L667.7 921.9L653.5 925.4L639.4 927.2L625.2 918.4L618.2 911.5L611.1 901L596.9 890.5L596.9 890.5L582.8 880L568.6 869.5L568.6 869.5L554.5 859L540.4 848.6L540.4 848.6L526.2 838.1L519.1 827.6L512.1 806.6L512.1 806.6L497.9 796.1L490.9 785.7L483.8 775.2L476.7 764.7L469.6 754.2L455.5 743.7L455.5 743.7L448.4 722.8L441.3 712.3M483.8 433.5L480.2 429.3L483.8 425.1L497.9 418.8L508 429.3L497.9 439.7L483.8 433.5M1530.5 439.7L1516.4 439.7L1502.2 439.7L1488.1 439.7L1473.9 429.3L1473.9 429.3L1473.9 429.3L1488.1 418.8L1492.8 408.3L1502.2 397.8L1516.4 395.2L1530.5 397.8M529.8 392.6L527.6 408.3L526.2 410.4L521.5 408.3L515.6 387.3M1457 362.2L1457 366.4L1452.7 387.3L1445.6 394.3L1431.5 403.1L1417.3 408.3L1431.5 418.8L1445.6 429.3L1431.5 439.7L1417.3 429.3L1417.3 429.3L1403.2 418.8L1389.1 418.8L1374.9 418.8L1367.8 408.3L1360.8 397.8L1353.7 387.3L1360.8 366.4L1360.8 366.4L1374.9 355.9L1389.1 345.4L1389.1 345.4L1389.1 324.4M1325.4 334.9L1318.3 340.2L1304.2 327.9L1297.1 324.4L1304.2 317.4L1313.6 303.5M1254.7 303.5L1261.8 308.7L1275.9 319.2L1283 324.4L1275.9 327.9L1261.8 340.2L1247.6 334.9L1233.5 329.7L1231.1 324.4L1228.2 311.3M837.4 1592.8L823.3 1582.3L823.3 1582.3L809.1 1571.9L795 1568.4L780.8 1566.6L766.7 1566.6L752.5 1566.6L745.5 1561.4L738.4 1550.9L724.2 1545.6L710.1 1540.4L710.1 1519.4L710.1 1498.5L710.1 1498.5L696 1488L681.8 1498.5L681.8 1498.5L667.7 1509L653.5 1509L639.4 1509L625.2 1498.5L625.2 1498.5L611.1 1488L596.9 1498.5L596.9 1519.4L596.9 1519.4L582.8 1529.9L568.6 1519.4L568.6 1519.4L554.5 1509L540.4 1498.5L540.4 1498.5L540.4 1477.5L540.4 1456.5L540.4 1435.6L540.4 1414.6L526.2 1404.1L512.1 1393.6L512.1 1372.7L512.1 1351.7L526.2 1341.2L540.4 1330.8L540.4 1330.8L554.5 1320.3L568.6 1330.8L568.6 1330.8L568.6 1351.7L568.6 1372.7L568.6 1393.6L568.6 1414.6L582.8 1425.1L596.9 1435.6L596.9 1435.6L611.1 1446.1L625.2 1446.1L639.4 1446.1L653.5 1435.6L653.5 1435.6L667.7 1425.1L681.8 1425.1L696 1425.1L710.1 1435.6L710.1 1435.6L724.2 1446.1L738.4 1446.1L752.5 1446.1L766.7 1456.5L766.7 1456.5L780.8 1467L795 1467L809.1 1467L823.3 1477.5L823.3 1477.5L837.4 1488L851.5 1498.5L851.5 1498.5L851.5 1519.4L865.7 1529.9L879.8 1519.4L879.8 1519.4L894 1509L908.1 1498.5L908.1 1498.5L922.3 1488L936.4 1498.5L936.4 1498.5L936.4 1519.4L936.4 1540.4L936.4 1561.4L936.4 1561.4L922.3 1566.6L908.1 1566.6L894 1566.6L879.8 1568.4L865.7 1571.9L851.5 1582.3L851.5 1582.3L837.4 1592.8M1070.8 1603.3L1063.7 1598.1L1049.6 1592.8L1042.5 1582.3L1049.6 1561.4L1049.6 1561.4L1063.7 1550.9L1077.9 1540.4L1077.9 1540.4L1092 1529.9L1106.2 1540.4L1106.2 1540.4L1120.3 1550.9L1134.5 1550.9L1148.6 1550.9L1162.7 1540.4L1162.7 1540.4L1176.9 1529.9L1191 1529.9L1205.2 1529.9L1219.3 1529.9L1233.5 1529.9L1247.6 1529.9L1261.8 1529.9L1275.9 1529.9L1290 1529.9L1304.2 1519.4L1304.2 1519.4L1318.3 1509L1332.5 1519.4L1332.5 1519.4L1346.6 1529.9L1360.8 1529.9L1374.9 1529.9L1389.1 1540.4L1389.1 1540.4L1403.2 1550.9L1410.3 1561.4L1410.3 1582.3L1417.3 1603.3L1417.3 1603.3M1134.5 1603.3L1120.3 1592.8L1113.2 1603.3M1219.3 1603.3L1219.3 1603.3L1205.2 1592.8L1191 1592.8L1176.9 1592.8L1162.7 1603.3L1162.7 1603.3M1353.7 1603.3L1360.8 1582.3L1360.8 1582.3L1360.8 1561.4L1360.8 1561.4L1346.6 1550.9L1332.5 1561.4L1332.5 1561.4L1332.5 1561.4L1339.6 1582.3L1339.6 1603.3M1438.6 1603.3L1445.6 1592.8L1452.7 1582.3L1452.7 1561.4L1459.8 1550.9L1473.9 1550.9L1488.1 1550.9L1502.2 1550.9L1516.4 1550.9L1523.4 1561.4L1523.4 1582.3L1523.4 1603.3M596.9 1582.3L611.1 1577.1L614.6 1577.1M1007.1 1571.9L1000.1 1561.4L1007.1 1550.9L1021.3 1561.4L1007.1 1571.9M483.8 1456.5L483.8 1456.5L483.8 1435.6L483.8 1435.6L497.9 1425.1L512.1 1435.6L512.1 1435.6L512.1 1456.5L512.1 1456.5L497.9 1467L483.8 1456.5M441.3 1320.3L455.5 1330.8L455.5 1330.8L469.6 1341.2L483.8 1351.7L483.8 1351.7L483.8 1372.7L483.8 1372.7L469.6 1383.2L455.5 1372.7L455.5 1372.7L441.3 1362.2M1530.5 1005.8L1516.4 1005.8L1502.2 995.3L1502.2 974.3L1502.2 974.3L1488.1 963.9L1473.9 953.4L1473.9 953.4L1473.9 932.4L1473.9 911.5L1473.9 890.5L1473.9 869.5L1473.9 869.5L1488.1 859L1502.2 848.6L1502.2 848.6L1516.4 838.1L1530.5 838.1M441.3 455.5L455.5 457.2L469.6 460.7L476.7 471.2L483.8 478.2L497.9 486.9L512.1 492.2L512.1 492.2L526.2 502.6L540.4 513.1L540.4 513.1L554.5 523.6L561.6 534.1L568.6 555L568.6 555L582.8 558.5L596.9 559.2L611.1 560.3L625.2 565.5L639.4 570.8L653.5 576L653.5 576L653.5 597L653.5 617.9L667.7 628.4L681.8 638.9L681.8 638.9L681.8 659.9L696 670.4L710.1 670.4L724.2 670.4L738.4 670.4L752.5 670.4L766.7 680.8L766.7 680.8L766.7 701.8L780.8 712.3L795 715.8L809.1 717.5L823.3 722.8L823.3 722.8L837.4 733.3L851.5 743.7L851.5 743.7L865.7 754.2L879.8 764.7L879.8 764.7L894 775.2L908.1 764.7L908.1 764.7L922.3 754.2L936.4 754.2L950.6 754.2L964.7 764.7L964.7 764.7L978.9 775.2L993 785.7L993 785.7L1007.1 796.1L1021.3 785.7L1021.3 764.7L1021.3 764.7L1035.4 754.2L1049.6 743.7L1049.6 743.7L1063.7 733.3L1077.9 743.7L1077.9 743.7L1092 754.2L1106.2 754.2L1120.3 754.2L1134.5 754.2L1148.6 754.2L1162.7 754.2L1176.9 754.2L1191 764.7L1191 785.7L1191 785.7L1205.2 790.9L1219.3 785.7L1219.3 785.7L1233.5 775.2L1247.6 785.7L1247.6 785.7L1247.6 806.6L1261.8 817.1L1275.9 806.6L1275.9 806.6L1290 796.1L1304.2 796.1L1318.3 796.1L1332.5 806.6L1332.5 806.6L1346.6 817.1L1360.8 827.6L1360.8 827.6L1360.8 848.6L1374.9 859L1389.1 859L1403.2 859L1417.3 848.6L1417.3 848.6L1431.5 838.1L1445.6 848.6L1445.6 869.5L1445.6 890.5L1445.6 911.5L1445.6 932.4L1445.6 953.4L1431.5 963.9L1417.3 953.4L1417.3 953.4L1403.2 942.9L1389.1 942.9L1374.9 942.9L1367.8 953.4L1360.8 974.3L1360.8 995.3L1360.8 1016.3L1360.8 1016.3L1346.6 1026.8L1332.5 1026.8L1318.3 1026.8L1304.2 1016.3L1304.2 1016.3L1290 1005.8L1275.9 995.3L1275.9 995.3L1261.8 984.8L1247.6 995.3L1247.6 995.3L1233.5 1005.8L1219.3 995.3L1219.3 995.3L1205.2 984.8L1191 974.3L1191 974.3L1176.9 963.9L1162.7 974.3L1162.7 974.3L1148.6 984.8L1134.5 995.3L1134.5 995.3L1120.3 1005.8L1106.2 1005.8L1092 1005.8L1077.9 995.3L1077.9 995.3L1063.7 984.8L1049.6 984.8L1035.4 984.8L1021.3 974.3L1021.3 974.3L1007.1 963.9L993 974.3L993 974.3L978.9 984.8L964.7 974.3L964.7 974.3L950.6 963.9L936.4 963.9L922.3 963.9L908.1 963.9L894 963.9L879.8 963.9L865.7 963.9L851.5 953.4L851.5 953.4L837.4 948.1L823.3 948.1L809.1 948.1L795 946.4L780.8 942.9L766.7 953.4L766.7 974.3L766.7 995.3L766.7 995.3L752.5 1005.8L738.4 995.3L738.4 995.3L724.2 984.8L717.2 974.3L710.1 953.4L710.1 953.4L696 942.9L681.8 942.9L667.7 942.9L653.5 942.9L639.4 942.9L625.2 932.4L625.2 932.4L611.1 921.9L596.9 911.5L596.9 911.5L582.8 901L568.6 890.5L568.6 890.5L554.5 880L540.4 869.5L540.4 869.5L526.2 859L512.1 848.6L512.1 848.6L505 827.6L497.9 817.1L483.8 806.6L483.8 806.6L476.7 785.7L469.6 775.2L455.5 764.7L455.5 764.7L441.3 754.2M1530.5 460.7L1516.4 460.7L1502.2 471.2L1502.2 471.2L1488.1 476.4L1473.9 471.2L1473.9 471.2L1459.8 460.7L1445.6 460.7L1431.5 460.7L1417.3 450.2L1417.3 450.2L1403.2 439.7L1389.1 439.7L1374.9 439.7L1371.4 429.3L1360.8 413.5L1353.7 408.3L1346.6 397.8L1339.6 387.3L1346.6 376.8L1351.3 366.4L1360.8 355.9L1374.9 348.9L1379.6 345.4L1379.6 338.4M483.8 441.8L473.2 429.3L483.8 416.7L497.9 414.6L512.1 414.3L512.1 429.3L512.1 429.3L497.9 443.9L483.8 441.8M1445.6 408.3L1445.6 408.3L1459.8 418.8L1473.9 408.3L1459.8 397.8L1445.6 408.3L1445.6 408.3M532.1 396.1L530.5 408.3L526.2 414.6L512.1 408.3L512.1 408.3L508.5 387.3M1099.1 387.3L1092 389.4L1090 387.3L1090 384.3M474.3 366.4L469.6 376.8L466.8 366.4L466.8 362.2M1473.9 366.4L1473.9 366.4L1488.1 376.8L1502.2 366.4M1502.2 366.4L1502.2 387.3L1516.4 390L1530.5 390.8M1191 345.4L1191 345.4L1191 366.4L1180.4 387.3L1184 408.3L1176.9 411.8L1174.1 408.3L1172.2 387.3L1172.2 366.4L1172.2 352.4M1330.1 341.9L1325.4 345.4L1318.3 350.6L1314.8 345.4L1304.2 334.9L1290 327.1L1275.9 334.9L1265.3 345.4L1261.8 355.9L1247.6 345.4L1247.6 345.4L1233.5 340.2L1226.4 324.4L1224.6 316.6M1268.8 293L1268.8 303.5L1275.9 308.7L1290 319.2L1304.2 303.5L1304.2 303.5M802 1603.3L795 1582.3L795 1582.3L780.8 1577.1L766.7 1577.1L752.5 1577.1L738.4 1571.9L731.3 1561.4L724.2 1556.1L710.1 1554.4L696 1550.9L681.8 1540.4L681.8 1540.4L667.7 1529.9L653.5 1529.9L639.4 1529.9L625.2 1529.9L611.1 1529.9L596.9 1540.4L596.9 1540.4L582.8 1550.9L568.6 1540.4L568.6 1540.4L554.5 1529.9L540.4 1519.4L540.4 1519.4L526.2 1509L512.1 1498.5L512.1 1498.5L497.9 1488L483.8 1488L469.6 1488L455.5 1488L441.3 1488M1021.3 1603.3L1007.1 1592.8L1000.1 1582.3L993 1571.9L985.9 1561.4L978.9 1550.9L964.7 1561.4L964.7 1561.4L957.6 1571.9M575.7 1582.3L582.8 1571.9L596.9 1568.4L611.1 1566.6L621.7 1566.6M943.5 1571.9L936.4 1575.3L922.3 1577.1L908.1 1577.1L894 1577.1L879.8 1582.3L879.8 1582.3L865.7 1592.8L851.5 1596.3L844.5 1603.3M441.3 1299.3L455.5 1309.8L455.5 1309.8L469.6 1320.3L483.8 1309.8L483.8 1309.8L497.9 1299.3L512.1 1288.8L512.1 1288.8L526.2 1278.3L540.4 1278.3L554.5 1278.3L568.6 1288.8L568.6 1288.8L582.8 1299.3L596.9 1299.3L611.1 1299.3L625.2 1309.8L625.2 1309.8L625.2 1330.8L639.4 1341.2L653.5 1351.7L653.5 1351.7L653.5 1372.7L667.7 1383.2L681.8 1393.7L681.8 1393.7L696 1404.1L710.1 1404.1L724.2 1404.1L738.4 1393.6L738.4 1372.7L738.4 1372.7L752.5 1362.2L766.7 1372.7L766.7 1372.7L766.7 1393.6L780.8 1404.1L795 1414.6L795 1414.6L809.1 1425.1L823.3 1435.6L823.3 1435.6L837.4 1446.1L851.5 1446.1L865.7 1446.1L879.8 1446.1L894 1446.1L908.1 1446.1L922.3 1446.1L936.4 1456.5L936.4 1456.5L936.4 1477.5L950.6 1488L964.7 1488L978.9 1488L993 1498.5L993 1498.5L1007.1 1509L1021.3 1519.4L1021.3 1519.4L1035.4 1529.9L1049.6 1519.4L1049.6 1519.4L1063.7 1509L1077.9 1498.5L1077.9 1498.5L1092 1488L1106.2 1498.5L1106.2 1498.5L1120.3 1509L1134.5 1519.4L1134.5 1519.4L1148.6 1529.9L1162.7 1519.4L1162.7 1498.5L1162.7 1498.5L1176.9 1488L1191 1488L1205.2 1488L1219.3 1488L1233.5 1488L1247.6 1477.5L1247.6 1477.5L1261.8 1467L1275.9 1477.5L1275.9 1477.5L1290 1488L1304.2 1488L1318.3 1488L1332.5 1498.5L1332.5 1498.5L1346.6 1509L1360.8 1509L1374.9 1509L1389.1 1519.4L1389.1 1519.4L1403.2 1529.9L1410.3 1540.4L1417.3 1550.9L1424.4 1561.4L1424.4 1582.3L1431.5 1592.8L1438.6 1582.3L1438.6 1561.4L1445.6 1550.9L1452.7 1540.4L1459.8 1529.9L1473.9 1519.4L1473.9 1519.4L1488.1 1509L1502.2 1512.5L1516.4 1514.2L1523.4 1519.4L1530.5 1529.9M837.4 1152.6L823.3 1142.1L823.3 1121.1L837.4 1110.6L851.5 1121.1L851.5 1121.1L851.5 1142.1L851.5 1142.1L837.4 1152.6M1530.5 1068.7L1523.4 1058.2L1516.4 1047.7L1502.2 1037.2L1502.2 1016.3L1502.2 1016.3L1488.1 1005.8L1473.9 995.3L1473.9 995.3L1459.8 984.8L1445.6 995.3L1445.6 995.3L1445.6 1016.3L1438.6 1037.2L1438.6 1058.2L1431.5 1068.7L1417.3 1058.2L1417.3 1058.2L1403.2 1047.7L1389.1 1037.2L1389.1 1026.8L1374.9 1026.8L1360.8 1037.2L1360.8 1037.2L1346.6 1047.7L1332.5 1047.7L1318.3 1047.7L1304.2 1047.7L1290 1047.7L1275.9 1037.2L1275.9 1037.2L1261.8 1026.8L1247.6 1037.2L1247.6 1037.2L1233.5 1047.7L1219.3 1037.2L1219.3 1037.2L1205.2 1026.8L1191 1016.3L1191 1016.3L1176.9 1005.8L1162.7 1005.8L1148.6 1005.8L1134.5 1016.3L1134.5 1016.3L1120.3 1026.8L1106.2 1026.8L1092 1026.8L1077.9 1037.2L1077.9 1037.2L1063.7 1047.7L1049.6 1047.7L1035.4 1047.7L1021.3 1037.2L1021.3 1037.2L1021.3 1016.3L1007.1 1005.8L993 1016.3L993 1016.3L978.9 1026.8L964.7 1016.3L964.7 1016.3L950.6 1005.8L936.4 995.3L936.4 995.3L922.3 984.8L908.1 984.8L894 984.8L879.8 984.8L865.7 984.8L851.5 984.8L837.4 984.8L823.3 995.3L823.3 1016.3L823.3 1016.3L809.1 1026.8L795 1026.8L780.8 1026.8L766.7 1037.2L766.7 1037.2L752.5 1047.7L738.4 1037.2L738.4 1037.2L738.4 1016.3L724.2 1005.8L710.1 1005.8L696 1005.8L681.8 1005.8L667.7 1005.8L653.5 995.3L667.7 984.8L681.8 984.8L696 984.8L703 974.3L696 963.9L681.8 963.9L667.7 963.9L653.5 963.9L639.4 963.9L625.2 953.4L625.2 953.4L611.1 942.9L596.9 932.4L596.9 932.4L582.8 921.9L568.6 921.9L554.5 921.9L547.4 911.5L547.4 890.5L540.4 883.5L526.2 874.8L512.1 869.5L512.1 869.5L497.9 859L483.8 848.6L483.8 848.6L483.8 827.6L469.6 817.1L455.5 806.6L455.5 806.6L441.3 796.1M1389.1 1016.3L1403.2 1026.8L1417.3 1016.3L1403.2 1005.8L1389.1 1016.3M1530.5 481.7L1516.4 481.7L1502.2 485.2L1488.1 486.9L1473.9 485.2L1459.8 481.7L1445.6 478.2L1431.5 476.4L1417.4 475.4L1403.2 474.7L1389.1 471.2L1389.1 471.2L1374.9 460.7L1370.2 450.2L1364.3 429.3L1360.8 424L1346.6 411.8L1339.6 408.3L1332.5 397.8L1325.4 387.3L1332.5 366.4L1318.3 361.1L1307.7 345.4L1304.2 341.9L1290 332.3L1275.9 341.9L1272.4 345.4L1275.9 355.9L1290 362.9L1304.2 366.4L1290 376.8L1275.9 376.8L1261.8 376.8L1247.6 366.4L1247.6 366.4L1233.5 355.9L1226.4 345.4L1221.7 324.4L1221.1 321.8M1261.8 418.8L1247.6 408.3L1261.8 397.8L1265.3 408.3L1261.8 418.8M441.3 403.1L455.5 397.8L462.6 387.3L461.1 366.4L461.1 353.8M534.5 399.6L533.3 408.3L526.2 418.8L516.1 429.3L512.1 436.2L497.9 448.1L483.8 450.2L490.9 471.2L497.9 476.4L512.1 478.2L526.2 481.7L540.4 471.2L540.4 471.2L554.5 465.9L558 471.2L558 492.2L559.2 513.1L568.6 527.1L575.7 534.1L582.8 544.6L596.9 548.1L611.1 549.8L625.2 555L625.2 555L639.4 560.3L653.5 565.5L667.7 570.8L681.8 576L681.8 576L681.8 597L696 607.5L710.1 617.9L710.1 617.9L710.1 638.9L724.2 649.4L738.4 649.4L752.5 649.4L766.7 659.9L766.7 659.9L780.8 670.4L795 680.8L795 680.8L795 701.8L809.1 707L823.3 701.8L823.3 701.8L837.4 691.3L851.5 691.3L865.7 691.3L879.8 701.8L879.8 701.8L879.8 722.8L879.8 743.7L894 754.2L908.1 743.7L908.1 743.7L922.3 738.5L936.4 736.7L950.6 733.3L964.7 743.7L964.7 743.7L978.9 754.2L993 743.7L993 743.7L1007.1 733.3L1021.3 733.3L1035.4 733.3L1049.6 722.8L1049.6 722.8L1063.7 712.3L1077.9 712.3L1092 712.3L1106.2 722.8L1106.2 722.8L1120.3 733.3L1134.5 722.8L1134.5 722.8L1148.6 712.3L1162.7 715.8L1176.9 717.5L1184 722.8L1191 743.7L1191 743.7L1205.2 754.2L1219.3 754.2L1233.5 754.2L1247.6 764.7L1247.6 764.7L1261.8 775.2L1275.9 778.7L1290 780.4L1304.2 780.4L1318.3 780.4L1332.5 785.7L1332.5 785.7L1346.6 796.1L1353.7 806.6L1360.8 813.6L1374.9 822.4L1389.1 827.6L1389.1 827.6L1403.2 838.1L1417.3 827.6L1417.3 827.6L1431.5 822.4L1445.6 827.6L1445.6 827.6L1459.8 838.1L1473.9 827.6L1473.9 827.6L1488.1 817.1L1502.2 817.1L1516.4 817.1L1530.5 817.1M1113.2 387.3L1106.2 390.8L1092 393.6L1086 387.3L1086 378.3M483.8 366.4L483.8 387.3L483.8 408.3L497.9 410.4L502.6 408.3L501.5 387.3M1339.6 345.4L1346.6 355.9L1360.8 345.4L1360.8 345.4M1196.7 337L1196.7 345.4L1205.2 361.1L1219.3 366.4L1219.3 366.4L1219.3 366.4L1205.2 369.9L1191 380.3L1187.5 387.3L1191 397.8L1198.1 408.3L1191 411.3L1176.9 418.8L1168.4 408.3L1162.7 387.3L1162.7 387.3L1162.7 366.4M1278.3 282.5L1283 303.5L1290 308.7L1294.8 303.5L1300.1 297.5M512.1 1582.3L512.1 1561.4L526.2 1550.9L540.4 1540.4L526.2 1529.9L512.1 1519.4L512.1 1519.4L497.9 1509L483.8 1509L469.6 1509L455.5 1509L441.3 1509M561.6 1582.3L568.6 1561.4L568.6 1561.4L568.6 1561.4L554.5 1550.9L540.4 1561.4L540.4 1582.3M1233.5 1404.1L1219.3 1393.6L1233.5 1383.2L1247.6 1393.6L1247.6 1393.6L1247.6 1393.7L1233.5 1404.1M1162.7 1372.7L1162.7 1372.7L1162.7 1372.7L1176.9 1362.2L1191 1372.7L1176.9 1383.2L1162.7 1372.7M1374.9 1341.2L1368.5 1330.8L1374.9 1320.3L1389.1 1330.8L1389.1 1330.8L1389.1 1330.8L1374.9 1341.2M1445.6 1330.8L1445.6 1330.8L1445.6 1330.8L1459.8 1320.3L1466.9 1330.8L1459.8 1341.2L1445.6 1330.8M1134.5 1309.8L1134.5 1309.8L1134.5 1309.8L1148.6 1299.3L1162.7 1309.8L1148.6 1320.3L1134.5 1309.8M1049.6 1288.8L1049.6 1288.8L1049.6 1288.8L1063.7 1278.3L1077.9 1288.8L1077.9 1288.8L1077.9 1288.8L1063.7 1299.3L1049.6 1288.8M441.3 1278.3L455.5 1267.9L455.5 1267.9L469.6 1257.4L483.8 1257.4L497.9 1257.4L512.1 1246.9L512.1 1246.9L526.2 1236.4L540.4 1236.4L554.5 1236.4L568.6 1246.9L568.6 1246.9L568.6 1267.9L582.8 1278.3L596.9 1267.9L596.9 1267.9L611.1 1257.4L625.2 1267.9L625.2 1267.9L639.4 1278.3L653.5 1288.8L653.5 1288.8L653.5 1309.8L667.7 1320.3L681.8 1330.8L681.8 1330.8L696 1341.2L710.1 1330.8L710.1 1330.8L724.2 1320.3L738.4 1309.8L738.4 1288.8L738.4 1288.8L752.5 1278.3L766.7 1288.8L766.7 1288.8L766.7 1309.8L780.8 1320.3L795 1330.8L795 1330.8L809.1 1341.2L823.3 1330.8L823.3 1330.8L837.4 1320.3L851.5 1320.3L865.7 1320.3L879.8 1320.3L894 1320.3L908.1 1309.8L908.1 1309.8L908.1 1309.8L894 1299.3L879.8 1288.8L879.8 1288.8L865.7 1278.3L851.5 1267.9L851.5 1257.4L837.4 1257.4L823.3 1246.9L837.4 1236.4L851.5 1246.9L851.5 1246.9L865.7 1257.4L879.8 1246.9L879.8 1225.9L879.8 1205L865.7 1194.5L851.5 1194.5L837.4 1194.5L823.3 1184L823.3 1184L809.1 1173.5L795 1163L795 1142.1L795 1142.1L780.8 1131.6L766.7 1121.1L766.7 1100.1L766.7 1079.2L766.7 1079.2L752.5 1068.7L738.4 1068.7L724.2 1068.7L710.1 1058.2L710.1 1058.2L696 1047.7L681.8 1037.2L681.8 1037.2L667.7 1026.8L653.5 1016.3L653.5 1016.3L639.4 1005.8L625.2 995.3L625.2 974.3L625.2 974.3L611.1 963.9L596.9 963.9L582.8 963.9L568.6 963.9L554.5 963.9L540.4 953.4L540.4 953.4L540.4 932.4L533.3 911.5L533.3 890.5L526.2 885.2L512.1 890.5L512.1 911.5L512.1 932.4L512.1 932.4L497.9 942.9L483.8 932.4L483.8 932.4L469.6 921.9L455.5 911.5L455.5 911.5L441.3 901M1417.3 1267.9L1417.3 1267.9L1403.2 1257.4L1389.1 1246.9L1389.1 1225.9L1389.1 1225.9L1374.9 1215.4L1368.5 1205L1360.8 1184L1374.9 1173.5L1389.1 1163L1389.1 1163L1403.2 1152.6L1417.3 1152.6L1431.5 1152.6L1445.6 1163L1445.6 1184L1445.6 1184L1459.8 1194.5L1473.9 1205L1473.9 1225.9L1473.9 1246.9L1473.9 1267.9L1459.8 1278.3L1445.6 1278.3L1431.5 1278.3L1417.3 1267.9M1021.3 1163L1021.3 1163L1021.3 1163L1035.4 1152.6L1049.6 1152.6L1063.7 1152.6L1077.9 1163L1077.9 1163L1077.9 1163L1063.7 1173.5L1049.6 1173.5L1035.4 1173.5L1021.3 1163M1120.3 1173.5L1106.2 1163L1120.3 1152.6L1134.5 1163L1134.5 1163L1134.5 1163L1120.3 1173.5M1530.5 1110.6L1523.4 1100.1L1516.4 1089.7L1502.2 1079.2L1502.2 1058.2L1502.2 1058.2L1488.1 1047.7L1473.9 1037.2L1473.9 1037.2L1459.8 1026.8L1452.7 1037.2L1452.7 1058.2L1445.6 1079.2L1445.6 1079.2L1431.5 1089.7L1417.3 1089.7L1403.2 1089.7L1389.1 1079.2L1389.1 1079.2L1374.9 1068.7L1360.8 1079.2L1360.8 1079.2L1346.6 1089.7L1332.5 1089.7L1318.3 1089.7L1304.2 1086.2L1290 1084.4L1275.9 1079.2L1275.9 1079.2L1261.8 1068.7L1247.6 1065.2L1233.5 1063.5L1219.3 1058.2L1219.3 1058.2L1205.2 1047.7L1191 1037.2L1191 1037.2L1176.9 1026.8L1162.7 1037.2L1162.7 1037.2L1148.6 1047.7L1134.5 1058.2L1134.5 1058.2L1120.3 1068.7L1106.2 1058.2L1106.2 1058.2L1092 1047.7L1077.9 1058.2L1077.9 1058.2L1063.7 1068.7L1049.6 1068.7L1035.4 1068.7L1021.3 1068.7L1007.1 1068.7L993 1068.7L978.9 1068.7L964.7 1068.7L950.6 1068.7L936.4 1058.2L936.4 1058.2L922.3 1047.7L908.1 1037.2L915.2 1016.3L908.1 1005.8L894 1005.8L886.9 1016.3L879.8 1037.2L879.8 1037.2L865.7 1047.7L851.5 1058.2L851.5 1079.2L865.7 1089.7L879.8 1100.1L879.8 1100.1L894 1110.6L908.1 1121.1L908.1 1121.1L908.1 1142.1L908.1 1163L908.1 1184L922.3 1194.5L936.4 1184L936.4 1184L950.6 1173.5L964.7 1184L964.7 1184L964.7 1205L964.7 1225.9L964.7 1225.9L950.6 1236.4L936.4 1246.9L950.6 1257.4L964.7 1267.9L964.7 1267.9L964.7 1288.8L964.7 1288.8L950.6 1299.3L936.4 1309.8L950.6 1320.3L964.7 1330.8L964.7 1330.8L964.7 1351.7L978.9 1362.2L993 1351.7L993 1330.8L993 1309.8L993 1288.8L993 1288.8L1007.1 1278.3L1021.3 1288.8L1021.3 1309.8L1021.3 1309.8L1035.4 1320.3L1049.6 1330.8L1035.4 1341.2L1021.3 1351.7L1021.3 1351.7L1007.1 1362.2L993 1372.7L993 1372.7L978.9 1383.2L964.7 1372.7L964.7 1362.2L950.6 1362.2L936.4 1372.7L936.4 1393.6L936.4 1414.6L936.4 1435.6L950.6 1446.1L964.7 1435.6L964.7 1435.6L978.9 1425.1L993 1425.1L1007.1 1425.1L1021.3 1435.6L1021.3 1456.5L1021.3 1456.5L1035.4 1467L1049.6 1467L1063.7 1467L1077.9 1467L1092 1467L1106.2 1467L1120.3 1467L1134.5 1477.5L1134.5 1477.5L1148.6 1488L1162.7 1477.5L1162.7 1456.5L1162.7 1435.6L1162.7 1414.6L1162.7 1414.6L1176.9 1404.1L1191 1414.6L1191 1435.6L1191 1435.6L1205.2 1446.1L1219.3 1446.1L1233.5 1446.1L1247.6 1435.6L1247.6 1435.6L1261.8 1425.1L1275.9 1425.1L1290 1425.1L1304.2 1435.6L1304.2 1435.6L1318.3 1446.1L1332.5 1456.5L1332.5 1456.5L1346.6 1467L1360.8 1477.5L1360.8 1477.5L1374.9 1488L1389.1 1498.5L1389.1 1498.5L1403.2 1509L1417.3 1519.4L1417.3 1519.4L1424.4 1540.4L1431.5 1550.9L1438.6 1540.4L1445.6 1519.4L1445.6 1498.5L1445.6 1477.5L1445.6 1477.5L1459.8 1467L1473.9 1467L1488.1 1467L1502.2 1477.5L1502.2 1477.5L1502.2 1498.5L1516.4 1503.7L1530.5 1509M894 670.4L886.9 659.9L886.9 638.9L886.9 617.9L894 612.7L908.1 617.9L908.1 617.9L922.3 628.4L929.3 638.9L929.3 659.9L922.3 665.1L908.1 666.9L894 670.4M950.6 670.4L943.5 659.9L950.6 649.4L957.6 659.9L950.6 670.4M1530.5 497.4L1516.4 502.6L1502.2 502.6L1488.1 502.6L1473.9 502.6L1459.8 502.6L1445.6 492.2L1445.6 492.2L1431.5 486.9L1417.3 483.8L1403.2 481.7L1389.1 481.7L1374.9 481.7L1370.2 471.2L1360.8 450.2L1360.8 450.2L1357.2 429.3L1346.6 418.8L1332.5 415.3L1325.4 408.3L1318.3 397.8L1304.2 392.6L1290 390.8L1275.9 397.8L1272.4 408.3L1275.9 429.3L1275.9 429.3L1275.9 429.3L1261.8 434.5L1247.6 429.3L1247.6 429.3L1233.5 418.8L1219.3 412.5L1205.2 410.9L1191 417.3L1176.9 425.8L1162.7 408.3L1162.7 408.3L1153.3 387.3L1153.3 380.3M582.8 432.8L575.7 429.3L582.8 418.8L585.6 429.3L582.8 432.8M441.3 392.6L448.4 387.3L455.5 366.4L455.5 345.4M536.8 403.1L536.1 408.3L526.2 423L520.2 429.3L512.1 443.2L502.6 450.2L512.1 464.2L526.2 467.7L540.4 462.8L554.5 455.5L565.1 471.2L565.1 492.2L568.6 513.1L568.6 513.1L582.8 528.8L596.9 534.1L596.9 534.1L611.1 539.3L625.2 534.1L625.2 534.1L639.4 523.6L653.5 534.1L653.5 534.1L653.5 555L667.7 560.3L681.8 562L696 565.5L710.1 576L710.1 576L724.2 586.5L738.4 597L738.4 597L752.5 607.5L766.7 617.9L766.7 617.9L766.7 638.9L780.8 649.4L795 638.9L795 638.9L809.1 633.7L823.3 638.9L823.3 638.9L823.3 659.9L837.4 670.4L851.5 673.9L865.7 675.6L879.8 680.8L879.8 680.8L894 691.3L908.1 701.8L908.1 701.8L908.1 722.8L922.3 728L936.4 722.8L936.4 722.8L936.4 701.8L950.6 691.3L964.7 691.3L971.8 680.8L978.9 670.4L993 680.8L993 680.8L1007.1 691.3L1021.3 680.8L1021.3 659.9L1021.3 659.9L1035.4 654.6L1049.6 659.9L1049.6 659.9L1063.7 670.4L1077.9 673.9L1092 675.6L1099.1 680.8L1106.2 701.8L1106.2 701.8L1120.3 712.3L1134.5 701.8L1134.5 701.8L1148.6 696.6L1162.7 701.8L1162.7 701.8L1176.9 707L1191 715.8L1198.1 722.8L1205.2 733.3L1219.3 736.7L1233.5 738.5L1247.6 743.7L1247.6 743.7L1261.8 754.2L1275.9 764.7L1275.9 764.7L1290 769.9L1304.2 769.9L1318.3 769.9L1332.5 775.2L1346.6 780.4L1353.7 785.7L1360.8 796.1L1367.8 806.6L1374.9 811.9L1389.1 813.6L1403.2 817.1L1417.3 813.6L1431.5 811.9L1445.6 813.6L1459.8 817.1L1473.9 806.6L1473.9 806.6L1488.1 796.1L1502.2 796.1L1516.4 796.1L1530.5 796.1M1194.6 387.3L1205.2 403.1L1219.3 397.8L1226.4 387.3L1219.3 380.3L1205.2 376.8L1194.6 387.3M1134.5 366.4L1134.5 387.3L1134.5 387.3L1120.3 397.8L1106.2 397.8L1092 397.8L1081.9 387.3L1081.9 372.4M1279.4 345.4L1290 355.9L1300.7 345.4L1290 337.5L1279.4 345.4M1202.3 328.6L1202.3 345.4L1205.2 350.6L1212.2 345.4L1212.2 324.4M1283 282.5L1290 298.2L1296.1 291.5M441.3 1571.9L455.5 1571.9L469.6 1571.9L483.8 1561.4L469.6 1550.9L455.5 1550.9L441.3 1550.9M1330.1 1393.6L1332.5 1397.1L1346.6 1404.1L1351.3 1393.6L1346.6 1376.9L1344.3 1372.7L1341.3 1351.7L1341.3 1330.8L1344.3 1309.8L1344.3 1288.8L1344.3 1267.9L1344.3 1246.9L1340.3 1225.9L1340.3 1205L1336.3 1184L1332.5 1163L1332.5 1163L1332.5 1142.1L1332.5 1142.1L1346.6 1131.6L1360.8 1121.1L1360.8 1121.1L1360.8 1121.1L1346.6 1110.6L1332.5 1110.6L1318.3 1110.6L1304.2 1100.1L1304.2 1100.1L1290 1094.9L1275.9 1093.2L1261.8 1089.7L1247.6 1079.2L1247.6 1079.2L1233.5 1073.9L1219.3 1072.2L1205.2 1068.7L1191 1058.2L1191 1058.2L1176.9 1047.7L1162.7 1058.2L1162.7 1058.2L1162.7 1079.2L1148.6 1089.7L1134.5 1100.1L1134.5 1121.1L1148.6 1131.6L1162.7 1142.1L1162.7 1163L1162.7 1163L1176.9 1173.5L1191 1173.5L1205.2 1173.5L1219.3 1173.5L1233.5 1173.5L1247.6 1173.5L1261.8 1173.5L1275.9 1173.5L1290 1173.5L1304.2 1173.5L1317 1184L1318.3 1205L1318.3 1205L1323.6 1225.9L1323.6 1246.9L1323.6 1267.9L1322.4 1288.8L1323.6 1309.8L1320.7 1330.8L1323.6 1351.7L1323.6 1372.7L1330.1 1393.6M1264.1 1330.8L1275.9 1345.7L1290 1337.7L1293.2 1330.8L1290 1323.8L1275.9 1315.8L1264.1 1330.8M1264.1 1288.8L1275.9 1303.8L1290 1295.8L1293.2 1288.8L1293.2 1267.9L1290 1260.9L1275.9 1252.9L1264.1 1267.9L1264.1 1288.8M1106.2 1267.9L1120.3 1278.3L1134.5 1267.9L1120.3 1257.4L1106.2 1267.9M1530.5 1278.3L1516.4 1278.3L1502.2 1288.8L1502.2 1309.8L1502.2 1309.8L1488.1 1320.3L1481 1330.8L1488.1 1341.2L1502.2 1351.7L1502.2 1351.7L1502.2 1372.7L1502.2 1393.6L1502.2 1414.6L1502.2 1435.6L1516.4 1446.1L1523.4 1456.5L1530.5 1467M441.3 1215.4L455.5 1205L455.5 1184L455.5 1184L469.6 1173.5L483.8 1184L483.8 1184L497.9 1194.5L512.1 1194.5L526.2 1194.5L540.4 1194.5L554.5 1194.5L568.6 1194.5L582.8 1194.5L596.9 1205L596.9 1205L611.1 1215.4L625.2 1225.9L625.2 1225.9L625.2 1246.9L639.4 1257.4L653.5 1267.9L653.5 1267.9L667.7 1278.3L681.8 1278.3L696 1278.3L710.1 1278.3L724.2 1278.3L738.4 1267.9L738.4 1246.9L738.4 1225.9L738.4 1205L738.4 1184L738.4 1163L738.4 1142.1L738.4 1121.1L724.2 1110.6L710.1 1100.1L710.1 1100.1L696 1089.7L681.8 1079.2L681.8 1079.2L667.7 1068.7L653.5 1058.2L653.5 1037.2L653.5 1037.2L639.4 1026.8L625.2 1026.8L611.1 1026.8L596.9 1016.3L596.9 995.3L596.9 995.3L582.8 984.8L568.6 984.8L554.5 984.8L540.4 974.3L540.4 974.3L526.2 963.9L512.1 974.3L512.1 995.3L512.1 995.3L497.9 1005.8L483.8 1005.8L469.6 1005.8L455.5 1005.8L441.3 1005.8M936.4 1121.1L950.6 1131.6L957.6 1121.1L957.6 1100.1L950.6 1089.7L936.4 1100.1L936.4 1121.1M971.8 1121.1L978.9 1131.6L993 1131.6L1007.1 1131.6L1021.3 1121.1L1007.1 1110.6L993 1110.6L978.9 1110.6L971.8 1121.1M1530.5 1131.6L1516.4 1131.6L1502.2 1121.1L1502.2 1100.1L1502.2 1100.1L1488.1 1089.7L1473.9 1089.7L1459.8 1089.7L1445.6 1100.1L1445.6 1100.1L1445.6 1121.1L1445.6 1142.1L1445.6 1142.1L1459.8 1152.6L1473.9 1163L1473.9 1184L1473.9 1184L1488.1 1194.5L1502.2 1205L1502.2 1205L1502.2 1225.9L1516.4 1236.4L1530.5 1236.4M908.1 680.8L922.3 691.3L929.3 680.8L922.3 675.6L908.1 680.8M809.1 607.5L802 597L809.1 586.5L823.3 597L823.3 597L823.3 597L809.1 607.5M809.1 518.4L805.6 513.1L809.1 507.9L823.3 513.1L823.3 513.1L823.3 513.1L809.1 518.4M1530.5 507.9L1523.4 513.1L1516.4 518.4L1502.2 518.4L1488.1 518.4L1473.9 520.1L1459.8 523.6L1452.7 513.1L1445.6 506.1L1431.5 497.4L1417.3 492.2L1417.3 492.2L1403.2 488.7L1389.1 492.2L1389.1 492.2L1374.9 502.6L1371.4 492.2L1360.8 471.2L1360.8 471.2L1351.3 450.2L1350.2 429.3L1346.6 425.8L1332.5 429.3L1332.5 429.3L1318.3 439.7L1304.2 450.2L1304.2 450.2L1290 460.7L1275.9 450.2L1275.9 450.2L1261.8 445L1247.6 439.7L1233.5 434.5L1228.8 429.3L1219.3 420.9L1205.2 416.2L1191 423.3L1181.6 429.3L1176.9 431.9L1169.8 429.3L1162.7 422.3L1157.1 408.3L1148.6 392.6L1134.5 401.3L1127.4 408.3L1120.3 410.9L1113.2 408.3L1106.2 404.8L1092 402L1077.9 387.3L1077.9 366.4M611.1 481.7L604 471.2L611.1 460.7L618.2 471.2L611.1 481.7M1279.4 408.3L1290 424L1304.2 418.8L1311.3 408.3L1304.2 403.1L1290 397.8L1279.4 408.3M539.2 406.5L538.9 408.3L526.2 427.2L524.2 429.3L512.1 450.2L526.2 460.7L540.4 454.4L547.4 450.2L554.5 439.7L561.6 429.3M586.3 403.1L586.3 408.3L591.3 429.3L582.8 439.7L568.6 439.7L561.6 450.2L568.6 460.7L572.2 471.2L572.2 492.2L578.1 513.1L582.8 518.4L596.9 520.1L611.1 523.6L625.2 513.1L625.2 513.1L639.4 502.6L653.5 513.1L653.5 513.1L667.7 523.6L681.8 534.1L681.8 534.1L696 544.6L710.1 544.6L724.2 544.6L738.4 555L738.4 555L752.5 565.5L759.6 576L759.6 597L766.7 604L780.8 612.7L795 617.9L795 617.9L809.1 623.2L823.3 628.4L837.4 633.7L851.5 638.9L851.5 638.9L851.5 659.9L865.7 665.1L872.8 659.9L872.8 638.9L872.8 617.9L879.8 611L894 602.2L908.1 604L922.3 607.5L936.4 611L950.6 612.7L964.7 617.9L964.7 617.9L978.9 628.4L993 638.9L993 638.9L1007.1 649.4L1021.3 645.9L1035.4 644.2L1049.6 649.4L1063.7 654.6L1077.9 659.9L1077.9 659.9L1092 665.1L1106.2 673.9L1113.2 680.8L1120.3 691.3L1134.5 687.8L1148.6 686.1L1162.7 687.8L1176.9 691.3L1191 701.8L1191 701.8L1205.2 712.3L1219.3 722.8L1219.3 722.8L1233.5 728L1247.6 729.8L1261.8 733.3L1268.8 743.7L1275.9 750.7L1290 759.5L1304.2 759.5L1318.3 759.5L1332.5 764.7L1332.5 764.7L1346.6 769.9L1360.8 775.2L1367.8 785.7L1374.9 796.1L1389.1 785.7L1389.1 785.7L1403.2 775.2L1417.3 785.7L1417.3 785.7L1431.5 796.1L1445.6 796.1L1459.8 796.1L1473.9 785.7L1473.9 785.7L1488.1 775.2L1502.2 775.2L1516.4 775.2L1530.5 775.2M1010.7 403.1L1010.7 408.3L1007.1 411.8L993 408.3L993 408.3L993 387.3M1201.6 387.3L1205.2 392.6L1212.2 387.3L1205.2 383.8L1201.6 387.3M441.3 382.1L449.8 366.4L449.8 345.4M1286.5 345.4L1290 348.9L1293.6 345.4L1290 342.8L1286.5 345.4M1287.7 282.5L1290 287.7L1292.1 285.5M1530.5 1152.6L1516.4 1152.6L1502.2 1163L1516.4 1173.5L1530.5 1173.5M441.3 1131.6L455.5 1131.6L469.6 1131.6L483.8 1131.6L497.9 1131.6L512.1 1121.1L512.1 1121.1L526.2 1110.6L540.4 1100.1L540.4 1079.2L526.2 1068.7L512.1 1058.2L512.1 1058.2L497.9 1047.7L483.8 1037.2L483.8 1037.2L469.6 1026.8L455.5 1037.2L455.5 1037.2L441.3 1047.7M1162.7 1121.1L1162.7 1121.1L1176.9 1131.6L1191 1121.1L1191 1121.1L1205.2 1110.6L1219.3 1110.6L1219.3 1100.1L1219.3 1100.1L1205.2 1089.7L1191 1089.7L1176.9 1089.7L1162.7 1100.1L1162.7 1100.1L1162.7 1121.1M1219.3 1121.1L1233.5 1131.6L1247.6 1131.6L1261.8 1131.6L1275.9 1121.1L1261.8 1110.6L1247.6 1110.6L1233.5 1110.6L1219.3 1121.1M568.6 1079.2L582.8 1089.7L596.9 1079.2L596.9 1079.2L596.9 1058.2L596.9 1058.2L582.8 1047.7L568.6 1058.2L568.6 1079.2M512.1 1037.2L526.2 1047.7L540.4 1037.2L526.2 1026.8L512.1 1037.2M823.3 617.9L837.4 623.2L851.5 617.9L851.5 617.9L851.5 607.5L837.4 607.5L823.3 617.9M1530.5 565.5L1523.4 555L1523.4 534.1L1516.4 528.8L1502.2 528.8L1488.1 528.8L1473.9 534.1L1473.9 534.1L1459.8 544.6L1445.6 534.1L1445.6 534.1L1438.6 513.1L1431.5 507.9L1417.3 506.1L1403.2 502.6L1389.1 513.1L1389.1 513.1L1374.9 523.6L1370.2 513.1L1364.3 492.2L1360.8 485.2L1351.3 471.2L1346.6 460.7L1332.5 460.7L1318.3 460.7L1304.2 471.2L1304.2 471.2L1290 481.7L1275.9 481.7L1261.8 481.7L1247.6 471.2L1247.6 450.2L1247.6 450.2L1233.5 445L1219.3 450.2L1219.3 450.2L1205.2 455.5L1200.5 450.2L1205.2 445L1219.3 445L1219.3 429.3L1219.3 429.3L1205.2 421.4L1191 429.3L1191 429.3L1176.9 437.1L1162.7 433.5L1155.7 429.3L1151.4 408.3L1148.6 403.1L1141.5 408.3L1134.5 413.5L1120.3 416.2L1106.2 413.5L1099.1 408.3L1092 406.2L1077.9 397.8L1073.8 387.3L1073.8 372.4M809.1 528.8L798.5 513.1L809.1 497.4L823.3 492.2L823.3 492.2L837.4 481.7L844.5 492.2L844.5 513.1L837.4 523.6L823.3 527.1L809.1 528.8M521.5 450.2L526.2 453.7L533.3 450.2L526.2 439.7L521.5 450.2M639.4 439.7L634.7 429.3L639.4 424L653.5 429.3L653.5 429.3L653.5 429.3L639.4 439.7M729 408.3L729 429.3L729 450.2L731.3 471.2L731.3 492.2L738.4 513.1L738.4 513.1L752.5 523.6L759.6 534.1L766.7 555L766.7 555L773.8 576L773.8 597L780.8 602.2L787.9 597L795 576L795 576L795 555L809.1 544.6L823.3 555L823.3 555L823.3 576L837.4 586.5L851.5 597L851.5 597L865.7 607.5L879.8 597L879.8 576L879.8 576L894 565.5L901.1 576L908.1 586.5L922.3 591.7L936.4 597L936.4 597L950.6 602.2L964.7 604L978.9 607.5L993 617.9L993 617.9L1007.1 628.4L1021.3 631.9L1035.4 633.7L1049.6 638.9L1049.6 638.9L1063.7 644.2L1077.9 645.9L1092 649.4L1106.2 659.9L1106.2 659.9L1120.3 670.4L1134.5 673.9L1148.6 675.6L1162.7 673.9L1176.9 670.4L1184 680.8L1191 687.8L1205.2 696.6L1219.3 701.8L1219.3 701.8L1233.5 712.3L1247.6 712.3L1261.8 712.3L1268.8 722.8L1275.9 733.3L1283 743.7L1290 749L1304.2 749L1318.3 749L1332.5 750.7L1346.6 754.2L1360.8 754.2L1374.9 754.2L1389.1 754.2L1403.2 754.2L1417.3 754.2L1431.5 754.2L1445.6 764.7L1445.6 764.7L1459.8 775.2L1473.9 764.7L1473.9 764.7L1488.1 754.2L1502.2 754.2L1516.4 754.2L1530.5 754.2M1286.5 408.3L1290 413.5L1297.1 408.3L1290 404.8L1286.5 408.3M593.4 392.6L593.4 408.3L596.9 429.3L596.9 429.3L596.9 446.9L582.8 446.7L575.7 450.2L579.3 471.2L579.3 492.2L582.8 502.6L596.9 492.2L596.9 492.2L596.9 492.2L589.9 471.2L596.9 450.2L596.9 450.2L611.1 446.7L625.2 450.2L625.2 450.2L632.3 471.2L639.4 481.7L653.5 492.2L653.5 492.2L667.7 502.6L681.8 513.1L681.8 513.1L696 523.6L710.1 513.1L710.1 513.1L710.1 492.2L717.2 471.2L719.5 450.2L717.2 429.3L717.2 408.3L717.2 397.8M674.7 397.8L674.7 408.3L667.7 418.8L660.6 408.3L660.6 397.8M1017.8 392.6L1017.8 408.3L1007.1 418.8L993 422.3L985.9 429.3L978.9 439.7L964.7 450.2L964.7 450.2L950.6 455.5L947.7 450.2L950.6 439.7L964.7 439.7L964.7 429.3L964.7 408.3M1038 387.3L1035.4 390.8L1028.4 387.3M441.3 371.6L444.2 366.4L444.2 345.4M1445.6 743.7L1445.6 743.7L1459.8 754.2L1473.9 743.7L1459.8 733.3L1445.6 733.3L1445.6 743.7M1530.5 628.4L1516.4 628.4L1502.2 617.9L1502.2 597L1502.2 576L1502.2 576L1488.1 565.5L1473.9 565.5L1459.8 565.5L1445.6 555L1445.6 555L1431.5 544.6L1417.3 534.1L1417.3 534.1L1403.2 523.6L1389.1 534.1L1389.1 534.1L1374.9 544.6L1367.8 534.1L1360.8 513.1L1360.8 513.1L1357.2 492.2L1346.6 476.4L1332.5 478.2L1318.3 481.7L1304.2 492.2L1304.2 492.2L1290 502.6L1275.9 502.6L1261.8 502.6L1247.6 492.2L1247.6 492.2L1233.5 481.7L1219.3 471.2L1219.3 471.2L1205.2 465.9L1191 465.9L1191 450.2L1176.9 442.4L1162.7 441.8L1148.6 439.7L1141.5 429.3L1134.5 424L1120.3 421.4L1106.2 424L1099.1 429.3L1092 439.7L1077.9 429.3L1077.9 408.3L1077.9 408.3L1069.8 387.3L1069.8 378.3M915.2 576L922.3 581.3L936.4 576L936.4 576L936.4 565.5L922.3 565.5L915.2 576M978.9 544.6L964.7 534.1L978.9 523.6L985.9 534.1L978.9 544.6M1176.9 481.7L1169.8 471.2L1176.9 465.9L1191 471.2L1176.9 481.7M851.5 471.2L851.5 471.2L858.6 492.2L858.6 513.1L851.5 534.1L851.5 555L865.7 565.5L879.8 555L879.8 555L894 544.6L908.1 548.1L922.3 549.8L936.4 555L936.4 555L950.6 565.5L964.7 576L964.7 576L978.9 586.5L993 597L993 597L1007.1 607.5L1021.3 617.9L1021.3 617.9L1035.4 623.2L1049.6 624.9L1063.7 628.4L1077.9 631.9L1092 633.7L1106.2 638.9L1106.2 638.9L1120.3 649.4L1134.5 659.9L1134.5 659.9L1148.6 665.1L1162.7 659.9L1162.7 659.9L1176.9 649.4L1191 659.9L1191 659.9L1198.1 680.8L1205.2 686.1L1219.3 680.8L1219.3 680.8L1233.5 670.4L1247.6 680.8L1247.6 680.8L1261.8 691.3L1275.9 701.8L1275.9 701.8L1283 722.8L1290 733.3L1304.2 722.8L1304.2 701.8L1304.2 701.8L1311.3 680.8L1318.3 670.4L1332.5 680.8L1332.5 701.8L1332.5 701.8L1346.6 712.3L1360.8 722.8L1360.8 722.8L1374.9 733.3L1389.1 733.3L1403.2 733.3L1417.3 733.3L1431.5 733.3L1445.6 722.8L1445.6 722.8L1459.8 712.3L1473.9 722.8L1473.9 733.3L1488.1 733.3L1502.2 722.8L1502.2 722.8L1502.2 701.8L1516.4 691.3L1530.5 691.3M1200.5 429.3L1205.2 434.5L1209.9 429.3L1205.2 426.6L1200.5 429.3M738.4 408.3L738.4 429.3L738.4 450.2L745.5 471.2L745.5 492.2L752.5 502.6L759.6 513.1L766.7 523.6L773.8 534.1L780.8 544.6L795 534.1L795 534.1L795 534.1L791.4 513.1L795 492.2L795 492.2L809.1 481.7L823.3 471.2L823.3 471.2L823.3 450.2L823.3 429.3M600.5 392.6L600.5 408.3L602.6 429.3L611.1 439.7L625.2 429.3L625.2 429.3L639.4 413.5L646.4 408.3L650 387.3L650 366.4M685.3 387.3L688.9 408.3L681.8 429.3L681.8 429.3L667.7 439.7L653.5 450.2L653.5 471.2L667.7 481.7L681.8 481.7L696 481.7L703 471.2L710.1 450.2L710.1 450.2L710.1 450.2L703 429.3L703 408.3L706.6 387.3M1043.2 387.3L1035.4 397.8L1024.8 408.3L1021.3 415.3L1007.1 425.8L1000.1 429.3L993 439.7L985.9 450.2L978.9 455.5L964.7 460.7L950.6 465.9L942.1 450.2L945.8 436.2M773.8 513.1L780.8 523.6L784.4 513.1L780.8 502.6L773.8 513.1M681.8 450.2L696 460.7L700.7 450.2L696 439.7L681.8 450.2M861 457.2L865.7 460.7L879.8 450.2M879.8 450.2L879.8 471.2L879.8 492.2L879.8 513.1L894 523.6L908.1 534.1L908.1 534.1L922.3 539.3L936.4 534.1L936.4 534.1L950.6 523.6L964.7 513.1L964.7 513.1L978.9 502.6L993 513.1L993 513.1L1000.1 534.1L993 555L993 576L1007.1 586.5L1021.3 597L1021.3 597L1035.4 607.5L1049.6 607.5L1063.7 607.5L1077.9 617.9L1077.9 617.9L1092 623.2L1106.2 624.9L1120.3 628.4L1134.5 628.4L1148.6 628.4L1162.7 617.9L1162.7 617.9L1176.9 607.5L1191 617.9L1191 638.9L1191 638.9L1205.2 649.4L1219.3 649.4L1233.5 649.4L1247.6 659.9L1247.6 659.9L1261.8 670.4L1275.9 680.8L1275.9 680.8L1290 691.3L1297.1 680.8L1304.2 659.9L1304.2 638.9L1304.2 638.9L1318.3 628.4L1332.5 638.9L1332.5 638.9L1346.6 649.4L1360.8 659.9L1360.8 659.9L1360.8 680.8L1360.8 701.8L1374.9 712.3L1389.1 712.3L1403.2 712.3L1417.3 701.8L1417.3 701.8L1431.5 691.3L1445.6 691.3L1459.8 691.3L1473.9 680.8L1473.9 659.9L1473.9 638.9L1473.9 617.9L1459.8 607.5L1445.6 597L1445.6 597L1431.5 586.5L1417.3 576L1417.3 576L1417.3 555L1403.2 544.6L1389.1 555L1389.1 555L1374.9 565.5L1360.8 555L1360.8 555L1353.7 534.1L1351.3 513.1L1350.2 492.2L1346.6 486.9L1332.5 492.2L1332.5 492.2L1332.5 513.1L1332.5 534.1L1318.3 544.6L1304.2 544.6L1290 544.6L1275.9 534.1L1275.9 534.1L1261.8 523.6L1247.6 513.1L1247.6 513.1L1233.5 502.6L1219.3 492.2L1219.3 492.2L1205.2 481.7L1191 492.2L1191 492.2L1176.9 502.6L1162.7 492.2L1162.7 492.2L1155.7 471.2L1148.6 460.7L1134.5 450.2L1134.5 450.2L1127.4 429.3L1120.3 426.6L1113.2 429.3L1106.2 450.2L1106.2 471.2L1106.2 471.2L1092 481.7L1077.9 471.2L1077.9 471.2L1063.7 460.7L1056.7 450.2L1056.7 429.3L1056.7 408.3L1063.7 397.8L1065.7 387.3L1065.7 384.3M1162.7 450.2L1162.7 450.2L1176.9 455.5L1181.6 450.2L1176.9 447.6L1162.7 450.2L1162.7 450.2M747.8 408.3L747.8 429.3L747.8 450.2L752.5 460.7L766.7 471.2L766.7 471.2L780.8 481.7L795 471.2L795 471.2L809.1 460.7L813.8 450.2L813.8 443.2M607.5 403.1L607.5 408.3L608.3 429.3L611.1 432.8L615.8 429.3L625.2 408.3L625.2 408.3L639.4 397.8L642.9 387.3L642.9 366.4M692.4 387.3L696 397.8L699.5 387.3M1048.3 387.3L1035.4 404.8L1031.9 408.3L1021.3 429.3L1021.3 429.3L1007.1 439.7L1000.1 450.2L993 460.7L978.9 465.9L964.7 471.2L964.7 471.2L950.6 481.7L936.4 471.2L936.4 450.2L936.4 450.2"/></g><rect x="285.6" y="135.4" width="1697.6" height="1467.8999999999999" fill="none" stroke="#262626" stroke-width="2.2"/><path d="M427.2 1603.3V1585.3M427.2 135.4V153.4M710.1 1603.3V1585.3M710.1 135.4V153.4M993.0 1603.3V1585.3M993.0 135.4V153.4M1275.9 1603.3V1585.3M1275.9 135.4V153.4M1558.8 1603.3V1585.3M1558.8 135.4V153.4M1841.7 1603.3V1585.3M1841.7 135.4V153.4M285.6 1603.3H303.6M1983.2 1603.3H1965.2M285.6 1393.6H303.6M1983.2 1393.6H1965.2M285.6 1184.0H303.6M1983.2 1184.0H1965.2M285.6 974.3H303.6M1983.2 974.3H1965.2M285.6 764.7H303.6M1983.2 764.7H1965.2M285.6 555.0H303.6M1983.2 555.0H1965.2M285.6 345.4H303.6M1983.2 345.4H1965.2M285.6 135.8H303.6M1983.2 135.8H1965.2" stroke="#262626" stroke-width="2.2" fill="none"/><text x="427.2" y="1677" font-size="64" fill="#262626" text-anchor="middle">0</text><text x="710.1" y="1677" font-size="64" fill="#262626" text-anchor="middle">2</text><text x="993.0" y="1677" font-size="64" fill="#262626" text-anchor="middle">4</text><text x="1275.9" y="1677" font-size="64" fill="#262626" text-anchor="middle">6</text><text x="1558.8" y="1677" font-size="64" fill="#262626" text-anchor="middle">8</text><text x="1841.7" y="1677" font-size="64" fill="#262626" text-anchor="middle">10</text><text x="261" y="1621.3" font-size="64" fill="#262626" text-anchor="end">80</text><text x="261" y="1411.6" font-size="64" fill="#262626" text-anchor="end">85</text><text x="261" y="1202.0" font-size="64" fill="#262626" text-anchor="end">90</text><text x="261" y="992.3" font-size="64" fill="#262626" text-anchor="end">95</text><text x="261" y="782.7" font-size="64" fill="#262626" text-anchor="end">100</text><text x="261" y="573.0" font-size="64" fill="#262626" text-anchor="end">105</text><text x="261" y="363.4" font-size="64" fill="#262626" text-anchor="end">110</text><text x="261" y="153.8" font-size="64" fill="#262626" text-anchor="end">115</text><text x="1134.4" y="1755" font-size="75" fill="#262626" text-anchor="middle">UT (Hour)</text><text transform="translate(121,870) rotate(-90)" x="0" y="0" font-size="75" fill="#262626" text-anchor="middle">Altitude (km)</text><text x="1135.2" y="109.8" font-size="86" font-weight="bold" fill="#000" text-anchor="middle" textLength="1030" lengthAdjust="spacingAndGlyphs">Meridional Wind 20161109</text><rect x="2023.3" y="1497.57" width="86.50000000000023" height="105.53" fill="#0000bf"/><rect x="2023.3" y="1392.64" width="86.50000000000023" height="105.53" fill="#0000ff"/><rect x="2023.3" y="1287.71" width="86.50000000000023" height="105.53" fill="#0040ff"/><rect x="2023.3" y="1182.79" width="86.50000000000023" height="105.53" fill="#0080ff"/><rect x="2023.3" y="1077.86" width="86.50000000000023" height="105.53" fill="#00bfff"/><rect x="2023.3" y="972.93" width="86.50000000000023" height="105.53" fill="#00ffff"/><rect x="2023.3" y="868.0" width="86.50000000000023" height="105.53" fill="#40ffbf"/><rect x="2023.3" y="763.07" width="86.50000000000023" height="105.53" fill="#80ff80"/><rect x="2023.3" y="658.14" width="86.50000000000023" height="105.53" fill="#bfff40"/><rect x="2023.3" y="553.21" width="86.50000000000023" height="105.53" fill="#ffff00"/><rect x="2023.3" y="448.29" width="86.50000000000023" height="105.53" fill="#ffbf00"/><rect x="2023.3" y="343.36" width="86.50000000000023" height="105.53" fill="#ff8000"/><rect x="2023.3" y="238.43" width="86.50000000000023" height="105.53" fill="#ff4000"/><rect x="2023.3" y="133.5" width="86.50000000000023" height="105.53" fill="#ff0000"/><rect x="2023.3" y="133.5" width="86.50000000000023" height="1469.0" fill="none" stroke="#262626" stroke-width="2.2"/><path d="M2109.8 1497.6H2093.8M2109.8 1392.6H2093.8M2109.8 1287.7H2093.8M2109.8 1182.8H2093.8M2109.8 1077.9H2093.8M2109.8 972.9H2093.8M2109.8 868.0H2093.8M2109.8 763.1H2093.8M2109.8 658.1H2093.8M2109.8 553.2H2093.8M2109.8 448.3H2093.8M2109.8 343.4H2093.8M2109.8 238.4H2093.8" stroke="#262626" stroke-width="2.2" fill="none"/><text x="2132" y="1513.6" font-size="58" fill="#262626">-140</text><text x="2132" y="1408.6" font-size="58" fill="#262626">-120</text><text x="2132" y="1303.7" font-size="58" fill="#262626">-100</text><text x="2132" y="1198.8" font-size="58" fill="#262626">-80</text><text x="2132" y="1093.9" font-size="58" fill="#262626">-60</text><text x="2132" y="988.9" font-size="58" fill="#262626">-40</text><text x="2132" y="884.0" font-size="58" fill="#262626">-20</text><text x="2132" y="779.1" font-size="58" fill="#262626">0</text><text x="2132" y="674.1" font-size="58" fill="#262626">20</text><text x="2132" y="569.2" font-size="58" fill="#262626">40</text><text x="2132" y="464.3" font-size="58" fill="#262626">60</text><text x="2132" y="359.4" font-size="58" fill="#262626">80</text><text x="2132" y="254.4" font-size="58" fill="#262626">100</text><text x="2031" y="105" font-size="68" fill="#000">m/s</text></svg></body></html>
